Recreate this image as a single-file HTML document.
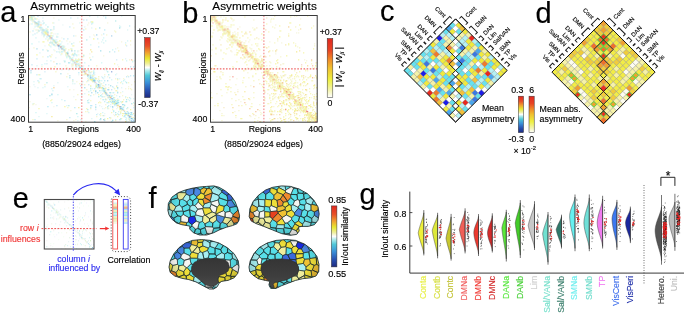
<!DOCTYPE html><html><head><meta charset="utf-8"><style>
html,body{margin:0;padding:0;background:#fff;}body{width:685px;height:315px;overflow:hidden;}
svg{display:block;will-change:transform;filter:blur(0.3px);font-family:"Liberation Sans", sans-serif;}
</style></head><body>
<svg width="685" height="315" viewBox="0 0 685 315">
<defs>
<linearGradient id="gdiv" x1="0" y1="1" x2="0" y2="0"><stop offset="0.000" stop-color="#1e2a80"/><stop offset="0.120" stop-color="#2850b0"/><stop offset="0.250" stop-color="#3a90d8"/><stop offset="0.370" stop-color="#50c8d8"/><stop offset="0.450" stop-color="#b0ecec"/><stop offset="0.500" stop-color="#ffffff"/><stop offset="0.560" stop-color="#f0f0a0"/><stop offset="0.650" stop-color="#e8e830"/><stop offset="0.750" stop-color="#f0a030"/><stop offset="0.860" stop-color="#e85028"/><stop offset="1.000" stop-color="#e02820"/></linearGradient>
<linearGradient id="gseq" x1="0" y1="1" x2="0" y2="0"><stop offset="0.000" stop-color="#ffffff"/><stop offset="0.120" stop-color="#f4f4b0"/><stop offset="0.300" stop-color="#eef040"/><stop offset="0.500" stop-color="#f0c030"/><stop offset="0.650" stop-color="#f08828"/><stop offset="0.800" stop-color="#e84424"/><stop offset="1.000" stop-color="#e02820"/></linearGradient>
<radialGradient id="bshade" cx="0.5" cy="0.45" r="0.6"><stop offset="0.6" stop-color="#000" stop-opacity="0"/><stop offset="1" stop-color="#000" stop-opacity="0.22"/></radialGradient>
<linearGradient id="wshade" x1="0" y1="0" x2="0" y2="1"><stop offset="0" stop-color="#353535"/><stop offset="0.6" stop-color="#3e3e3e"/><stop offset="1" stop-color="#4a4a4a"/></linearGradient>
</defs>
<text x="0.20" y="22.00" font-size="29" fill="#000" text-anchor="start"  stroke="#000" stroke-width="0.15">a</text>
<text x="182.20" y="22.60" font-size="29" fill="#000" text-anchor="start"  stroke="#000" stroke-width="0.15">b</text>
<text x="380.00" y="20.80" font-size="29" fill="#000" text-anchor="start"  stroke="#000" stroke-width="0.15">c</text>
<text x="535.40" y="22.60" font-size="29" fill="#000" text-anchor="start"  stroke="#000" stroke-width="0.15">d</text>
<text x="12.80" y="207.90" font-size="29" fill="#000" text-anchor="start"  stroke="#000" stroke-width="0.15">e</text>
<text x="148.60" y="207.50" font-size="29" fill="#000" text-anchor="start"  stroke="#000" stroke-width="0.15">f</text>
<text x="359.40" y="204.40" font-size="29" fill="#000" text-anchor="start"  stroke="#000" stroke-width="0.15">g</text>
<text x="30.30" y="9.70" font-size="11.75" fill="#000" text-anchor="start"  stroke="#000" stroke-width="0.15">Asymmetric weights</text>
<g transform="translate(28.5,15.5) scale(0.9972)">
<path d="M0 0h1M55 14h1M76 14h1M17 16h1M28 21h1M34 33h1M14 34h1M36 34h1M19 41h1M56 55h1M50 57h1M65 57h1M105 60h1M62 63h1M65 64h1M76 65h1M69 72h1M81 77h1M77 84h1M60 87h1M86 87h1M103 88h1M86 89h1M62 90h1M19 91h1M46 92h1M99 100h1M104 103h1" stroke="#8cdcf0" stroke-width="1" transform="translate(0,0.5)"/>
<path d="M2 0h1M5 1h1M2 2h1M1 4h1M44 8h1M10 10h1M10 11h1M45 12h1M14 13h1M18 13h1M7 14h1M9 14h1M86 15h1M1 16h1M15 16h1M16 18h1M19 18h1M15 19h1M78 19h1M22 24h1M19 25h1M51 26h1M24 27h1M27 30h1M34 30h1M5 32h1M35 33h1M33 34h1M31 36h1M36 36h1M37 38h1M43 39h1M55 39h1M38 40h1M14 41h1M101 44h1M104 45h1M46 46h1M52 47h1M45 48h1M37 50h1M13 51h1M90 51h1M97 52h1M61 57h1M53 58h1M55 59h1M76 59h1M61 61h1M59 63h1M68 63h1M87 63h1M95 63h1M60 64h1M70 64h1M44 65h1M58 66h1M65 66h1M73 68h1M68 69h1M67 72h1M80 72h1M100 73h1M41 74h1M58 74h1M76 74h1M103 74h1M77 75h1M87 75h1M92 77h1M65 79h1M77 79h1M86 79h1M94 80h1M97 82h1M72 83h1M77 83h1M47 84h1M83 85h1M86 85h1M71 86h1M84 87h1M4 89h1M77 89h1M89 89h1M0 92h1M77 92h1M89 92h1M93 94h1M93 95h1M59 96h1M92 96h1M98 96h1M97 99h1M72 100h1M74 100h1M86 100h1M68 101h1M82 102h1M103 102h1M105 102h1M82 103h1M38 104h1M101 105h1" stroke="#f0f0b4" stroke-width="1" transform="translate(0,0.5)"/>
<path d="M4 0h1M0 1h1M1 2h1M4 3h1M4 6h1M24 7h1M9 11h1M11 11h1M57 13h1M13 14h1M19 14h1M17 15h1M87 16h1M15 17h1M23 20h1M19 24h1M102 25h1M29 26h1M97 29h1M45 30h1M34 32h1M0 33h1M42 33h1M52 34h1M90 35h1M23 39h1M39 39h1M40 41h1M42 42h1M61 42h1M50 43h1M49 44h1M44 50h1M68 50h1M38 52h1M77 52h1M27 56h1M54 56h1M61 56h1M63 56h1M53 59h1M58 59h1M38 61h1M63 65h1M106 66h1M10 67h1M71 67h1M92 67h1M100 67h1M51 68h1M16 69h1M56 69h1M71 70h1M74 70h1M67 71h1M70 72h1M72 72h1M76 73h1M86 73h1M102 73h1M65 75h1M78 77h1M49 79h1M82 81h1M86 82h1M99 82h1M23 84h1M95 84h1M62 85h1M85 85h1M72 87h1M93 87h1M5 88h1M39 92h1M62 93h1M84 94h1M91 94h1M57 96h1M88 99h1M93 103h1M4 104h1M76 104h1M87 105h1" stroke="#f0f0a0" stroke-width="1" transform="translate(0,0.5)"/>
<path d="M5 0h1M61 0h1M3 3h1M8 7h1M19 11h1M11 12h1M18 15h1M19 16h1M26 26h1M23 27h1M33 36h1M41 41h1M60 55h1M79 56h1M80 59h1M41 62h1M71 65h1M68 71h1M62 73h1M71 75h1M75 75h1M21 80h1M72 80h1M70 81h1M83 81h1M82 86h1M90 87h1M96 90h1M48 98h1M98 98h1M102 99h1" stroke="#78dcdc" stroke-width="1" transform="translate(0,0.5)"/>
<path d="M9 0h1M10 6h1M7 7h1M9 8h1M68 19h1M23 22h1M54 54h1M70 71h1M89 72h1M67 76h1M84 83h1M87 88h1" stroke="#64b4dc" stroke-width="1" transform="translate(0,0.5)"/>
<path d="M75 0h1M2 1h1M42 2h1M77 2h1M0 3h1M55 4h1M58 4h1M5 5h1M7 8h1M63 8h1M10 9h1M101 10h1M41 11h1M12 12h1M13 12h1M25 13h1M12 14h1M16 14h1M4 15h1M14 18h1M75 18h1M16 19h1M45 20h1M18 21h1M35 23h1M39 23h1M69 23h1M24 24h1M26 25h1M22 26h1M27 26h1M33 31h1M70 31h1M30 33h1M28 36h1M86 36h1M44 39h1M45 39h1M21 40h1M45 40h1M8 43h1M43 43h1M44 45h1M48 45h1M45 46h1M47 48h1M48 48h1M50 48h1M3 49h1M49 49h1M60 50h1M102 51h1M105 51h1M55 54h1M65 58h1M8 59h1M60 60h1M102 60h1M64 61h1M98 61h1M100 61h1M74 62h1M81 62h1M12 63h1M65 63h1M89 63h1M44 64h1M9 65h1M59 65h1M69 65h1M70 66h1M68 68h1M60 69h1M77 69h1M84 71h1M66 73h1M85 77h1M62 80h1M83 80h1M74 81h1M91 81h1M81 82h1M101 82h1M52 84h1M75 84h1M84 84h1M86 84h1M36 85h1M76 86h1M85 86h1M79 87h1M83 87h1M67 89h1M95 89h1M28 90h1M63 90h1M80 90h1M67 91h1M62 92h1M84 92h1M95 92h1M99 92h1M94 93h1M85 96h1M99 96h1M100 97h1M102 97h1M96 98h1M68 99h1M87 99h1M90 99h1M103 99h1M75 100h1M96 100h1M96 101h1M41 102h1M81 102h1M92 103h1M102 103h1M106 103h1M6 104h1M72 104h1M91 104h1M101 104h1M76 105h1M83 106h1M103 106h1M104 106h1M106 106h1" stroke="#a0dcf0" stroke-width="1" transform="translate(0,0.5)"/>
<path d="M93 0h1M77 1h1M7 3h1M3 4h1M9 6h1M62 6h1M14 8h1M17 9h1M8 10h1M91 10h1M6 11h1M12 11h1M53 12h1M15 14h1M18 14h1M18 16h1M8 17h1M15 18h1M29 18h1M4 19h1M19 20h1M7 22h1M75 22h1M17 23h1M20 23h1M21 23h1M27 24h1M74 24h1M77 25h1M99 25h1M24 26h1M28 26h1M75 27h1M97 27h1M32 28h1M28 29h1M62 29h1M21 30h1M33 30h1M22 31h1M34 31h1M35 32h1M43 33h1M35 35h1M30 36h1M39 36h1M37 39h1M47 39h1M48 39h1M39 40h1M48 40h1M41 42h1M44 42h1M41 43h1M42 43h1M51 44h1M22 45h1M36 45h1M42 45h1M46 45h1M49 45h1M50 45h1M98 45h1M106 45h1M44 46h1M104 46h1M41 47h1M56 47h1M73 47h1M16 48h1M31 48h1M13 49h1M51 49h1M8 50h1M54 51h1M77 53h1M40 54h1M65 55h1M65 56h1M56 57h1M60 57h1M11 59h1M60 59h1M62 59h1M64 59h1M87 59h1M61 60h1M59 61h1M76 61h1M61 62h1M63 62h1M66 62h1M67 62h1M11 63h1M61 63h1M83 64h1M67 65h1M73 65h1M10 66h1M44 66h1M54 66h1M93 66h1M97 66h1M66 67h1M75 67h1M89 67h1M94 68h1M72 69h1M80 69h1M16 71h1M62 71h1M23 73h1M74 73h1M24 75h1M52 75h1M62 75h1M74 75h1M60 76h1M29 79h1M73 79h1M79 79h1M84 80h1M73 81h1M76 81h1M97 81h1M102 83h1M33 84h1M74 84h1M82 84h1M85 84h1M84 85h1M101 85h1M92 86h1M23 87h1M59 87h1M80 87h1M88 87h1M85 88h1M87 89h1M82 91h1M91 92h1M94 92h1M105 92h1M79 93h1M98 93h1M90 96h1M7 97h1M60 97h1M74 97h1M89 98h1M92 98h1M101 98h1M103 98h1M71 99h1M104 99h1M97 100h1M106 100h1M49 101h1M52 104h1M71 104h1M87 104h1M92 104h1M97 104h1M104 104h1M102 105h1M98 106h1M105 106h1" stroke="#b4f0f0" stroke-width="1" transform="translate(0,0.5)"/>
<path d="M1 1h1M25 25h1M62 34h1M94 86h1M50 92h1M23 101h1" stroke="#f0dc50" stroke-width="1" transform="translate(0,0.5)"/>
<path d="M3 1h1M71 12h1M91 12h1M14 14h1M22 14h1M10 15h1M32 32h1M19 35h1M72 35h1M38 37h1M40 47h1M28 48h1M59 60h1M56 72h1M74 72h1M69 77h1M89 77h1M23 79h1M89 87h1M94 89h1M101 102h1M84 105h1M66 106h1" stroke="#64c8dc" stroke-width="1" transform="translate(0,0.5)"/>
<path d="M4 1h1M6 8h1M34 9h1M12 13h1M13 13h1M8 14h1M13 15h1M27 18h1M13 19h1M19 22h1M28 24h1M39 28h1M16 30h1M31 34h1M49 36h1M53 43h1M35 45h1M89 49h1M43 50h1M55 50h1M42 53h1M67 53h1M69 53h1M66 57h1M88 58h1M50 59h1M54 69h1M6 71h1M72 77h1M82 79h1M103 79h1M45 81h1M18 83h1M73 91h1M88 93h1M69 98h1M76 98h1M98 102h1M102 102h1M84 104h1M98 104h1M100 106h1" stroke="#dcf0f0" stroke-width="1" transform="translate(0,0.5)"/>
<path d="M69 1h1M14 2h1M49 2h1M10 4h1M30 4h1M3 5h1M12 7h1M25 7h1M51 7h1M0 9h1M7 10h1M56 11h1M92 11h1M63 12h1M17 13h1M52 14h1M99 14h1M16 15h1M13 16h1M14 16h1M22 17h1M29 21h1M61 21h1M24 23h1M10 26h1M33 26h1M73 26h1M45 27h1M28 28h1M26 29h1M26 30h1M31 30h1M35 30h1M31 31h1M87 33h1M25 34h1M34 34h1M49 35h1M34 36h1M11 37h1M31 37h1M46 37h1M32 39h1M64 41h1M27 42h1M38 42h1M47 43h1M97 43h1M52 44h1M18 45h1M47 45h1M47 46h1M43 48h1M44 48h1M49 48h1M48 49h1M50 49h1M47 51h1M53 51h1M4 53h1M7 53h1M62 53h1M33 54h1M53 54h1M76 54h1M78 55h1M53 56h1M58 58h1M56 59h1M66 59h1M73 61h1M60 62h1M63 63h1M75 63h1M91 63h1M96 64h1M5 66h1M29 67h1M70 67h1M44 68h1M46 68h1M53 68h1M72 68h1M5 69h1M67 69h1M25 70h1M67 70h1M69 70h1M72 70h1M39 71h1M72 71h1M9 72h1M14 72h1M77 72h1M85 72h1M93 72h1M64 73h1M74 74h1M75 74h1M73 75h1M89 76h1M94 76h1M84 77h1M56 78h1M67 78h1M88 80h1M82 83h1M89 83h1M105 83h1M60 84h1M100 84h1M89 86h1M93 86h1M78 87h1M4 88h1M82 89h1M90 89h1M96 89h1M38 90h1M71 90h1M86 90h1M93 91h1M93 92h1M74 93h1M99 97h1M18 98h1M99 99h1M100 99h1M10 101h1M95 101h1M100 101h1M97 102h1M100 102h1M63 103h1M76 103h1M98 103h1M101 103h1M105 104h1M49 105h1M98 105h1M106 105h1" stroke="#c8f0f0" stroke-width="1" transform="translate(0,0.5)"/>
<path d="M0 2h1M6 2h1M25 2h1M2 4h1M60 7h1M79 7h1M1 8h1M59 9h1M24 14h1M9 16h1M16 17h1M18 17h1M22 18h1M65 19h1M73 19h1M47 20h1M15 21h1M24 25h1M38 25h1M41 26h1M93 26h1M22 27h1M70 27h1M23 29h1M102 29h1M36 31h1M89 32h1M18 34h1M26 35h1M61 38h1M50 39h1M37 40h1M75 40h1M47 47h1M51 47h1M43 49h1M44 49h1M47 52h1M57 55h1M39 58h1M61 59h1M65 60h1M99 60h1M79 61h1M70 63h1M60 65h1M48 66h1M103 69h1M75 70h1M100 71h1M73 73h1M97 73h1M77 76h1M80 79h1M78 80h1M75 81h1M80 81h1M78 84h1M88 84h1M89 84h1M90 84h1M1 86h1M81 86h1M104 88h1M106 88h1M105 90h1M95 91h1M79 92h1M80 93h1M99 93h1M42 95h1M96 95h1M91 99h1M103 101h1M104 102h1M100 103h1M47 104h1M100 104h1M29 105h1M45 105h1M57 106h1" stroke="#f0f0c8" stroke-width="1" transform="translate(0,0.5)"/>
<path d="M3 2h1M8 3h1M64 6h1M67 13h1M23 17h1M18 18h1M18 19h1M14 26h1M26 27h1M28 27h1M30 28h1M44 30h1M37 33h1M40 34h1M43 34h1M33 38h1M44 38h1M54 41h1M50 44h1M94 44h1M49 46h1M51 50h1M22 52h1M52 55h1M55 55h1M53 57h1M56 58h1M64 60h1M70 61h1M89 64h1M64 66h1M77 73h1M88 75h1M70 79h1M58 93h1M91 93h1M92 94h1M83 97h1M92 97h1M72 98h1M95 98h1M89 101h1" stroke="#f0f08c" stroke-width="1" transform="translate(0,0.5)"/>
<path d="M2 3h1M64 7h1M3 8h1M15 20h1M24 20h1M3 28h1M24 28h1M84 34h1M38 41h1M47 50h1M95 65h1M89 73h1M90 85h1M88 86h1M97 86h1M85 87h1M105 87h1M89 88h1M85 95h1" stroke="#a0f0f0" stroke-width="1" transform="translate(0,0.5)"/>
<path d="M6 3h1M87 5h1M15 7h1M10 8h1M25 11h1M21 20h1M25 24h1M58 24h1M43 28h1M31 29h1M46 35h1M81 36h1M39 37h1M46 38h1M55 40h1M36 46h1M55 53h1M2 57h1M62 60h1M53 62h1M64 63h1M66 64h1M64 65h1M18 67h1M98 67h1M69 69h1M82 77h1M77 78h1M53 79h1M80 82h1M85 82h1M81 84h1M98 84h1M59 85h1M87 85h1M89 85h1M98 86h1M40 90h1M79 91h1M67 92h1M59 94h1M96 96h1M87 97h1" stroke="#8cdcdc" stroke-width="1" transform="translate(0,0.5)"/>
<path d="M4 4h1M6 7h1M63 64h1M90 90h1M105 98h1" stroke="#f0dc8c" stroke-width="1" transform="translate(0,0.5)"/>
<path d="M14 5h1M9 9h1M9 10h1M14 15h1M15 15h1M6 18h1M98 30h1M35 31h1M88 44h1M18 48h1M48 51h1M103 53h1M16 56h1M62 57h1M64 62h1M88 70h1M71 71h1M75 76h1M23 78h1M88 90h1M92 92h1M67 94h1M95 94h1M97 97h1M99 98h1" stroke="#b4dcf0" stroke-width="1" transform="translate(0,0.5)"/>
<path d="M6 6h1M20 20h1M83 20h1M21 21h1M43 35h1M2 55h1M84 91h1M75 104h1" stroke="#78b4dc" stroke-width="1" transform="translate(0,0.5)"/>
<path d="M11 6h1M6 9h1M106 11h1M5 13h1M10 14h1M25 18h1M28 20h1M66 20h1M33 22h1M50 35h1M52 49h1M43 51h1M44 52h1M50 52h1M28 54h1M45 54h1M1 71h1M76 71h1M70 73h1M45 74h1M76 78h1M7 89h1M25 91h1M76 93h1M85 99h1M76 100h1" stroke="#f0f0dc" stroke-width="1" transform="translate(0,0.5)"/>
<path d="M63 6h1M52 21h1M21 22h1M31 25h1M8 39h1M45 45h1M68 70h1M73 72h1M36 91h1M102 94h1M98 99h1M79 103h1" stroke="#f0f064" stroke-width="1" transform="translate(0,0.5)"/>
<path d="M8 8h1M63 36h1M67 63h1" stroke="#f0dc64" stroke-width="1" transform="translate(0,0.5)"/>
<path d="M12 9h1" stroke="#f0a064" stroke-width="1" transform="translate(0,0.5)"/>
<path d="M16 16h1M17 18h1M15 26h1M20 29h1M38 38h1M22 41h1M47 44h1M86 48h1M26 51h1M10 59h1M62 70h1M88 71h1M76 77h1M60 79h1M22 85h1M80 86h1M70 87h1M87 87h1M84 88h1M86 88h1M10 93h1M94 98h1M94 100h1M101 100h1" stroke="#f0f078" stroke-width="1" transform="translate(0,0.5)"/>
<path d="M13 17h1M23 23h1M35 34h1M51 51h1M83 74h1M78 79h1" stroke="#a0c8f0" stroke-width="1" transform="translate(0,0.5)"/>
<path d="M17 17h1M65 23h1M64 64h1" stroke="#f0f050" stroke-width="1" transform="translate(0,0.5)"/>
<path d="M19 17h1M78 78h1" stroke="#a0b4dc" stroke-width="1" transform="translate(0,0.5)"/>
<path d="M19 19h1M53 53h1" stroke="#f08c78" stroke-width="1" transform="translate(0,0.5)"/>
<path d="M22 20h1M81 81h1" stroke="#f0dc78" stroke-width="1" transform="translate(0,0.5)"/>
<path d="M22 22h1" stroke="#f07878" stroke-width="1" transform="translate(0,0.5)"/>
<path d="M21 27h1M52 52h1M55 56h1M62 61h1M52 70h1M70 70h1M79 74h1M76 75h1" stroke="#8cc8f0" stroke-width="1" transform="translate(0,0.5)"/>
<path d="M27 27h1M97 98h1" stroke="#8cb4dc" stroke-width="1" transform="translate(0,0.5)"/>
<path d="M25 29h1M29 30h1M8 33h1M62 44h1M51 52h1M32 58h1M79 65h1M82 70h1M80 74h1M67 75h1M76 76h1M63 77h1M1 79h1M79 80h1M84 86h1M86 86h1M93 93h1M94 94h1M103 97h1M72 103h1" stroke="#78c8dc" stroke-width="1" transform="translate(0,0.5)"/>
<path d="M29 29h1M56 56h1" stroke="#f06464" stroke-width="1" transform="translate(0,0.5)"/>
<path d="M30 30h1" stroke="#3c508c" stroke-width="1" transform="translate(0,0.5)"/>
<path d="M30 31h1M103 105h1M105 105h1" stroke="#8cb4f0" stroke-width="1" transform="translate(0,0.5)"/>
<path d="M32 31h1" stroke="#dc503c" stroke-width="1" transform="translate(0,0.5)"/>
<path d="M33 33h1" stroke="#788cc8" stroke-width="1" transform="translate(0,0.5)"/>
<path d="M36 35h1M44 44h1M50 50h1" stroke="#f0c88c" stroke-width="1" transform="translate(0,0.5)"/>
<path d="M37 37h1M25 46h1" stroke="#f0dca0" stroke-width="1" transform="translate(0,0.5)"/>
<path d="M39 38h1" stroke="#648cc8" stroke-width="1" transform="translate(0,0.5)"/>
<path d="M40 40h1M66 66h1" stroke="#b4b4dc" stroke-width="1" transform="translate(0,0.5)"/>
<path d="M43 44h1" stroke="#f0a08c" stroke-width="1" transform="translate(0,0.5)"/>
<path d="M103 44h1M71 72h1" stroke="#f0a078" stroke-width="1" transform="translate(0,0.5)"/>
<path d="M48 46h1M97 106h1" stroke="#f0c850" stroke-width="1" transform="translate(0,0.5)"/>
<path d="M46 47h1" stroke="#a0a0dc" stroke-width="1" transform="translate(0,0.5)"/>
<path d="M47 49h1" stroke="#f0a050" stroke-width="1" transform="translate(0,0.5)"/>
<path d="M54 53h1M74 78h1M79 82h1" stroke="#f0dcb4" stroke-width="1" transform="translate(0,0.5)"/>
<path d="M58 55h1M57 58h1M25 72h1" stroke="#f0b450" stroke-width="1" transform="translate(0,0.5)"/>
<path d="M83 56h1" stroke="#5078c8" stroke-width="1" transform="translate(0,0.5)"/>
<path d="M57 57h1M95 95h1" stroke="#f0c8a0" stroke-width="1" transform="translate(0,0.5)"/>
<path d="M59 59h1" stroke="#f07850" stroke-width="1" transform="translate(0,0.5)"/>
<path d="M41 60h1M100 98h1M102 101h1" stroke="#8cc8dc" stroke-width="1" transform="translate(0,0.5)"/>
<path d="M62 62h1M83 83h1M92 93h1" stroke="#64a0dc" stroke-width="1" transform="translate(0,0.5)"/>
<path d="M62 64h1" stroke="#f0f03c" stroke-width="1" transform="translate(0,0.5)"/>
<path d="M65 65h1M77 77h1M88 88h1M92 91h1M103 103h1" stroke="#50a0dc" stroke-width="1" transform="translate(0,0.5)"/>
<path d="M66 65h1M75 73h1" stroke="#50b4dc" stroke-width="1" transform="translate(0,0.5)"/>
<path d="M67 67h1" stroke="#f0b4b4" stroke-width="1" transform="translate(0,0.5)"/>
<path d="M70 69h1" stroke="#3c64b4" stroke-width="1" transform="translate(0,0.5)"/>
<path d="M80 80h1" stroke="#b4c8dc" stroke-width="1" transform="translate(0,0.5)"/>
<path d="M81 80h1" stroke="#78a0dc" stroke-width="1" transform="translate(0,0.5)"/>
<path d="M82 82h1" stroke="#f08c64" stroke-width="1" transform="translate(0,0.5)"/>
<path d="M89 90h1" stroke="#f0c864" stroke-width="1" transform="translate(0,0.5)"/>
<path d="M91 91h1" stroke="#f08c50" stroke-width="1" transform="translate(0,0.5)"/>
<path d="M100 100h1" stroke="#a0a0c8" stroke-width="1" transform="translate(0,0.5)"/>
<path d="M101 101h1" stroke="#8c8cc8" stroke-width="1" transform="translate(0,0.5)"/>
</g>
<path d="M81.8 15.5 V122.2" stroke="#f27c7c" stroke-width="1.0" stroke-dasharray="1.6 1.5" fill="none"/>
<path d="M28.5 68.8 H135.2" stroke="#f06a6a" stroke-width="1.2" stroke-dasharray="1.6 1.5" fill="none"/>
<rect x="28.5" y="15.5" width="106.7" height="106.7" fill="none" stroke="#3a3a3a" stroke-width="1"/>
<text x="25.30" y="21.70" font-size="8.8" fill="#000" text-anchor="end"  stroke="#000" stroke-width="0.15">1</text>
<text x="25.30" y="122.20" font-size="8.8" fill="#000" text-anchor="end"  stroke="#000" stroke-width="0.15">400</text>
<text x="30.60" y="132.00" font-size="8.8" fill="#000" text-anchor="middle"  stroke="#000" stroke-width="0.15">1</text>
<text x="82.80" y="132.00" font-size="8.8" fill="#000" text-anchor="middle"  stroke="#000" stroke-width="0.15">Regions</text>
<text x="133.60" y="132.00" font-size="8.8" fill="#000" text-anchor="middle"  stroke="#000" stroke-width="0.15">400</text>
<text x="81.50" y="147.20" font-size="8.8" fill="#000" text-anchor="middle"  stroke="#000" stroke-width="0.15">(8850/29024 edges)</text>
<text transform="translate(23.6,68.5) rotate(-90)" font-size="8.8" text-anchor="middle" stroke="#000" stroke-width="0.15">Regions</text>
<text x="212.30" y="9.70" font-size="11.75" fill="#000" text-anchor="start"  stroke="#000" stroke-width="0.15">Asymmetric weights</text>
<g transform="translate(210.5,15.5) scale(0.9972)">
<path d="M0 0h1M2 2h1M8 7h1M1 10h1M3 14h1M8 14h1M80 14h1M12 18h1M17 20h1M1 21h1M22 23h1M29 25h1M29 26h1M21 27h1M22 27h1M45 28h1M78 28h1M31 29h1M85 30h1M21 31h1M33 33h1M28 35h1M59 35h1M76 40h1M41 41h1M48 44h1M88 44h1M66 45h1M47 46h1M65 48h1M2 53h1M45 54h1M4 56h1M56 58h1M81 59h1M85 59h1M63 60h1M33 62h1M93 66h1M66 67h1M62 68h1M90 69h1M83 70h1M104 70h1M52 71h1M106 72h1M76 73h1M17 74h1M53 74h1M70 74h1M76 74h1M73 77h1M73 81h1M106 81h1M1 82h1M84 82h1M81 83h1M90 83h1M76 84h1M95 85h1M84 87h1M106 88h1M92 89h1M60 92h1M93 92h1M84 95h1M91 95h1M67 96h1M25 100h1M101 102h1M103 102h1M71 105h1M92 105h1M106 105h1M75 106h1M99 106h1" stroke="#f0f064" stroke-width="1" transform="translate(0,0.5)"/>
<path d="M1 0h1M3 0h1M86 0h1M5 1h1M4 2h1M61 3h1M3 4h1M4 4h1M6 4h1M0 5h1M6 6h1M7 6h1M8 6h1M12 6h1M79 7h1M80 7h1M5 8h1M56 8h1M7 9h1M6 10h1M12 10h1M14 10h1M20 11h1M9 12h1M11 13h1M12 13h1M9 14h1M15 14h1M16 14h1M18 14h1M70 15h1M58 16h1M13 17h1M19 17h1M27 17h1M27 19h1M22 20h1M37 22h1M24 24h1M25 24h1M51 24h1M17 26h1M27 26h1M23 27h1M83 27h1M33 29h1M27 30h1M33 30h1M34 31h1M58 31h1M5 32h1M30 32h1M35 32h1M34 33h1M26 34h1M30 34h1M13 37h1M39 37h1M15 38h1M38 38h1M39 38h1M40 38h1M39 39h1M59 40h1M33 41h1M12 43h1M42 43h1M45 43h1M46 43h1M51 44h1M38 45h1M44 45h1M48 45h1M101 45h1M55 46h1M44 47h1M44 49h1M5 50h1M43 50h1M49 50h1M52 50h1M66 51h1M91 51h1M53 54h1M56 54h1M58 54h1M95 54h1M54 55h1M95 55h1M58 57h1M67 57h1M55 58h1M63 59h1M66 59h1M9 61h1M42 61h1M59 61h1M52 62h1M98 62h1M60 63h1M64 63h1M84 63h1M66 64h1M89 64h1M96 64h1M43 65h1M55 65h1M66 65h1M60 66h1M68 66h1M85 67h1M92 67h1M15 68h1M58 68h1M66 68h1M72 68h1M61 69h1M78 69h1M68 70h1M70 70h1M80 70h1M93 70h1M71 71h1M85 71h1M17 72h1M20 72h1M62 72h1M64 72h1M67 72h1M68 72h1M75 72h1M72 73h1M74 73h1M99 73h1M57 74h1M58 74h1M73 74h1M81 74h1M20 76h1M74 76h1M74 77h1M90 77h1M72 78h1M75 78h1M100 78h1M106 78h1M80 79h1M81 79h1M78 80h1M79 80h1M80 80h1M62 81h1M72 81h1M84 81h1M87 82h1M89 82h1M92 82h1M68 83h1M92 83h1M75 84h1M79 84h1M94 84h1M96 84h1M86 85h1M88 85h1M88 86h1M72 87h1M85 87h1M90 87h1M72 88h1M73 88h1M80 88h1M88 88h1M89 88h1M92 88h1M95 88h1M97 88h1M21 89h1M35 89h1M74 89h1M106 89h1M31 90h1M68 90h1M95 91h1M87 92h1M89 92h1M96 92h1M102 92h1M75 93h1M95 93h1M88 94h1M93 94h1M95 94h1M103 94h1M59 95h1M85 95h1M86 95h1M62 96h1M77 96h1M95 96h1M105 97h1M60 98h1M79 98h1M100 98h1M98 99h1M100 99h1M104 99h1M11 100h1M98 100h1M105 100h1M104 102h1M31 103h1M78 103h1M86 103h1M102 103h1M80 104h1M101 104h1M103 104h1M105 104h1M60 105h1M105 105h1M50 106h1M70 106h1M74 106h1M104 106h1" stroke="#f0f08c" stroke-width="1" transform="translate(0,0.5)"/>
<path d="M4 0h1M5 2h1M0 3h1M43 4h1M1 6h1M60 6h1M7 8h1M8 9h1M9 9h1M103 10h1M9 11h1M12 11h1M42 12h1M64 12h1M43 14h1M44 14h1M88 14h1M13 15h1M14 15h1M15 15h1M18 15h1M69 15h1M13 16h1M16 16h1M24 16h1M35 16h1M2 17h1M15 17h1M22 17h1M13 18h1M15 18h1M17 18h1M19 18h1M24 19h1M12 20h1M23 21h1M25 21h1M22 22h1M24 22h1M26 22h1M9 24h1M18 24h1M21 24h1M35 25h1M67 25h1M21 26h1M23 26h1M38 26h1M33 27h1M34 27h1M47 28h1M28 29h1M41 29h1M104 30h1M18 32h1M34 32h1M39 32h1M32 33h1M40 33h1M1 34h1M10 35h1M41 35h1M46 35h1M62 35h1M36 36h1M65 36h1M44 37h1M35 38h1M45 38h1M38 39h1M50 40h1M40 41h1M45 41h1M70 41h1M36 44h1M47 45h1M42 46h1M49 46h1M34 47h1M46 47h1M60 47h1M105 47h1M73 48h1M48 49h1M50 49h1M45 50h1M50 50h1M51 50h1M43 51h1M61 52h1M35 53h1M50 53h1M51 53h1M54 53h1M55 53h1M58 53h1M47 54h1M55 55h1M57 55h1M84 55h1M55 56h1M58 56h1M37 57h1M55 57h1M62 57h1M54 58h1M58 58h1M60 59h1M74 59h1M75 59h1M57 60h1M70 60h1M79 60h1M19 61h1M52 61h1M64 61h1M71 61h1M80 61h1M106 61h1M9 62h1M60 62h1M63 62h1M66 62h1M104 62h1M62 63h1M82 63h1M106 63h1M60 64h1M65 64h1M92 64h1M63 65h1M67 65h1M75 65h1M85 65h1M101 65h1M53 66h1M64 66h1M65 66h1M66 66h1M62 67h1M80 67h1M87 67h1M94 67h1M79 68h1M81 68h1M84 68h1M25 69h1M68 69h1M96 69h1M40 70h1M90 70h1M58 71h1M64 71h1M65 71h1M68 71h1M72 71h1M74 71h1M78 72h1M66 73h1M103 73h1M75 74h1M70 75h1M73 75h1M78 75h1M73 76h1M87 76h1M99 76h1M0 77h1M16 77h1M78 77h1M82 77h1M6 78h1M57 78h1M71 78h1M73 78h1M74 78h1M78 78h1M89 78h1M64 79h1M69 79h1M71 79h1M76 79h1M96 79h1M102 79h1M104 79h1M59 80h1M63 80h1M75 80h1M86 80h1M94 80h1M90 81h1M0 82h1M67 82h1M93 82h1M54 83h1M59 83h1M103 83h1M28 84h1M34 84h1M82 84h1M86 84h1M99 84h1M105 84h1M106 84h1M76 85h1M89 85h1M90 86h1M91 86h1M96 86h1M103 86h1M96 87h1M65 88h1M85 88h1M93 88h1M49 89h1M79 90h1M87 90h1M88 90h1M91 90h1M103 90h1M63 91h1M71 91h1M101 91h1M91 92h1M71 93h1M98 93h1M91 94h1M28 95h1M49 95h1M69 95h1M71 95h1M64 96h1M50 97h1M78 97h1M90 97h1M98 97h1M11 98h1M103 98h1M50 99h1M86 99h1M94 99h1M102 99h1M48 102h1M69 102h1M73 102h1M100 102h1M44 103h1M59 103h1M67 103h1M75 103h1M90 103h1M97 103h1M101 103h1M2 104h1M81 104h1M86 104h1M106 104h1M11 105h1M93 105h1M102 105h1M60 106h1M67 106h1M102 106h1" stroke="#f0f0b4" stroke-width="1" transform="translate(0,0.5)"/>
<path d="M7 0h1M84 0h1M10 1h1M34 1h1M80 1h1M0 2h1M3 3h1M63 3h1M0 4h1M2 4h1M23 4h1M1 5h1M9 6h1M5 7h1M11 7h1M20 9h1M21 9h1M23 9h1M9 10h1M16 11h1M62 11h1M85 11h1M6 12h1M7 12h1M11 12h1M14 12h1M13 13h1M16 13h1M44 13h1M10 14h1M7 15h1M12 15h1M18 16h1M14 17h1M36 18h1M78 18h1M12 19h1M17 19h1M1 20h1M20 20h1M53 20h1M10 21h1M18 21h1M24 21h1M26 21h1M11 22h1M23 23h1M44 23h1M48 23h1M26 24h1M27 24h1M16 25h1M19 25h1M21 25h1M28 25h1M24 26h1M26 26h1M20 27h1M26 27h1M28 27h1M29 27h1M64 27h1M30 28h1M2 29h1M22 29h1M78 29h1M30 30h1M32 30h1M46 30h1M30 31h1M32 31h1M89 32h1M10 34h1M33 34h1M49 34h1M29 35h1M32 35h1M34 35h1M32 36h1M26 37h1M38 37h1M5 38h1M41 38h1M42 38h1M35 39h1M39 40h1M42 40h1M54 40h1M34 41h1M43 41h1M49 41h1M42 42h1M32 43h1M40 43h1M43 43h1M47 43h1M39 44h1M43 44h1M45 44h1M52 44h1M0 45h1M43 45h1M52 45h1M59 46h1M48 47h1M44 48h1M52 48h1M101 48h1M52 49h1M56 50h1M59 50h1M44 51h1M48 51h1M49 51h1M41 52h1M43 52h1M48 52h1M104 52h1M56 53h1M78 53h1M35 54h1M40 54h1M55 54h1M56 55h1M97 55h1M72 56h1M12 57h1M51 57h1M53 57h1M56 57h1M0 58h1M58 59h1M65 59h1M100 59h1M42 60h1M52 60h1M59 60h1M62 60h1M64 60h1M80 60h1M87 60h1M56 61h1M86 61h1M88 61h1M91 61h1M95 61h1M99 61h1M38 62h1M65 62h1M77 62h1M10 63h1M61 63h1M66 63h1M48 64h1M59 64h1M73 64h1M80 64h1M73 65h1M102 65h1M81 66h1M68 67h1M71 67h1M84 67h1M53 68h1M56 68h1M68 68h1M71 68h1M83 68h1M51 69h1M64 69h1M69 69h1M70 69h1M89 69h1M58 70h1M62 70h1M71 70h1M76 70h1M87 70h1M95 70h1M16 71h1M35 71h1M63 71h1M82 71h1M60 72h1M104 72h1M67 73h1M10 74h1M92 74h1M66 75h1M76 75h1M77 75h1M96 75h1M54 76h1M77 76h1M89 76h1M90 76h1M24 77h1M43 77h1M75 77h1M79 77h1M92 77h1M77 78h1M79 78h1M88 78h1M93 78h1M83 79h1M11 80h1M71 80h1M81 80h1M82 80h1M83 80h1M32 81h1M76 81h1M77 81h1M80 81h1M81 81h1M103 81h1M43 82h1M54 82h1M64 82h1M77 82h1M79 82h1M80 82h1M81 82h1M82 82h1M83 82h1M21 83h1M62 83h1M82 83h1M33 84h1M39 84h1M62 84h1M88 84h1M91 84h1M25 85h1M54 85h1M60 85h1M66 86h1M73 86h1M98 86h1M86 87h1M91 87h1M41 88h1M57 88h1M58 88h1M86 88h1M91 89h1M100 89h1M103 89h1M4 90h1M54 90h1M81 90h1M89 90h1M104 90h1M67 91h1M80 92h1M92 92h1M105 92h1M84 93h1M85 93h1M87 93h1M89 93h1M92 93h1M94 93h1M96 93h1M60 94h1M73 94h1M82 94h1M90 94h1M96 94h1M61 95h1M64 95h1M89 95h1M92 95h1M95 95h1M102 95h1M92 96h1M94 96h1M104 96h1M71 97h1M83 97h1M93 97h1M97 97h1M61 98h1M98 98h1M99 98h1M66 99h1M78 99h1M95 99h1M97 99h1M101 99h1M45 100h1M75 100h1M84 100h1M89 100h1M97 100h1M99 100h1M104 100h1M73 101h1M98 101h1M99 101h1M101 101h1M86 102h1M97 102h1M98 102h1M63 103h1M93 103h1M98 103h1M104 103h1M61 104h1M92 104h1M94 104h1M99 104h1M47 105h1M97 105h1M98 105h1M99 105h1M101 105h1M78 106h1M98 106h1" stroke="#f0f0a0" stroke-width="1" transform="translate(0,0.5)"/>
<path d="M64 0h1M23 20h1M32 20h1M78 20h1M29 28h1M31 31h1M89 35h1M27 37h1M39 41h1M34 42h1M46 48h1M33 55h1M54 56h1M73 60h1M93 62h1M67 67h1M18 71h1M34 76h1M75 76h1M25 79h1M69 85h1M73 87h1M88 89h1M71 90h1M61 91h1M100 91h1M80 93h1M70 94h1M85 94h1M59 96h1M22 97h1M100 97h1M106 98h1M100 101h1M106 101h1M87 103h1M106 103h1M104 105h1M97 106h1" stroke="#f0dc64" stroke-width="1" transform="translate(0,0.5)"/>
<path d="M97 0h1M0 1h1M4 1h1M15 2h1M20 2h1M89 9h1M69 10h1M12 12h1M101 12h1M17 15h1M31 16h1M14 18h1M51 18h1M18 19h1M19 19h1M24 20h1M19 22h1M21 22h1M29 22h1M17 23h1M19 24h1M25 27h1M54 31h1M36 32h1M5 33h1M16 33h1M30 33h1M103 33h1M42 37h1M93 37h1M36 39h1M45 39h1M67 44h1M26 46h1M35 46h1M43 46h1M46 46h1M50 46h1M50 47h1M95 47h1M45 48h1M36 49h1M22 51h1M52 51h1M46 52h1M58 55h1M73 56h1M89 56h1M54 57h1M45 58h1M59 58h1M12 59h1M61 59h1M91 60h1M100 60h1M62 61h1M65 61h1M84 61h1M100 61h1M59 62h1M71 62h1M79 62h1M106 62h1M58 63h1M6 64h1M62 65h1M65 65h1M56 66h1M62 66h1M75 66h1M94 66h1M32 67h1M69 67h1M67 70h1M72 70h1M103 70h1M70 71h1M73 71h1M77 71h1M69 72h1M72 72h1M87 72h1M78 73h1M80 73h1M64 74h1M65 75h1M80 76h1M88 76h1M61 78h1M83 78h1M76 80h1M88 80h1M68 81h1M82 81h1M59 82h1M91 83h1M84 85h1M87 85h1M71 86h1M83 86h1M84 86h1M60 87h1M88 87h1M7 88h1M87 88h1M90 88h1M80 89h1M89 89h1M7 90h1M78 90h1M84 90h1M86 90h1M98 90h1M41 91h1M79 91h1M93 91h1M94 91h1M95 92h1M90 93h1M94 94h1M77 95h1M69 96h1M93 96h1M95 97h1M101 97h1M42 98h1M75 98h1M96 99h1M94 100h1M100 100h1M102 101h1M85 102h1M106 102h1M30 103h1M92 103h1M103 103h1M98 104h1M104 104h1" stroke="#f0f078" stroke-width="1" transform="translate(0,0.5)"/>
<path d="M1 1h1M2 7h1M25 25h1M40 39h1M46 45h1M57 56h1M83 72h1M84 84h1M90 90h1M96 91h1M102 102h1M49 106h1" stroke="#f0a08c" stroke-width="1" transform="translate(0,0.5)"/>
<path d="M2 1h1M1 2h1M56 2h1M15 4h1M46 12h1M24 25h1M31 26h1M26 29h1M20 35h1M41 40h1M106 47h1M70 49h1M19 64h1M70 68h1M104 69h1M70 72h1M74 74h1M27 76h1M78 76h1M90 79h1M104 83h1M69 88h1M13 92h1M94 95h1M99 97h1M63 99h1M95 105h1M103 106h1" stroke="#f0dca0" stroke-width="1" transform="translate(0,0.5)"/>
<path d="M3 1h1M80 77h1" stroke="#f06464" stroke-width="1" transform="translate(0,0.5)"/>
<path d="M13 1h1M2 3h1M90 3h1M14 4h1M60 4h1M22 5h1M11 8h1M6 9h1M10 9h1M65 9h1M10 10h1M6 11h1M18 11h1M29 11h1M10 12h1M7 14h1M17 14h1M19 15h1M14 16h1M86 17h1M88 17h1M25 18h1M19 20h1M20 23h1M24 23h1M20 24h1M22 24h1M39 24h1M26 25h1M27 25h1M25 26h1M59 26h1M71 27h1M85 28h1M104 28h1M20 29h1M47 30h1M87 31h1M41 33h1M21 36h1M34 36h1M65 38h1M24 39h1M34 39h1M36 41h1M37 41h1M37 42h1M42 44h1M94 44h1M50 45h1M96 45h1M48 46h1M50 48h1M72 48h1M46 49h1M49 49h1M47 50h1M54 51h1M1 52h1M23 52h1M37 52h1M44 52h1M52 52h1M102 52h1M53 53h1M66 53h1M102 53h1M54 54h1M59 57h1M72 60h1M74 60h1M92 60h1M6 61h1M63 61h1M66 61h1M61 62h1M69 62h1M97 62h1M26 63h1M59 63h1M78 63h1M93 63h1M70 64h1M32 65h1M61 65h1M64 65h1M81 65h1M59 66h1M70 67h1M64 68h1M67 68h1M59 69h1M71 69h1M72 69h1M77 69h1M84 70h1M79 71h1M86 71h1M87 71h1M61 73h1M69 73h1M81 73h1M88 73h1M27 74h1M80 74h1M54 75h1M81 76h1M59 79h1M91 80h1M65 81h1M96 81h1M95 82h1M101 82h1M104 82h1M63 83h1M80 83h1M87 83h1M75 85h1M78 85h1M30 86h1M87 86h1M97 86h1M11 87h1M87 87h1M81 88h1M85 89h1M86 89h1M83 90h1M40 91h1M82 91h1M89 91h1M91 91h1M100 92h1M91 93h1M93 93h1M102 94h1M9 95h1M24 96h1M90 96h1M51 98h1M13 100h1M102 100h1M106 100h1M40 101h1M80 101h1M25 102h1M79 102h1M95 102h1M100 104h1M102 104h1M80 105h1M103 105h1" stroke="#f0f0c8" stroke-width="1" transform="translate(0,0.5)"/>
<path d="M1 3h1M36 30h1M33 32h1M56 32h1M36 34h1M33 35h1M35 35h1M65 35h1M37 39h1M44 44h1M67 62h1M82 79h1M73 85h1M22 92h1M87 95h1M105 98h1M80 99h1" stroke="#f0c864" stroke-width="1" transform="translate(0,0.5)"/>
<path d="M4 3h1M23 24h1M45 45h1M91 49h1M63 74h1M83 81h1M86 86h1" stroke="#f0b4a0" stroke-width="1" transform="translate(0,0.5)"/>
<path d="M21 3h1M1 4h1M8 10h1M53 12h1M16 15h1M19 16h1M16 17h1M18 18h1M46 22h1M67 23h1M28 28h1M10 29h1M35 31h1M31 35h1M34 37h1M45 46h1M52 46h1M4 50h1M10 56h1M60 57h1M86 57h1M62 62h1M63 63h1M60 65h1M49 68h1M67 71h1M71 72h1M96 74h1M76 78h1M68 82h1M94 82h1M85 84h1M91 85h1M103 88h1M28 90h1M70 96h1M99 99h1M39 100h1M94 102h1M99 102h1M105 102h1" stroke="#f0dc8c" stroke-width="1" transform="translate(0,0.5)"/>
<path d="M5 4h1M12 4h1M12 14h1M19 29h1M35 34h1M33 36h1M35 36h1M86 36h1M30 42h1M46 44h1M67 47h1M42 53h1M60 53h1M3 56h1M60 60h1M105 60h1M70 65h1M76 65h1M97 68h1M68 73h1M70 73h1M64 75h1M63 78h1M85 86h1M79 87h1M103 100h1M105 101h1M62 104h1M74 104h1M44 106h1M100 106h1" stroke="#f0dc50" stroke-width="1" transform="translate(0,0.5)"/>
<path d="M4 5h1M4 6h1M35 17h1M34 18h1M75 29h1M35 30h1M66 34h1M51 43h1M45 51h1M81 60h1M67 61h1M69 68h1M75 75h1M77 77h1M65 78h1M87 80h1M70 81h1M104 81h1M79 83h1M103 87h1M61 96h1M84 98h1M86 98h1M105 99h1M96 100h1M70 103h1M99 103h1M73 104h1" stroke="#f0dc78" stroke-width="1" transform="translate(0,0.5)"/>
<path d="M5 5h1M30 29h1M31 30h1M73 73h1M85 85h1" stroke="#f08c8c" stroke-width="1" transform="translate(0,0.5)"/>
<path d="M6 5h1M9 8h1M43 35h1M32 39h1M56 56h1M57 58h1M70 76h1M88 82h1M34 87h1M89 87h1M45 96h1M61 99h1" stroke="#f0a064" stroke-width="1" transform="translate(0,0.5)"/>
<path d="M17 5h1M10 11h1M11 11h1M40 19h1M20 21h1M69 21h1M28 31h1M48 33h1M34 34h1M37 37h1M26 39h1M42 41h1M105 50h1M51 51h1M15 71h1M79 74h1M85 81h1M99 82h1M98 85h1M76 88h1M92 90h1M99 90h1M78 94h1" stroke="#f0f050" stroke-width="1" transform="translate(0,0.5)"/>
<path d="M6 7h1M7 7h1M11 10h1M14 13h1M90 13h1M21 20h1M51 45h1M60 61h1M68 64h1M79 76h1M76 77h1M77 79h1M76 89h1M93 95h1M84 96h1M97 98h1M60 99h1M83 105h1" stroke="#f0c878" stroke-width="1" transform="translate(0,0.5)"/>
<path d="M9 7h1M51 52h1M61 60h1M90 68h1M54 77h1M106 87h1M87 89h1M90 92h1M43 99h1" stroke="#f0c8a0" stroke-width="1" transform="translate(0,0.5)"/>
<path d="M8 8h1M37 36h1M54 59h1M106 106h1" stroke="#f07878" stroke-width="1" transform="translate(0,0.5)"/>
<path d="M78 11h1M17 16h1M0 40h1M53 41h1M44 43h1M45 47h1M77 74h1M39 93h1" stroke="#f0b450" stroke-width="1" transform="translate(0,0.5)"/>
<path d="M15 13h1M92 91h1" stroke="#f0dcb4" stroke-width="1" transform="translate(0,0.5)"/>
<path d="M17 13h1M37 38h1M69 70h1M105 106h1" stroke="#f07864" stroke-width="1" transform="translate(0,0.5)"/>
<path d="M27 13h1M55 14h1M39 16h1M31 36h1M50 51h1M69 52h1M49 53h1M57 57h1M93 60h1M75 73h1M83 83h1" stroke="#f0c88c" stroke-width="1" transform="translate(0,0.5)"/>
<path d="M13 14h1M27 27h1M47 47h1M57 59h1M79 81h1M96 95h1" stroke="#f0a0a0" stroke-width="1" transform="translate(0,0.5)"/>
<path d="M14 14h1M21 21h1M59 59h1M63 64h1" stroke="#f08c78" stroke-width="1" transform="translate(0,0.5)"/>
<path d="M19 14h1M105 48h1" stroke="#f0ffdc" stroke-width="1" transform="translate(0,0.5)"/>
<path d="M17 17h1M88 105h1" stroke="#f0ffc8" stroke-width="1" transform="translate(0,0.5)"/>
<path d="M18 17h1M22 19h1M22 21h1M34 30h1M31 32h1M48 50h1M97 50h1M3 53h1M66 60h1M62 64h1M76 68h1M95 74h1M74 75h1M95 79h1M84 88h1" stroke="#f0c850" stroke-width="1" transform="translate(0,0.5)"/>
<path d="M30 27h1" stroke="#f08c64" stroke-width="1" transform="translate(0,0.5)"/>
<path d="M27 28h1M29 29h1M35 37h1M75 94h1" stroke="#f0503c" stroke-width="1" transform="translate(0,0.5)"/>
<path d="M27 29h1M64 64h1M59 70h1M69 99h1M105 103h1" stroke="#f0b478" stroke-width="1" transform="translate(0,0.5)"/>
<path d="M28 30h1M40 40h1M55 41h1M101 44h1M61 61h1M101 100h1" stroke="#f0b48c" stroke-width="1" transform="translate(0,0.5)"/>
<path d="M29 31h1M32 32h1M36 35h1M22 61h1M79 79h1M90 89h1M96 96h1" stroke="#f06450" stroke-width="1" transform="translate(0,0.5)"/>
<path d="M35 33h1" stroke="#f08c50" stroke-width="1" transform="translate(0,0.5)"/>
<path d="M58 36h1M38 41h1M41 42h1M48 48h1M51 49h1M64 67h1M70 88h1M64 103h1" stroke="#f0b464" stroke-width="1" transform="translate(0,0.5)"/>
<path d="M36 37h1M69 71h1" stroke="#f0783c" stroke-width="1" transform="translate(0,0.5)"/>
<path d="M47 48h1M76 76h1" stroke="#dc3c3c" stroke-width="1" transform="translate(0,0.5)"/>
<path d="M102 50h1M89 84h1" stroke="#f0a078" stroke-width="1" transform="translate(0,0.5)"/>
<path d="M50 52h1M72 67h1M43 71h1M47 94h1" stroke="#f0a050" stroke-width="1" transform="translate(0,0.5)"/>
<path d="M64 59h1M97 96h1" stroke="#dc503c" stroke-width="1" transform="translate(0,0.5)"/>
<path d="M102 62h1" stroke="#f08c3c" stroke-width="1" transform="translate(0,0.5)"/>
<path d="M67 69h1" stroke="#f0f0dc" stroke-width="1" transform="translate(0,0.5)"/>
<path d="M78 74h1" stroke="#f0b43c" stroke-width="1" transform="translate(0,0.5)"/>
<path d="M78 79h1" stroke="#f05050" stroke-width="1" transform="translate(0,0.5)"/>
<path d="M40 82h1" stroke="#ffffdc" stroke-width="1" transform="translate(0,0.5)"/>
<path d="M38 83h1" stroke="#f0c83c" stroke-width="1" transform="translate(0,0.5)"/>
<path d="M78 83h1" stroke="#f0a03c" stroke-width="1" transform="translate(0,0.5)"/>
</g>
<path d="M263.9 15.5 V122.2" stroke="#f27c7c" stroke-width="1.0" stroke-dasharray="1.6 1.5" fill="none"/>
<path d="M210.5 68.8 H317.2" stroke="#f06a6a" stroke-width="1.2" stroke-dasharray="1.6 1.5" fill="none"/>
<rect x="210.5" y="15.5" width="106.7" height="106.7" fill="none" stroke="#3a3a3a" stroke-width="1"/>
<text x="207.30" y="21.70" font-size="8.8" fill="#000" text-anchor="end"  stroke="#000" stroke-width="0.15">1</text>
<text x="207.30" y="122.20" font-size="8.8" fill="#000" text-anchor="end"  stroke="#000" stroke-width="0.15">400</text>
<text x="212.60" y="132.00" font-size="8.8" fill="#000" text-anchor="middle"  stroke="#000" stroke-width="0.15">1</text>
<text x="264.80" y="132.00" font-size="8.8" fill="#000" text-anchor="middle"  stroke="#000" stroke-width="0.15">Regions</text>
<text x="315.60" y="132.00" font-size="8.8" fill="#000" text-anchor="middle"  stroke="#000" stroke-width="0.15">400</text>
<text x="263.50" y="147.20" font-size="8.8" fill="#000" text-anchor="middle"  stroke="#000" stroke-width="0.15">(8850/29024 edges)</text>
<text transform="translate(205.6,68.5) rotate(-90)" font-size="8.8" text-anchor="middle" stroke="#000" stroke-width="0.15">Regions</text>
<rect x="144.6" y="37.6" width="5.6" height="60" fill="url(#gdiv)" stroke="#333" stroke-width="0.5"/>
<text x="148.30" y="34.40" font-size="8.8" fill="#000" text-anchor="middle"  stroke="#000" stroke-width="0.15">+0.37</text>
<text x="148.30" y="106.70" font-size="8.8" fill="#000" text-anchor="middle"  stroke="#000" stroke-width="0.15">-0.37</text>
<text transform="translate(161.2,66.0) rotate(-90)" font-size="9" text-anchor="middle" font-style="italic" stroke="#000" stroke-width="0.15">W<tspan font-size="6.2" dy="2.2">ij</tspan><tspan dy="-2.2"> - W</tspan><tspan font-size="6.2" dy="2.2">ji</tspan></text>
<rect x="327.2" y="38.5" width="5.6" height="59" fill="url(#gseq)" stroke="#333" stroke-width="0.5"/>
<text x="330.80" y="34.60" font-size="8.8" fill="#000" text-anchor="middle"  stroke="#000" stroke-width="0.15">+0.37</text>
<text x="330.00" y="105.80" font-size="8.8" fill="#000" text-anchor="middle"  stroke="#000" stroke-width="0.15">0</text>
<text transform="translate(341.9,67.2) rotate(-90)" font-size="9" text-anchor="middle" font-style="italic" stroke="#000" stroke-width="0.15">| W<tspan font-size="6.2" dy="2.2">ij</tspan><tspan dy="-2.2"> - W</tspan><tspan font-size="6.2" dy="2.2">ji</tspan><tspan dy="-2.2"> |</tspan></text>
<g transform="translate(455.60,18.91) rotate(45)">
<rect x="0.00" y="0.00" width="4.56" height="4.56" fill="#ffffff" stroke="#8a8a8a" stroke-width="0.35"/>
<rect x="4.56" y="0.00" width="4.56" height="4.56" fill="#f0ea3c" stroke="#8a8a8a" stroke-width="0.35"/>
<rect x="9.12" y="0.00" width="4.56" height="4.56" fill="#f2c03a" stroke="#8a8a8a" stroke-width="0.35"/>
<rect x="13.68" y="0.00" width="4.56" height="4.56" fill="#f0ea3c" stroke="#8a8a8a" stroke-width="0.35"/>
<rect x="18.24" y="0.00" width="4.56" height="4.56" fill="#f4f2a8" stroke="#8a8a8a" stroke-width="0.35"/>
<rect x="22.80" y="0.00" width="4.56" height="4.56" fill="#e8281e" stroke="#8a8a8a" stroke-width="0.35"/>
<rect x="27.36" y="0.00" width="4.56" height="4.56" fill="#b4f1f4" stroke="#8a8a8a" stroke-width="0.35"/>
<rect x="31.92" y="0.00" width="4.56" height="4.56" fill="#66e2ef" stroke="#8a8a8a" stroke-width="0.35"/>
<rect x="36.48" y="0.00" width="4.56" height="4.56" fill="#f0ea3c" stroke="#8a8a8a" stroke-width="0.35"/>
<rect x="41.04" y="0.00" width="4.56" height="4.56" fill="#f4f2a8" stroke="#8a8a8a" stroke-width="0.35"/>
<rect x="45.60" y="0.00" width="4.56" height="4.56" fill="#f0ea3c" stroke="#8a8a8a" stroke-width="0.35"/>
<rect x="50.16" y="0.00" width="4.56" height="4.56" fill="#b4f1f4" stroke="#8a8a8a" stroke-width="0.35"/>
<rect x="54.72" y="0.00" width="4.56" height="4.56" fill="#f0ea3c" stroke="#8a8a8a" stroke-width="0.35"/>
<rect x="59.28" y="0.00" width="4.56" height="4.56" fill="#f0ea3c" stroke="#8a8a8a" stroke-width="0.35"/>
<rect x="63.84" y="0.00" width="4.56" height="4.56" fill="#b4f1f4" stroke="#8a8a8a" stroke-width="0.35"/>
<rect x="68.40" y="0.00" width="4.56" height="4.56" fill="#f0ea3c" stroke="#8a8a8a" stroke-width="0.35"/>
<rect x="0.00" y="4.56" width="4.56" height="4.56" fill="#66e2ef" stroke="#8a8a8a" stroke-width="0.35"/>
<rect x="4.56" y="4.56" width="4.56" height="4.56" fill="#ffffff" stroke="#8a8a8a" stroke-width="0.35"/>
<rect x="9.12" y="4.56" width="4.56" height="4.56" fill="#66e2ef" stroke="#8a8a8a" stroke-width="0.35"/>
<rect x="13.68" y="4.56" width="4.56" height="4.56" fill="#f4f2a8" stroke="#8a8a8a" stroke-width="0.35"/>
<rect x="18.24" y="4.56" width="4.56" height="4.56" fill="#b4f1f4" stroke="#8a8a8a" stroke-width="0.35"/>
<rect x="22.80" y="4.56" width="4.56" height="4.56" fill="#f0ea3c" stroke="#8a8a8a" stroke-width="0.35"/>
<rect x="27.36" y="4.56" width="4.56" height="4.56" fill="#f0ea3c" stroke="#8a8a8a" stroke-width="0.35"/>
<rect x="31.92" y="4.56" width="4.56" height="4.56" fill="#f4f2a8" stroke="#8a8a8a" stroke-width="0.35"/>
<rect x="36.48" y="4.56" width="4.56" height="4.56" fill="#4aa6ec" stroke="#8a8a8a" stroke-width="0.35"/>
<rect x="41.04" y="4.56" width="4.56" height="4.56" fill="#f0ea3c" stroke="#8a8a8a" stroke-width="0.35"/>
<rect x="45.60" y="4.56" width="4.56" height="4.56" fill="#f4f2a8" stroke="#8a8a8a" stroke-width="0.35"/>
<rect x="50.16" y="4.56" width="4.56" height="4.56" fill="#f0ea3c" stroke="#8a8a8a" stroke-width="0.35"/>
<rect x="54.72" y="4.56" width="4.56" height="4.56" fill="#66e2ef" stroke="#8a8a8a" stroke-width="0.35"/>
<rect x="59.28" y="4.56" width="4.56" height="4.56" fill="#f0ea3c" stroke="#8a8a8a" stroke-width="0.35"/>
<rect x="63.84" y="4.56" width="4.56" height="4.56" fill="#ffffff" stroke="#8a8a8a" stroke-width="0.35"/>
<rect x="68.40" y="4.56" width="4.56" height="4.56" fill="#f0ea3c" stroke="#8a8a8a" stroke-width="0.35"/>
<rect x="0.00" y="9.12" width="4.56" height="4.56" fill="#4aa6ec" stroke="#8a8a8a" stroke-width="0.35"/>
<rect x="4.56" y="9.12" width="4.56" height="4.56" fill="#f0ea3c" stroke="#8a8a8a" stroke-width="0.35"/>
<rect x="9.12" y="9.12" width="4.56" height="4.56" fill="#ffffff" stroke="#8a8a8a" stroke-width="0.35"/>
<rect x="13.68" y="9.12" width="4.56" height="4.56" fill="#f4f2a8" stroke="#8a8a8a" stroke-width="0.35"/>
<rect x="18.24" y="9.12" width="4.56" height="4.56" fill="#b4f1f4" stroke="#8a8a8a" stroke-width="0.35"/>
<rect x="22.80" y="9.12" width="4.56" height="4.56" fill="#b4f1f4" stroke="#8a8a8a" stroke-width="0.35"/>
<rect x="27.36" y="9.12" width="4.56" height="4.56" fill="#f0ea3c" stroke="#8a8a8a" stroke-width="0.35"/>
<rect x="31.92" y="9.12" width="4.56" height="4.56" fill="#f4f2a8" stroke="#8a8a8a" stroke-width="0.35"/>
<rect x="36.48" y="9.12" width="4.56" height="4.56" fill="#3a78e2" stroke="#8a8a8a" stroke-width="0.35"/>
<rect x="41.04" y="9.12" width="4.56" height="4.56" fill="#66e2ef" stroke="#8a8a8a" stroke-width="0.35"/>
<rect x="45.60" y="9.12" width="4.56" height="4.56" fill="#f0ea3c" stroke="#8a8a8a" stroke-width="0.35"/>
<rect x="50.16" y="9.12" width="4.56" height="4.56" fill="#f07a2a" stroke="#8a8a8a" stroke-width="0.35"/>
<rect x="54.72" y="9.12" width="4.56" height="4.56" fill="#66e2ef" stroke="#8a8a8a" stroke-width="0.35"/>
<rect x="59.28" y="9.12" width="4.56" height="4.56" fill="#b4f1f4" stroke="#8a8a8a" stroke-width="0.35"/>
<rect x="63.84" y="9.12" width="4.56" height="4.56" fill="#b4f1f4" stroke="#8a8a8a" stroke-width="0.35"/>
<rect x="68.40" y="9.12" width="4.56" height="4.56" fill="#b4f1f4" stroke="#8a8a8a" stroke-width="0.35"/>
<rect x="0.00" y="13.68" width="4.56" height="4.56" fill="#66e2ef" stroke="#8a8a8a" stroke-width="0.35"/>
<rect x="4.56" y="13.68" width="4.56" height="4.56" fill="#b4f1f4" stroke="#8a8a8a" stroke-width="0.35"/>
<rect x="9.12" y="13.68" width="4.56" height="4.56" fill="#b4f1f4" stroke="#8a8a8a" stroke-width="0.35"/>
<rect x="13.68" y="13.68" width="4.56" height="4.56" fill="#ffffff" stroke="#8a8a8a" stroke-width="0.35"/>
<rect x="18.24" y="13.68" width="4.56" height="4.56" fill="#b4f1f4" stroke="#8a8a8a" stroke-width="0.35"/>
<rect x="22.80" y="13.68" width="4.56" height="4.56" fill="#3a78e2" stroke="#8a8a8a" stroke-width="0.35"/>
<rect x="27.36" y="13.68" width="4.56" height="4.56" fill="#f4f2a8" stroke="#8a8a8a" stroke-width="0.35"/>
<rect x="31.92" y="13.68" width="4.56" height="4.56" fill="#b4f1f4" stroke="#8a8a8a" stroke-width="0.35"/>
<rect x="36.48" y="13.68" width="4.56" height="4.56" fill="#b4f1f4" stroke="#8a8a8a" stroke-width="0.35"/>
<rect x="41.04" y="13.68" width="4.56" height="4.56" fill="#f0ea3c" stroke="#8a8a8a" stroke-width="0.35"/>
<rect x="45.60" y="13.68" width="4.56" height="4.56" fill="#ffffff" stroke="#8a8a8a" stroke-width="0.35"/>
<rect x="50.16" y="13.68" width="4.56" height="4.56" fill="#b4f1f4" stroke="#8a8a8a" stroke-width="0.35"/>
<rect x="54.72" y="13.68" width="4.56" height="4.56" fill="#f0ea3c" stroke="#8a8a8a" stroke-width="0.35"/>
<rect x="59.28" y="13.68" width="4.56" height="4.56" fill="#e8281e" stroke="#8a8a8a" stroke-width="0.35"/>
<rect x="63.84" y="13.68" width="4.56" height="4.56" fill="#4aa6ec" stroke="#8a8a8a" stroke-width="0.35"/>
<rect x="68.40" y="13.68" width="4.56" height="4.56" fill="#b4f1f4" stroke="#8a8a8a" stroke-width="0.35"/>
<rect x="0.00" y="18.24" width="4.56" height="4.56" fill="#b4f1f4" stroke="#8a8a8a" stroke-width="0.35"/>
<rect x="4.56" y="18.24" width="4.56" height="4.56" fill="#f4f2a8" stroke="#8a8a8a" stroke-width="0.35"/>
<rect x="9.12" y="18.24" width="4.56" height="4.56" fill="#f4f2a8" stroke="#8a8a8a" stroke-width="0.35"/>
<rect x="13.68" y="18.24" width="4.56" height="4.56" fill="#f4f2a8" stroke="#8a8a8a" stroke-width="0.35"/>
<rect x="18.24" y="18.24" width="4.56" height="4.56" fill="#ffffff" stroke="#8a8a8a" stroke-width="0.35"/>
<rect x="22.80" y="18.24" width="4.56" height="4.56" fill="#66e2ef" stroke="#8a8a8a" stroke-width="0.35"/>
<rect x="27.36" y="18.24" width="4.56" height="4.56" fill="#f4f2a8" stroke="#8a8a8a" stroke-width="0.35"/>
<rect x="31.92" y="18.24" width="4.56" height="4.56" fill="#66e2ef" stroke="#8a8a8a" stroke-width="0.35"/>
<rect x="36.48" y="18.24" width="4.56" height="4.56" fill="#66e2ef" stroke="#8a8a8a" stroke-width="0.35"/>
<rect x="41.04" y="18.24" width="4.56" height="4.56" fill="#f4f2a8" stroke="#8a8a8a" stroke-width="0.35"/>
<rect x="45.60" y="18.24" width="4.56" height="4.56" fill="#66e2ef" stroke="#8a8a8a" stroke-width="0.35"/>
<rect x="50.16" y="18.24" width="4.56" height="4.56" fill="#f07a2a" stroke="#8a8a8a" stroke-width="0.35"/>
<rect x="54.72" y="18.24" width="4.56" height="4.56" fill="#f4f2a8" stroke="#8a8a8a" stroke-width="0.35"/>
<rect x="59.28" y="18.24" width="4.56" height="4.56" fill="#66e2ef" stroke="#8a8a8a" stroke-width="0.35"/>
<rect x="63.84" y="18.24" width="4.56" height="4.56" fill="#f0ea3c" stroke="#8a8a8a" stroke-width="0.35"/>
<rect x="68.40" y="18.24" width="4.56" height="4.56" fill="#f4f2a8" stroke="#8a8a8a" stroke-width="0.35"/>
<rect x="0.00" y="22.80" width="4.56" height="4.56" fill="#1c1ce8" stroke="#8a8a8a" stroke-width="0.35"/>
<rect x="4.56" y="22.80" width="4.56" height="4.56" fill="#66e2ef" stroke="#8a8a8a" stroke-width="0.35"/>
<rect x="9.12" y="22.80" width="4.56" height="4.56" fill="#f4f2a8" stroke="#8a8a8a" stroke-width="0.35"/>
<rect x="13.68" y="22.80" width="4.56" height="4.56" fill="#f07a2a" stroke="#8a8a8a" stroke-width="0.35"/>
<rect x="18.24" y="22.80" width="4.56" height="4.56" fill="#f0ea3c" stroke="#8a8a8a" stroke-width="0.35"/>
<rect x="22.80" y="22.80" width="4.56" height="4.56" fill="#ffffff" stroke="#8a8a8a" stroke-width="0.35"/>
<rect x="27.36" y="22.80" width="4.56" height="4.56" fill="#66e2ef" stroke="#8a8a8a" stroke-width="0.35"/>
<rect x="31.92" y="22.80" width="4.56" height="4.56" fill="#3a78e2" stroke="#8a8a8a" stroke-width="0.35"/>
<rect x="36.48" y="22.80" width="4.56" height="4.56" fill="#66e2ef" stroke="#8a8a8a" stroke-width="0.35"/>
<rect x="41.04" y="22.80" width="4.56" height="4.56" fill="#b4f1f4" stroke="#8a8a8a" stroke-width="0.35"/>
<rect x="45.60" y="22.80" width="4.56" height="4.56" fill="#f0ea3c" stroke="#8a8a8a" stroke-width="0.35"/>
<rect x="50.16" y="22.80" width="4.56" height="4.56" fill="#f0ea3c" stroke="#8a8a8a" stroke-width="0.35"/>
<rect x="54.72" y="22.80" width="4.56" height="4.56" fill="#66e2ef" stroke="#8a8a8a" stroke-width="0.35"/>
<rect x="59.28" y="22.80" width="4.56" height="4.56" fill="#b4f1f4" stroke="#8a8a8a" stroke-width="0.35"/>
<rect x="63.84" y="22.80" width="4.56" height="4.56" fill="#66e2ef" stroke="#8a8a8a" stroke-width="0.35"/>
<rect x="68.40" y="22.80" width="4.56" height="4.56" fill="#b4f1f4" stroke="#8a8a8a" stroke-width="0.35"/>
<rect x="0.00" y="27.36" width="4.56" height="4.56" fill="#f4f2a8" stroke="#8a8a8a" stroke-width="0.35"/>
<rect x="4.56" y="27.36" width="4.56" height="4.56" fill="#66e2ef" stroke="#8a8a8a" stroke-width="0.35"/>
<rect x="9.12" y="27.36" width="4.56" height="4.56" fill="#66e2ef" stroke="#8a8a8a" stroke-width="0.35"/>
<rect x="13.68" y="27.36" width="4.56" height="4.56" fill="#b4f1f4" stroke="#8a8a8a" stroke-width="0.35"/>
<rect x="18.24" y="27.36" width="4.56" height="4.56" fill="#b4f1f4" stroke="#8a8a8a" stroke-width="0.35"/>
<rect x="22.80" y="27.36" width="4.56" height="4.56" fill="#f0ea3c" stroke="#8a8a8a" stroke-width="0.35"/>
<rect x="27.36" y="27.36" width="4.56" height="4.56" fill="#ffffff" stroke="#8a8a8a" stroke-width="0.35"/>
<rect x="31.92" y="27.36" width="4.56" height="4.56" fill="#4aa6ec" stroke="#8a8a8a" stroke-width="0.35"/>
<rect x="36.48" y="27.36" width="4.56" height="4.56" fill="#66e2ef" stroke="#8a8a8a" stroke-width="0.35"/>
<rect x="41.04" y="27.36" width="4.56" height="4.56" fill="#ffffff" stroke="#8a8a8a" stroke-width="0.35"/>
<rect x="45.60" y="27.36" width="4.56" height="4.56" fill="#66e2ef" stroke="#8a8a8a" stroke-width="0.35"/>
<rect x="50.16" y="27.36" width="4.56" height="4.56" fill="#f4f2a8" stroke="#8a8a8a" stroke-width="0.35"/>
<rect x="54.72" y="27.36" width="4.56" height="4.56" fill="#f2c03a" stroke="#8a8a8a" stroke-width="0.35"/>
<rect x="59.28" y="27.36" width="4.56" height="4.56" fill="#b4f1f4" stroke="#8a8a8a" stroke-width="0.35"/>
<rect x="63.84" y="27.36" width="4.56" height="4.56" fill="#f0ea3c" stroke="#8a8a8a" stroke-width="0.35"/>
<rect x="68.40" y="27.36" width="4.56" height="4.56" fill="#ffffff" stroke="#8a8a8a" stroke-width="0.35"/>
<rect x="0.00" y="31.92" width="4.56" height="4.56" fill="#f0ea3c" stroke="#8a8a8a" stroke-width="0.35"/>
<rect x="4.56" y="31.92" width="4.56" height="4.56" fill="#b4f1f4" stroke="#8a8a8a" stroke-width="0.35"/>
<rect x="9.12" y="31.92" width="4.56" height="4.56" fill="#b4f1f4" stroke="#8a8a8a" stroke-width="0.35"/>
<rect x="13.68" y="31.92" width="4.56" height="4.56" fill="#f4f2a8" stroke="#8a8a8a" stroke-width="0.35"/>
<rect x="18.24" y="31.92" width="4.56" height="4.56" fill="#f0ea3c" stroke="#8a8a8a" stroke-width="0.35"/>
<rect x="22.80" y="31.92" width="4.56" height="4.56" fill="#f07a2a" stroke="#8a8a8a" stroke-width="0.35"/>
<rect x="27.36" y="31.92" width="4.56" height="4.56" fill="#f2c03a" stroke="#8a8a8a" stroke-width="0.35"/>
<rect x="31.92" y="31.92" width="4.56" height="4.56" fill="#ffffff" stroke="#8a8a8a" stroke-width="0.35"/>
<rect x="36.48" y="31.92" width="4.56" height="4.56" fill="#66e2ef" stroke="#8a8a8a" stroke-width="0.35"/>
<rect x="41.04" y="31.92" width="4.56" height="4.56" fill="#66e2ef" stroke="#8a8a8a" stroke-width="0.35"/>
<rect x="45.60" y="31.92" width="4.56" height="4.56" fill="#f0ea3c" stroke="#8a8a8a" stroke-width="0.35"/>
<rect x="50.16" y="31.92" width="4.56" height="4.56" fill="#66e2ef" stroke="#8a8a8a" stroke-width="0.35"/>
<rect x="54.72" y="31.92" width="4.56" height="4.56" fill="#66e2ef" stroke="#8a8a8a" stroke-width="0.35"/>
<rect x="59.28" y="31.92" width="4.56" height="4.56" fill="#66e2ef" stroke="#8a8a8a" stroke-width="0.35"/>
<rect x="63.84" y="31.92" width="4.56" height="4.56" fill="#ffffff" stroke="#8a8a8a" stroke-width="0.35"/>
<rect x="68.40" y="31.92" width="4.56" height="4.56" fill="#1c1ce8" stroke="#8a8a8a" stroke-width="0.35"/>
<rect x="0.00" y="36.48" width="4.56" height="4.56" fill="#66e2ef" stroke="#8a8a8a" stroke-width="0.35"/>
<rect x="4.56" y="36.48" width="4.56" height="4.56" fill="#f2c03a" stroke="#8a8a8a" stroke-width="0.35"/>
<rect x="9.12" y="36.48" width="4.56" height="4.56" fill="#f07a2a" stroke="#8a8a8a" stroke-width="0.35"/>
<rect x="13.68" y="36.48" width="4.56" height="4.56" fill="#f4f2a8" stroke="#8a8a8a" stroke-width="0.35"/>
<rect x="18.24" y="36.48" width="4.56" height="4.56" fill="#f0ea3c" stroke="#8a8a8a" stroke-width="0.35"/>
<rect x="22.80" y="36.48" width="4.56" height="4.56" fill="#f0ea3c" stroke="#8a8a8a" stroke-width="0.35"/>
<rect x="27.36" y="36.48" width="4.56" height="4.56" fill="#f0ea3c" stroke="#8a8a8a" stroke-width="0.35"/>
<rect x="31.92" y="36.48" width="4.56" height="4.56" fill="#f0ea3c" stroke="#8a8a8a" stroke-width="0.35"/>
<rect x="36.48" y="36.48" width="4.56" height="4.56" fill="#ffffff" stroke="#8a8a8a" stroke-width="0.35"/>
<rect x="41.04" y="36.48" width="4.56" height="4.56" fill="#f0ea3c" stroke="#8a8a8a" stroke-width="0.35"/>
<rect x="45.60" y="36.48" width="4.56" height="4.56" fill="#f0ea3c" stroke="#8a8a8a" stroke-width="0.35"/>
<rect x="50.16" y="36.48" width="4.56" height="4.56" fill="#f0ea3c" stroke="#8a8a8a" stroke-width="0.35"/>
<rect x="54.72" y="36.48" width="4.56" height="4.56" fill="#b4f1f4" stroke="#8a8a8a" stroke-width="0.35"/>
<rect x="59.28" y="36.48" width="4.56" height="4.56" fill="#f2c03a" stroke="#8a8a8a" stroke-width="0.35"/>
<rect x="63.84" y="36.48" width="4.56" height="4.56" fill="#3a78e2" stroke="#8a8a8a" stroke-width="0.35"/>
<rect x="68.40" y="36.48" width="4.56" height="4.56" fill="#66e2ef" stroke="#8a8a8a" stroke-width="0.35"/>
<rect x="0.00" y="41.04" width="4.56" height="4.56" fill="#b4f1f4" stroke="#8a8a8a" stroke-width="0.35"/>
<rect x="4.56" y="41.04" width="4.56" height="4.56" fill="#66e2ef" stroke="#8a8a8a" stroke-width="0.35"/>
<rect x="9.12" y="41.04" width="4.56" height="4.56" fill="#f0ea3c" stroke="#8a8a8a" stroke-width="0.35"/>
<rect x="13.68" y="41.04" width="4.56" height="4.56" fill="#66e2ef" stroke="#8a8a8a" stroke-width="0.35"/>
<rect x="18.24" y="41.04" width="4.56" height="4.56" fill="#b4f1f4" stroke="#8a8a8a" stroke-width="0.35"/>
<rect x="22.80" y="41.04" width="4.56" height="4.56" fill="#f4f2a8" stroke="#8a8a8a" stroke-width="0.35"/>
<rect x="27.36" y="41.04" width="4.56" height="4.56" fill="#ffffff" stroke="#8a8a8a" stroke-width="0.35"/>
<rect x="31.92" y="41.04" width="4.56" height="4.56" fill="#f0ea3c" stroke="#8a8a8a" stroke-width="0.35"/>
<rect x="36.48" y="41.04" width="4.56" height="4.56" fill="#66e2ef" stroke="#8a8a8a" stroke-width="0.35"/>
<rect x="41.04" y="41.04" width="4.56" height="4.56" fill="#ffffff" stroke="#8a8a8a" stroke-width="0.35"/>
<rect x="45.60" y="41.04" width="4.56" height="4.56" fill="#f2c03a" stroke="#8a8a8a" stroke-width="0.35"/>
<rect x="50.16" y="41.04" width="4.56" height="4.56" fill="#66e2ef" stroke="#8a8a8a" stroke-width="0.35"/>
<rect x="54.72" y="41.04" width="4.56" height="4.56" fill="#b4f1f4" stroke="#8a8a8a" stroke-width="0.35"/>
<rect x="59.28" y="41.04" width="4.56" height="4.56" fill="#f0ea3c" stroke="#8a8a8a" stroke-width="0.35"/>
<rect x="63.84" y="41.04" width="4.56" height="4.56" fill="#f4f2a8" stroke="#8a8a8a" stroke-width="0.35"/>
<rect x="68.40" y="41.04" width="4.56" height="4.56" fill="#3a78e2" stroke="#8a8a8a" stroke-width="0.35"/>
<rect x="0.00" y="45.60" width="4.56" height="4.56" fill="#66e2ef" stroke="#8a8a8a" stroke-width="0.35"/>
<rect x="4.56" y="45.60" width="4.56" height="4.56" fill="#b4f1f4" stroke="#8a8a8a" stroke-width="0.35"/>
<rect x="9.12" y="45.60" width="4.56" height="4.56" fill="#66e2ef" stroke="#8a8a8a" stroke-width="0.35"/>
<rect x="13.68" y="45.60" width="4.56" height="4.56" fill="#ffffff" stroke="#8a8a8a" stroke-width="0.35"/>
<rect x="18.24" y="45.60" width="4.56" height="4.56" fill="#f0ea3c" stroke="#8a8a8a" stroke-width="0.35"/>
<rect x="22.80" y="45.60" width="4.56" height="4.56" fill="#66e2ef" stroke="#8a8a8a" stroke-width="0.35"/>
<rect x="27.36" y="45.60" width="4.56" height="4.56" fill="#f0ea3c" stroke="#8a8a8a" stroke-width="0.35"/>
<rect x="31.92" y="45.60" width="4.56" height="4.56" fill="#66e2ef" stroke="#8a8a8a" stroke-width="0.35"/>
<rect x="36.48" y="45.60" width="4.56" height="4.56" fill="#66e2ef" stroke="#8a8a8a" stroke-width="0.35"/>
<rect x="41.04" y="45.60" width="4.56" height="4.56" fill="#4aa6ec" stroke="#8a8a8a" stroke-width="0.35"/>
<rect x="45.60" y="45.60" width="4.56" height="4.56" fill="#ffffff" stroke="#8a8a8a" stroke-width="0.35"/>
<rect x="50.16" y="45.60" width="4.56" height="4.56" fill="#f0ea3c" stroke="#8a8a8a" stroke-width="0.35"/>
<rect x="54.72" y="45.60" width="4.56" height="4.56" fill="#f2c03a" stroke="#8a8a8a" stroke-width="0.35"/>
<rect x="59.28" y="45.60" width="4.56" height="4.56" fill="#66e2ef" stroke="#8a8a8a" stroke-width="0.35"/>
<rect x="63.84" y="45.60" width="4.56" height="4.56" fill="#b4f1f4" stroke="#8a8a8a" stroke-width="0.35"/>
<rect x="68.40" y="45.60" width="4.56" height="4.56" fill="#4aa6ec" stroke="#8a8a8a" stroke-width="0.35"/>
<rect x="0.00" y="50.16" width="4.56" height="4.56" fill="#f4f2a8" stroke="#8a8a8a" stroke-width="0.35"/>
<rect x="4.56" y="50.16" width="4.56" height="4.56" fill="#66e2ef" stroke="#8a8a8a" stroke-width="0.35"/>
<rect x="9.12" y="50.16" width="4.56" height="4.56" fill="#3a78e2" stroke="#8a8a8a" stroke-width="0.35"/>
<rect x="13.68" y="50.16" width="4.56" height="4.56" fill="#f4f2a8" stroke="#8a8a8a" stroke-width="0.35"/>
<rect x="18.24" y="50.16" width="4.56" height="4.56" fill="#3a78e2" stroke="#8a8a8a" stroke-width="0.35"/>
<rect x="22.80" y="50.16" width="4.56" height="4.56" fill="#66e2ef" stroke="#8a8a8a" stroke-width="0.35"/>
<rect x="27.36" y="50.16" width="4.56" height="4.56" fill="#b4f1f4" stroke="#8a8a8a" stroke-width="0.35"/>
<rect x="31.92" y="50.16" width="4.56" height="4.56" fill="#f0ea3c" stroke="#8a8a8a" stroke-width="0.35"/>
<rect x="36.48" y="50.16" width="4.56" height="4.56" fill="#66e2ef" stroke="#8a8a8a" stroke-width="0.35"/>
<rect x="41.04" y="50.16" width="4.56" height="4.56" fill="#f0ea3c" stroke="#8a8a8a" stroke-width="0.35"/>
<rect x="45.60" y="50.16" width="4.56" height="4.56" fill="#66e2ef" stroke="#8a8a8a" stroke-width="0.35"/>
<rect x="50.16" y="50.16" width="4.56" height="4.56" fill="#ffffff" stroke="#8a8a8a" stroke-width="0.35"/>
<rect x="54.72" y="50.16" width="4.56" height="4.56" fill="#b4f1f4" stroke="#8a8a8a" stroke-width="0.35"/>
<rect x="59.28" y="50.16" width="4.56" height="4.56" fill="#ffffff" stroke="#8a8a8a" stroke-width="0.35"/>
<rect x="63.84" y="50.16" width="4.56" height="4.56" fill="#e8281e" stroke="#8a8a8a" stroke-width="0.35"/>
<rect x="68.40" y="50.16" width="4.56" height="4.56" fill="#ffffff" stroke="#8a8a8a" stroke-width="0.35"/>
<rect x="0.00" y="54.72" width="4.56" height="4.56" fill="#66e2ef" stroke="#8a8a8a" stroke-width="0.35"/>
<rect x="4.56" y="54.72" width="4.56" height="4.56" fill="#f0ea3c" stroke="#8a8a8a" stroke-width="0.35"/>
<rect x="9.12" y="54.72" width="4.56" height="4.56" fill="#f0ea3c" stroke="#8a8a8a" stroke-width="0.35"/>
<rect x="13.68" y="54.72" width="4.56" height="4.56" fill="#66e2ef" stroke="#8a8a8a" stroke-width="0.35"/>
<rect x="18.24" y="54.72" width="4.56" height="4.56" fill="#b4f1f4" stroke="#8a8a8a" stroke-width="0.35"/>
<rect x="22.80" y="54.72" width="4.56" height="4.56" fill="#f0ea3c" stroke="#8a8a8a" stroke-width="0.35"/>
<rect x="27.36" y="54.72" width="4.56" height="4.56" fill="#4aa6ec" stroke="#8a8a8a" stroke-width="0.35"/>
<rect x="31.92" y="54.72" width="4.56" height="4.56" fill="#f0ea3c" stroke="#8a8a8a" stroke-width="0.35"/>
<rect x="36.48" y="54.72" width="4.56" height="4.56" fill="#f4f2a8" stroke="#8a8a8a" stroke-width="0.35"/>
<rect x="41.04" y="54.72" width="4.56" height="4.56" fill="#f4f2a8" stroke="#8a8a8a" stroke-width="0.35"/>
<rect x="45.60" y="54.72" width="4.56" height="4.56" fill="#4aa6ec" stroke="#8a8a8a" stroke-width="0.35"/>
<rect x="50.16" y="54.72" width="4.56" height="4.56" fill="#f4f2a8" stroke="#8a8a8a" stroke-width="0.35"/>
<rect x="54.72" y="54.72" width="4.56" height="4.56" fill="#ffffff" stroke="#8a8a8a" stroke-width="0.35"/>
<rect x="59.28" y="54.72" width="4.56" height="4.56" fill="#f0ea3c" stroke="#8a8a8a" stroke-width="0.35"/>
<rect x="63.84" y="54.72" width="4.56" height="4.56" fill="#b4f1f4" stroke="#8a8a8a" stroke-width="0.35"/>
<rect x="68.40" y="54.72" width="4.56" height="4.56" fill="#66e2ef" stroke="#8a8a8a" stroke-width="0.35"/>
<rect x="0.00" y="59.28" width="4.56" height="4.56" fill="#66e2ef" stroke="#8a8a8a" stroke-width="0.35"/>
<rect x="4.56" y="59.28" width="4.56" height="4.56" fill="#66e2ef" stroke="#8a8a8a" stroke-width="0.35"/>
<rect x="9.12" y="59.28" width="4.56" height="4.56" fill="#f4f2a8" stroke="#8a8a8a" stroke-width="0.35"/>
<rect x="13.68" y="59.28" width="4.56" height="4.56" fill="#1c1ce8" stroke="#8a8a8a" stroke-width="0.35"/>
<rect x="18.24" y="59.28" width="4.56" height="4.56" fill="#f0ea3c" stroke="#8a8a8a" stroke-width="0.35"/>
<rect x="22.80" y="59.28" width="4.56" height="4.56" fill="#f4f2a8" stroke="#8a8a8a" stroke-width="0.35"/>
<rect x="27.36" y="59.28" width="4.56" height="4.56" fill="#f4f2a8" stroke="#8a8a8a" stroke-width="0.35"/>
<rect x="31.92" y="59.28" width="4.56" height="4.56" fill="#f0ea3c" stroke="#8a8a8a" stroke-width="0.35"/>
<rect x="36.48" y="59.28" width="4.56" height="4.56" fill="#4aa6ec" stroke="#8a8a8a" stroke-width="0.35"/>
<rect x="41.04" y="59.28" width="4.56" height="4.56" fill="#66e2ef" stroke="#8a8a8a" stroke-width="0.35"/>
<rect x="45.60" y="59.28" width="4.56" height="4.56" fill="#f0ea3c" stroke="#8a8a8a" stroke-width="0.35"/>
<rect x="50.16" y="59.28" width="4.56" height="4.56" fill="#ffffff" stroke="#8a8a8a" stroke-width="0.35"/>
<rect x="54.72" y="59.28" width="4.56" height="4.56" fill="#66e2ef" stroke="#8a8a8a" stroke-width="0.35"/>
<rect x="59.28" y="59.28" width="4.56" height="4.56" fill="#ffffff" stroke="#8a8a8a" stroke-width="0.35"/>
<rect x="63.84" y="59.28" width="4.56" height="4.56" fill="#f0ea3c" stroke="#8a8a8a" stroke-width="0.35"/>
<rect x="68.40" y="59.28" width="4.56" height="4.56" fill="#f2c03a" stroke="#8a8a8a" stroke-width="0.35"/>
<rect x="0.00" y="63.84" width="4.56" height="4.56" fill="#f4f2a8" stroke="#8a8a8a" stroke-width="0.35"/>
<rect x="4.56" y="63.84" width="4.56" height="4.56" fill="#ffffff" stroke="#8a8a8a" stroke-width="0.35"/>
<rect x="9.12" y="63.84" width="4.56" height="4.56" fill="#f4f2a8" stroke="#8a8a8a" stroke-width="0.35"/>
<rect x="13.68" y="63.84" width="4.56" height="4.56" fill="#f2c03a" stroke="#8a8a8a" stroke-width="0.35"/>
<rect x="18.24" y="63.84" width="4.56" height="4.56" fill="#66e2ef" stroke="#8a8a8a" stroke-width="0.35"/>
<rect x="22.80" y="63.84" width="4.56" height="4.56" fill="#f0ea3c" stroke="#8a8a8a" stroke-width="0.35"/>
<rect x="27.36" y="63.84" width="4.56" height="4.56" fill="#66e2ef" stroke="#8a8a8a" stroke-width="0.35"/>
<rect x="31.92" y="63.84" width="4.56" height="4.56" fill="#ffffff" stroke="#8a8a8a" stroke-width="0.35"/>
<rect x="36.48" y="63.84" width="4.56" height="4.56" fill="#f07a2a" stroke="#8a8a8a" stroke-width="0.35"/>
<rect x="41.04" y="63.84" width="4.56" height="4.56" fill="#b4f1f4" stroke="#8a8a8a" stroke-width="0.35"/>
<rect x="45.60" y="63.84" width="4.56" height="4.56" fill="#f4f2a8" stroke="#8a8a8a" stroke-width="0.35"/>
<rect x="50.16" y="63.84" width="4.56" height="4.56" fill="#1c1ce8" stroke="#8a8a8a" stroke-width="0.35"/>
<rect x="54.72" y="63.84" width="4.56" height="4.56" fill="#f4f2a8" stroke="#8a8a8a" stroke-width="0.35"/>
<rect x="59.28" y="63.84" width="4.56" height="4.56" fill="#66e2ef" stroke="#8a8a8a" stroke-width="0.35"/>
<rect x="63.84" y="63.84" width="4.56" height="4.56" fill="#ffffff" stroke="#8a8a8a" stroke-width="0.35"/>
<rect x="68.40" y="63.84" width="4.56" height="4.56" fill="#b4f1f4" stroke="#8a8a8a" stroke-width="0.35"/>
<rect x="0.00" y="68.40" width="4.56" height="4.56" fill="#66e2ef" stroke="#8a8a8a" stroke-width="0.35"/>
<rect x="4.56" y="68.40" width="4.56" height="4.56" fill="#66e2ef" stroke="#8a8a8a" stroke-width="0.35"/>
<rect x="9.12" y="68.40" width="4.56" height="4.56" fill="#f4f2a8" stroke="#8a8a8a" stroke-width="0.35"/>
<rect x="13.68" y="68.40" width="4.56" height="4.56" fill="#f4f2a8" stroke="#8a8a8a" stroke-width="0.35"/>
<rect x="18.24" y="68.40" width="4.56" height="4.56" fill="#b4f1f4" stroke="#8a8a8a" stroke-width="0.35"/>
<rect x="22.80" y="68.40" width="4.56" height="4.56" fill="#f4f2a8" stroke="#8a8a8a" stroke-width="0.35"/>
<rect x="27.36" y="68.40" width="4.56" height="4.56" fill="#ffffff" stroke="#8a8a8a" stroke-width="0.35"/>
<rect x="31.92" y="68.40" width="4.56" height="4.56" fill="#e8281e" stroke="#8a8a8a" stroke-width="0.35"/>
<rect x="36.48" y="68.40" width="4.56" height="4.56" fill="#f0ea3c" stroke="#8a8a8a" stroke-width="0.35"/>
<rect x="41.04" y="68.40" width="4.56" height="4.56" fill="#f07a2a" stroke="#8a8a8a" stroke-width="0.35"/>
<rect x="45.60" y="68.40" width="4.56" height="4.56" fill="#f2c03a" stroke="#8a8a8a" stroke-width="0.35"/>
<rect x="50.16" y="68.40" width="4.56" height="4.56" fill="#ffffff" stroke="#8a8a8a" stroke-width="0.35"/>
<rect x="54.72" y="68.40" width="4.56" height="4.56" fill="#f0ea3c" stroke="#8a8a8a" stroke-width="0.35"/>
<rect x="59.28" y="68.40" width="4.56" height="4.56" fill="#4aa6ec" stroke="#8a8a8a" stroke-width="0.35"/>
<rect x="63.84" y="68.40" width="4.56" height="4.56" fill="#f4f2a8" stroke="#8a8a8a" stroke-width="0.35"/>
<rect x="68.40" y="68.40" width="4.56" height="4.56" fill="#ffffff" stroke="#8a8a8a" stroke-width="0.35"/>
<rect x="0.00" y="0.00" width="13.68" height="13.68" fill="none" stroke="#111" stroke-width="0.8"/>
<rect x="13.68" y="13.68" width="13.68" height="13.68" fill="none" stroke="#111" stroke-width="0.8"/>
<rect x="27.36" y="27.36" width="9.12" height="9.12" fill="none" stroke="#111" stroke-width="0.8"/>
<rect x="36.48" y="36.48" width="4.56" height="4.56" fill="none" stroke="#111" stroke-width="0.8"/>
<rect x="41.04" y="41.04" width="9.12" height="9.12" fill="none" stroke="#111" stroke-width="0.8"/>
<rect x="50.16" y="50.16" width="9.12" height="9.12" fill="none" stroke="#111" stroke-width="0.8"/>
<rect x="59.28" y="59.28" width="4.56" height="4.56" fill="none" stroke="#111" stroke-width="0.8"/>
<rect x="63.84" y="63.84" width="9.12" height="9.12" fill="none" stroke="#111" stroke-width="0.8"/>
<rect x="0" y="0" width="72.96" height="72.96" fill="none" stroke="#111" stroke-width="0.9"/>
<path d="M-3.00 2.40H-5.80V11.28H-3.00" fill="none" stroke="#1a1a1a" stroke-width="1.0"/>
<path d="M2.40 -3.00V-5.80H11.28V-3.00" fill="none" stroke="#1a1a1a" stroke-width="1.0"/>
<text x="-9.40" y="7.84" font-size="5.9" text-anchor="end" fill="#111" stroke="#111" stroke-width="0.15">Cont</text>
<text transform="translate(7.84,-9.40) rotate(-90)" font-size="5.9" fill="#111" stroke="#111" stroke-width="0.15">Cont</text>
<path d="M-3.00 16.08H-5.80V24.96H-3.00" fill="none" stroke="#1a1a1a" stroke-width="1.0"/>
<path d="M16.08 -3.00V-5.80H24.96V-3.00" fill="none" stroke="#1a1a1a" stroke-width="1.0"/>
<text x="-9.40" y="21.52" font-size="5.9" text-anchor="end" fill="#111" stroke="#111" stroke-width="0.15">DMN</text>
<text transform="translate(21.52,-9.40) rotate(-90)" font-size="5.9" fill="#111" stroke="#111" stroke-width="0.15">DMN</text>
<path d="M-3.00 29.76H-5.80V34.08H-3.00" fill="none" stroke="#1a1a1a" stroke-width="1.0"/>
<path d="M29.76 -3.00V-5.80H34.08V-3.00" fill="none" stroke="#1a1a1a" stroke-width="1.0"/>
<text x="-9.40" y="32.92" font-size="5.9" text-anchor="end" fill="#111" stroke="#111" stroke-width="0.15">DAN</text>
<text transform="translate(32.92,-9.40) rotate(-90)" font-size="5.9" fill="#111" stroke="#111" stroke-width="0.15">DAN</text>
<path d="M-3.00 38.46H-5.80V39.06H-3.00" fill="none" stroke="#1a1a1a" stroke-width="1.0"/>
<path d="M38.46 -3.00V-5.80H39.06V-3.00" fill="none" stroke="#1a1a1a" stroke-width="1.0"/>
<text x="-9.40" y="39.76" font-size="5.9" text-anchor="end" fill="#111" stroke="#111" stroke-width="0.15">Lim</text>
<text transform="translate(39.76,-9.40) rotate(-90)" font-size="5.9" fill="#111" stroke="#111" stroke-width="0.15">Lim</text>
<path d="M-3.00 43.44H-5.80V47.76H-3.00" fill="none" stroke="#1a1a1a" stroke-width="1.0"/>
<path d="M43.44 -3.00V-5.80H47.76V-3.00" fill="none" stroke="#1a1a1a" stroke-width="1.0"/>
<text x="-9.40" y="46.60" font-size="5.9" text-anchor="end" fill="#111" stroke="#111" stroke-width="0.15">Sal/VAN</text>
<text transform="translate(46.60,-9.40) rotate(-90)" font-size="5.9" fill="#111" stroke="#111" stroke-width="0.15">Sal/VAN</text>
<path d="M-3.00 52.56H-5.80V56.88H-3.00" fill="none" stroke="#1a1a1a" stroke-width="1.0"/>
<path d="M52.56 -3.00V-5.80H56.88V-3.00" fill="none" stroke="#1a1a1a" stroke-width="1.0"/>
<text x="-9.40" y="55.72" font-size="5.9" text-anchor="end" fill="#111" stroke="#111" stroke-width="0.15">SMN</text>
<text transform="translate(55.72,-9.40) rotate(-90)" font-size="5.9" fill="#111" stroke="#111" stroke-width="0.15">SMN</text>
<path d="M-3.00 61.26H-5.80V61.86H-3.00" fill="none" stroke="#1a1a1a" stroke-width="1.0"/>
<path d="M61.26 -3.00V-5.80H61.86V-3.00" fill="none" stroke="#1a1a1a" stroke-width="1.0"/>
<text x="-9.40" y="62.56" font-size="5.9" text-anchor="end" fill="#111" stroke="#111" stroke-width="0.15">TP</text>
<text transform="translate(62.56,-9.40) rotate(-90)" font-size="5.9" fill="#111" stroke="#111" stroke-width="0.15">TP</text>
<path d="M-3.00 66.24H-5.80V70.56H-3.00" fill="none" stroke="#1a1a1a" stroke-width="1.0"/>
<path d="M66.24 -3.00V-5.80H70.56V-3.00" fill="none" stroke="#1a1a1a" stroke-width="1.0"/>
<text x="-9.40" y="69.40" font-size="5.9" text-anchor="end" fill="#111" stroke="#111" stroke-width="0.15">Vis</text>
<text transform="translate(69.40,-9.40) rotate(-90)" font-size="5.9" fill="#111" stroke="#111" stroke-width="0.15">Vis</text>
</g>
<g transform="translate(603.50,20.51) rotate(45)">
<rect x="0.00" y="0.00" width="4.56" height="4.56" fill="#f0a030" stroke="#8a8a8a" stroke-width="0.35"/>
<rect x="4.56" y="0.00" width="4.56" height="4.56" fill="#f0cc3c" stroke="#8a8a8a" stroke-width="0.35"/>
<rect x="9.12" y="0.00" width="4.56" height="4.56" fill="#f0cc3c" stroke="#8a8a8a" stroke-width="0.35"/>
<rect x="13.68" y="0.00" width="4.56" height="4.56" fill="#f2ec46" stroke="#8a8a8a" stroke-width="0.35"/>
<rect x="18.24" y="0.00" width="4.56" height="4.56" fill="#f2ec46" stroke="#8a8a8a" stroke-width="0.35"/>
<rect x="22.80" y="0.00" width="4.56" height="4.56" fill="#f0cc3c" stroke="#8a8a8a" stroke-width="0.35"/>
<rect x="27.36" y="0.00" width="4.56" height="4.56" fill="#f0a030" stroke="#8a8a8a" stroke-width="0.35"/>
<rect x="31.92" y="0.00" width="4.56" height="4.56" fill="#f2ec46" stroke="#8a8a8a" stroke-width="0.35"/>
<rect x="36.48" y="0.00" width="4.56" height="4.56" fill="#f2ec46" stroke="#8a8a8a" stroke-width="0.35"/>
<rect x="41.04" y="0.00" width="4.56" height="4.56" fill="#f0cc3c" stroke="#8a8a8a" stroke-width="0.35"/>
<rect x="45.60" y="0.00" width="4.56" height="4.56" fill="#f0cc3c" stroke="#8a8a8a" stroke-width="0.35"/>
<rect x="50.16" y="0.00" width="4.56" height="4.56" fill="#f6f2a8" stroke="#8a8a8a" stroke-width="0.35"/>
<rect x="54.72" y="0.00" width="4.56" height="4.56" fill="#f6f2a8" stroke="#8a8a8a" stroke-width="0.35"/>
<rect x="59.28" y="0.00" width="4.56" height="4.56" fill="#f2ec46" stroke="#8a8a8a" stroke-width="0.35"/>
<rect x="63.84" y="0.00" width="4.56" height="4.56" fill="#f2ec46" stroke="#8a8a8a" stroke-width="0.35"/>
<rect x="68.40" y="0.00" width="4.56" height="4.56" fill="#f2ec46" stroke="#8a8a8a" stroke-width="0.35"/>
<rect x="0.00" y="4.56" width="4.56" height="4.56" fill="#f0cc3c" stroke="#8a8a8a" stroke-width="0.35"/>
<rect x="4.56" y="4.56" width="4.56" height="4.56" fill="#f0a030" stroke="#8a8a8a" stroke-width="0.35"/>
<rect x="9.12" y="4.56" width="4.56" height="4.56" fill="#f0cc3c" stroke="#8a8a8a" stroke-width="0.35"/>
<rect x="13.68" y="4.56" width="4.56" height="4.56" fill="#f2ec46" stroke="#8a8a8a" stroke-width="0.35"/>
<rect x="18.24" y="4.56" width="4.56" height="4.56" fill="#f2ec46" stroke="#8a8a8a" stroke-width="0.35"/>
<rect x="22.80" y="4.56" width="4.56" height="4.56" fill="#f2ec46" stroke="#8a8a8a" stroke-width="0.35"/>
<rect x="27.36" y="4.56" width="4.56" height="4.56" fill="#f2ec46" stroke="#8a8a8a" stroke-width="0.35"/>
<rect x="31.92" y="4.56" width="4.56" height="4.56" fill="#f6f2a8" stroke="#8a8a8a" stroke-width="0.35"/>
<rect x="36.48" y="4.56" width="4.56" height="4.56" fill="#f0cc3c" stroke="#8a8a8a" stroke-width="0.35"/>
<rect x="41.04" y="4.56" width="4.56" height="4.56" fill="#f2ec46" stroke="#8a8a8a" stroke-width="0.35"/>
<rect x="45.60" y="4.56" width="4.56" height="4.56" fill="#f2ec46" stroke="#8a8a8a" stroke-width="0.35"/>
<rect x="50.16" y="4.56" width="4.56" height="4.56" fill="#fdfcf0" stroke="#8a8a8a" stroke-width="0.35"/>
<rect x="54.72" y="4.56" width="4.56" height="4.56" fill="#f6f2a8" stroke="#8a8a8a" stroke-width="0.35"/>
<rect x="59.28" y="4.56" width="4.56" height="4.56" fill="#f0cc3c" stroke="#8a8a8a" stroke-width="0.35"/>
<rect x="63.84" y="4.56" width="4.56" height="4.56" fill="#f6f2a8" stroke="#8a8a8a" stroke-width="0.35"/>
<rect x="68.40" y="4.56" width="4.56" height="4.56" fill="#f2ec46" stroke="#8a8a8a" stroke-width="0.35"/>
<rect x="0.00" y="9.12" width="4.56" height="4.56" fill="#f0cc3c" stroke="#8a8a8a" stroke-width="0.35"/>
<rect x="4.56" y="9.12" width="4.56" height="4.56" fill="#f0cc3c" stroke="#8a8a8a" stroke-width="0.35"/>
<rect x="9.12" y="9.12" width="4.56" height="4.56" fill="#ec3020" stroke="#8a8a8a" stroke-width="0.35"/>
<rect x="13.68" y="9.12" width="4.56" height="4.56" fill="#f0702a" stroke="#8a8a8a" stroke-width="0.35"/>
<rect x="18.24" y="9.12" width="4.56" height="4.56" fill="#f2ec46" stroke="#8a8a8a" stroke-width="0.35"/>
<rect x="22.80" y="9.12" width="4.56" height="4.56" fill="#f0702a" stroke="#8a8a8a" stroke-width="0.35"/>
<rect x="27.36" y="9.12" width="4.56" height="4.56" fill="#f2ec46" stroke="#8a8a8a" stroke-width="0.35"/>
<rect x="31.92" y="9.12" width="4.56" height="4.56" fill="#f6f2a8" stroke="#8a8a8a" stroke-width="0.35"/>
<rect x="36.48" y="9.12" width="4.56" height="4.56" fill="#fdfcf0" stroke="#8a8a8a" stroke-width="0.35"/>
<rect x="41.04" y="9.12" width="4.56" height="4.56" fill="#f2ec46" stroke="#8a8a8a" stroke-width="0.35"/>
<rect x="45.60" y="9.12" width="4.56" height="4.56" fill="#f2ec46" stroke="#8a8a8a" stroke-width="0.35"/>
<rect x="50.16" y="9.12" width="4.56" height="4.56" fill="#fdfcf0" stroke="#8a8a8a" stroke-width="0.35"/>
<rect x="54.72" y="9.12" width="4.56" height="4.56" fill="#f6f2a8" stroke="#8a8a8a" stroke-width="0.35"/>
<rect x="59.28" y="9.12" width="4.56" height="4.56" fill="#f2ec46" stroke="#8a8a8a" stroke-width="0.35"/>
<rect x="63.84" y="9.12" width="4.56" height="4.56" fill="#f2ec46" stroke="#8a8a8a" stroke-width="0.35"/>
<rect x="68.40" y="9.12" width="4.56" height="4.56" fill="#f2ec46" stroke="#8a8a8a" stroke-width="0.35"/>
<rect x="0.00" y="13.68" width="4.56" height="4.56" fill="#f2ec46" stroke="#8a8a8a" stroke-width="0.35"/>
<rect x="4.56" y="13.68" width="4.56" height="4.56" fill="#f2ec46" stroke="#8a8a8a" stroke-width="0.35"/>
<rect x="9.12" y="13.68" width="4.56" height="4.56" fill="#f0702a" stroke="#8a8a8a" stroke-width="0.35"/>
<rect x="13.68" y="13.68" width="4.56" height="4.56" fill="#ec3020" stroke="#8a8a8a" stroke-width="0.35"/>
<rect x="18.24" y="13.68" width="4.56" height="4.56" fill="#f0a030" stroke="#8a8a8a" stroke-width="0.35"/>
<rect x="22.80" y="13.68" width="4.56" height="4.56" fill="#f0a030" stroke="#8a8a8a" stroke-width="0.35"/>
<rect x="27.36" y="13.68" width="4.56" height="4.56" fill="#f2ec46" stroke="#8a8a8a" stroke-width="0.35"/>
<rect x="31.92" y="13.68" width="4.56" height="4.56" fill="#f2ec46" stroke="#8a8a8a" stroke-width="0.35"/>
<rect x="36.48" y="13.68" width="4.56" height="4.56" fill="#f0cc3c" stroke="#8a8a8a" stroke-width="0.35"/>
<rect x="41.04" y="13.68" width="4.56" height="4.56" fill="#f2ec46" stroke="#8a8a8a" stroke-width="0.35"/>
<rect x="45.60" y="13.68" width="4.56" height="4.56" fill="#f2ec46" stroke="#8a8a8a" stroke-width="0.35"/>
<rect x="50.16" y="13.68" width="4.56" height="4.56" fill="#f6f2a8" stroke="#8a8a8a" stroke-width="0.35"/>
<rect x="54.72" y="13.68" width="4.56" height="4.56" fill="#f6f2a8" stroke="#8a8a8a" stroke-width="0.35"/>
<rect x="59.28" y="13.68" width="4.56" height="4.56" fill="#f0a030" stroke="#8a8a8a" stroke-width="0.35"/>
<rect x="63.84" y="13.68" width="4.56" height="4.56" fill="#f6f2a8" stroke="#8a8a8a" stroke-width="0.35"/>
<rect x="68.40" y="13.68" width="4.56" height="4.56" fill="#f6f2a8" stroke="#8a8a8a" stroke-width="0.35"/>
<rect x="0.00" y="18.24" width="4.56" height="4.56" fill="#f2ec46" stroke="#8a8a8a" stroke-width="0.35"/>
<rect x="4.56" y="18.24" width="4.56" height="4.56" fill="#f2ec46" stroke="#8a8a8a" stroke-width="0.35"/>
<rect x="9.12" y="18.24" width="4.56" height="4.56" fill="#f2ec46" stroke="#8a8a8a" stroke-width="0.35"/>
<rect x="13.68" y="18.24" width="4.56" height="4.56" fill="#f0a030" stroke="#8a8a8a" stroke-width="0.35"/>
<rect x="18.24" y="18.24" width="4.56" height="4.56" fill="#f0702a" stroke="#8a8a8a" stroke-width="0.35"/>
<rect x="22.80" y="18.24" width="4.56" height="4.56" fill="#f2ec46" stroke="#8a8a8a" stroke-width="0.35"/>
<rect x="27.36" y="18.24" width="4.56" height="4.56" fill="#f6f2a8" stroke="#8a8a8a" stroke-width="0.35"/>
<rect x="31.92" y="18.24" width="4.56" height="4.56" fill="#f2ec46" stroke="#8a8a8a" stroke-width="0.35"/>
<rect x="36.48" y="18.24" width="4.56" height="4.56" fill="#f0cc3c" stroke="#8a8a8a" stroke-width="0.35"/>
<rect x="41.04" y="18.24" width="4.56" height="4.56" fill="#f2ec46" stroke="#8a8a8a" stroke-width="0.35"/>
<rect x="45.60" y="18.24" width="4.56" height="4.56" fill="#f2ec46" stroke="#8a8a8a" stroke-width="0.35"/>
<rect x="50.16" y="18.24" width="4.56" height="4.56" fill="#fdfcf0" stroke="#8a8a8a" stroke-width="0.35"/>
<rect x="54.72" y="18.24" width="4.56" height="4.56" fill="#f6f2a8" stroke="#8a8a8a" stroke-width="0.35"/>
<rect x="59.28" y="18.24" width="4.56" height="4.56" fill="#f0a030" stroke="#8a8a8a" stroke-width="0.35"/>
<rect x="63.84" y="18.24" width="4.56" height="4.56" fill="#fdfcf0" stroke="#8a8a8a" stroke-width="0.35"/>
<rect x="68.40" y="18.24" width="4.56" height="4.56" fill="#f6f2a8" stroke="#8a8a8a" stroke-width="0.35"/>
<rect x="0.00" y="22.80" width="4.56" height="4.56" fill="#f0cc3c" stroke="#8a8a8a" stroke-width="0.35"/>
<rect x="4.56" y="22.80" width="4.56" height="4.56" fill="#f2ec46" stroke="#8a8a8a" stroke-width="0.35"/>
<rect x="9.12" y="22.80" width="4.56" height="4.56" fill="#f0702a" stroke="#8a8a8a" stroke-width="0.35"/>
<rect x="13.68" y="22.80" width="4.56" height="4.56" fill="#f0a030" stroke="#8a8a8a" stroke-width="0.35"/>
<rect x="18.24" y="22.80" width="4.56" height="4.56" fill="#f2ec46" stroke="#8a8a8a" stroke-width="0.35"/>
<rect x="22.80" y="22.80" width="4.56" height="4.56" fill="#ec3020" stroke="#8a8a8a" stroke-width="0.35"/>
<rect x="27.36" y="22.80" width="4.56" height="4.56" fill="#f0cc3c" stroke="#8a8a8a" stroke-width="0.35"/>
<rect x="31.92" y="22.80" width="4.56" height="4.56" fill="#f0cc3c" stroke="#8a8a8a" stroke-width="0.35"/>
<rect x="36.48" y="22.80" width="4.56" height="4.56" fill="#f2ec46" stroke="#8a8a8a" stroke-width="0.35"/>
<rect x="41.04" y="22.80" width="4.56" height="4.56" fill="#f6f2a8" stroke="#8a8a8a" stroke-width="0.35"/>
<rect x="45.60" y="22.80" width="4.56" height="4.56" fill="#f2ec46" stroke="#8a8a8a" stroke-width="0.35"/>
<rect x="50.16" y="22.80" width="4.56" height="4.56" fill="#f2ec46" stroke="#8a8a8a" stroke-width="0.35"/>
<rect x="54.72" y="22.80" width="4.56" height="4.56" fill="#f6f2a8" stroke="#8a8a8a" stroke-width="0.35"/>
<rect x="59.28" y="22.80" width="4.56" height="4.56" fill="#f2ec46" stroke="#8a8a8a" stroke-width="0.35"/>
<rect x="63.84" y="22.80" width="4.56" height="4.56" fill="#f2ec46" stroke="#8a8a8a" stroke-width="0.35"/>
<rect x="68.40" y="22.80" width="4.56" height="4.56" fill="#f2ec46" stroke="#8a8a8a" stroke-width="0.35"/>
<rect x="0.00" y="27.36" width="4.56" height="4.56" fill="#f0a030" stroke="#8a8a8a" stroke-width="0.35"/>
<rect x="4.56" y="27.36" width="4.56" height="4.56" fill="#f2ec46" stroke="#8a8a8a" stroke-width="0.35"/>
<rect x="9.12" y="27.36" width="4.56" height="4.56" fill="#f2ec46" stroke="#8a8a8a" stroke-width="0.35"/>
<rect x="13.68" y="27.36" width="4.56" height="4.56" fill="#f2ec46" stroke="#8a8a8a" stroke-width="0.35"/>
<rect x="18.24" y="27.36" width="4.56" height="4.56" fill="#f6f2a8" stroke="#8a8a8a" stroke-width="0.35"/>
<rect x="22.80" y="27.36" width="4.56" height="4.56" fill="#f0cc3c" stroke="#8a8a8a" stroke-width="0.35"/>
<rect x="27.36" y="27.36" width="4.56" height="4.56" fill="#f0702a" stroke="#8a8a8a" stroke-width="0.35"/>
<rect x="31.92" y="27.36" width="4.56" height="4.56" fill="#f0a030" stroke="#8a8a8a" stroke-width="0.35"/>
<rect x="36.48" y="27.36" width="4.56" height="4.56" fill="#f2ec46" stroke="#8a8a8a" stroke-width="0.35"/>
<rect x="41.04" y="27.36" width="4.56" height="4.56" fill="#f2ec46" stroke="#8a8a8a" stroke-width="0.35"/>
<rect x="45.60" y="27.36" width="4.56" height="4.56" fill="#f6f2a8" stroke="#8a8a8a" stroke-width="0.35"/>
<rect x="50.16" y="27.36" width="4.56" height="4.56" fill="#f2ec46" stroke="#8a8a8a" stroke-width="0.35"/>
<rect x="54.72" y="27.36" width="4.56" height="4.56" fill="#f6f2a8" stroke="#8a8a8a" stroke-width="0.35"/>
<rect x="59.28" y="27.36" width="4.56" height="4.56" fill="#f2ec46" stroke="#8a8a8a" stroke-width="0.35"/>
<rect x="63.84" y="27.36" width="4.56" height="4.56" fill="#f0a030" stroke="#8a8a8a" stroke-width="0.35"/>
<rect x="68.40" y="27.36" width="4.56" height="4.56" fill="#f0cc3c" stroke="#8a8a8a" stroke-width="0.35"/>
<rect x="0.00" y="31.92" width="4.56" height="4.56" fill="#f2ec46" stroke="#8a8a8a" stroke-width="0.35"/>
<rect x="4.56" y="31.92" width="4.56" height="4.56" fill="#f6f2a8" stroke="#8a8a8a" stroke-width="0.35"/>
<rect x="9.12" y="31.92" width="4.56" height="4.56" fill="#f6f2a8" stroke="#8a8a8a" stroke-width="0.35"/>
<rect x="13.68" y="31.92" width="4.56" height="4.56" fill="#f2ec46" stroke="#8a8a8a" stroke-width="0.35"/>
<rect x="18.24" y="31.92" width="4.56" height="4.56" fill="#f2ec46" stroke="#8a8a8a" stroke-width="0.35"/>
<rect x="22.80" y="31.92" width="4.56" height="4.56" fill="#f0cc3c" stroke="#8a8a8a" stroke-width="0.35"/>
<rect x="27.36" y="31.92" width="4.56" height="4.56" fill="#f0a030" stroke="#8a8a8a" stroke-width="0.35"/>
<rect x="31.92" y="31.92" width="4.56" height="4.56" fill="#f0cc3c" stroke="#8a8a8a" stroke-width="0.35"/>
<rect x="36.48" y="31.92" width="4.56" height="4.56" fill="#f0cc3c" stroke="#8a8a8a" stroke-width="0.35"/>
<rect x="41.04" y="31.92" width="4.56" height="4.56" fill="#f2ec46" stroke="#8a8a8a" stroke-width="0.35"/>
<rect x="45.60" y="31.92" width="4.56" height="4.56" fill="#f2ec46" stroke="#8a8a8a" stroke-width="0.35"/>
<rect x="50.16" y="31.92" width="4.56" height="4.56" fill="#f2ec46" stroke="#8a8a8a" stroke-width="0.35"/>
<rect x="54.72" y="31.92" width="4.56" height="4.56" fill="#f2ec46" stroke="#8a8a8a" stroke-width="0.35"/>
<rect x="59.28" y="31.92" width="4.56" height="4.56" fill="#f2ec46" stroke="#8a8a8a" stroke-width="0.35"/>
<rect x="63.84" y="31.92" width="4.56" height="4.56" fill="#fdfcf0" stroke="#8a8a8a" stroke-width="0.35"/>
<rect x="68.40" y="31.92" width="4.56" height="4.56" fill="#ec3020" stroke="#8a8a8a" stroke-width="0.35"/>
<rect x="0.00" y="36.48" width="4.56" height="4.56" fill="#f2ec46" stroke="#8a8a8a" stroke-width="0.35"/>
<rect x="4.56" y="36.48" width="4.56" height="4.56" fill="#f0cc3c" stroke="#8a8a8a" stroke-width="0.35"/>
<rect x="9.12" y="36.48" width="4.56" height="4.56" fill="#fdfcf0" stroke="#8a8a8a" stroke-width="0.35"/>
<rect x="13.68" y="36.48" width="4.56" height="4.56" fill="#f0cc3c" stroke="#8a8a8a" stroke-width="0.35"/>
<rect x="18.24" y="36.48" width="4.56" height="4.56" fill="#f0cc3c" stroke="#8a8a8a" stroke-width="0.35"/>
<rect x="22.80" y="36.48" width="4.56" height="4.56" fill="#f2ec46" stroke="#8a8a8a" stroke-width="0.35"/>
<rect x="27.36" y="36.48" width="4.56" height="4.56" fill="#f2ec46" stroke="#8a8a8a" stroke-width="0.35"/>
<rect x="31.92" y="36.48" width="4.56" height="4.56" fill="#f0cc3c" stroke="#8a8a8a" stroke-width="0.35"/>
<rect x="36.48" y="36.48" width="4.56" height="4.56" fill="#f2ec46" stroke="#8a8a8a" stroke-width="0.35"/>
<rect x="41.04" y="36.48" width="4.56" height="4.56" fill="#f6f2a8" stroke="#8a8a8a" stroke-width="0.35"/>
<rect x="45.60" y="36.48" width="4.56" height="4.56" fill="#f2ec46" stroke="#8a8a8a" stroke-width="0.35"/>
<rect x="50.16" y="36.48" width="4.56" height="4.56" fill="#f6f2a8" stroke="#8a8a8a" stroke-width="0.35"/>
<rect x="54.72" y="36.48" width="4.56" height="4.56" fill="#f2ec46" stroke="#8a8a8a" stroke-width="0.35"/>
<rect x="59.28" y="36.48" width="4.56" height="4.56" fill="#f2ec46" stroke="#8a8a8a" stroke-width="0.35"/>
<rect x="63.84" y="36.48" width="4.56" height="4.56" fill="#fdfcf0" stroke="#8a8a8a" stroke-width="0.35"/>
<rect x="68.40" y="36.48" width="4.56" height="4.56" fill="#f6f2a8" stroke="#8a8a8a" stroke-width="0.35"/>
<rect x="0.00" y="41.04" width="4.56" height="4.56" fill="#f0cc3c" stroke="#8a8a8a" stroke-width="0.35"/>
<rect x="4.56" y="41.04" width="4.56" height="4.56" fill="#f2ec46" stroke="#8a8a8a" stroke-width="0.35"/>
<rect x="9.12" y="41.04" width="4.56" height="4.56" fill="#f2ec46" stroke="#8a8a8a" stroke-width="0.35"/>
<rect x="13.68" y="41.04" width="4.56" height="4.56" fill="#f2ec46" stroke="#8a8a8a" stroke-width="0.35"/>
<rect x="18.24" y="41.04" width="4.56" height="4.56" fill="#f2ec46" stroke="#8a8a8a" stroke-width="0.35"/>
<rect x="22.80" y="41.04" width="4.56" height="4.56" fill="#f6f2a8" stroke="#8a8a8a" stroke-width="0.35"/>
<rect x="27.36" y="41.04" width="4.56" height="4.56" fill="#f2ec46" stroke="#8a8a8a" stroke-width="0.35"/>
<rect x="31.92" y="41.04" width="4.56" height="4.56" fill="#f2ec46" stroke="#8a8a8a" stroke-width="0.35"/>
<rect x="36.48" y="41.04" width="4.56" height="4.56" fill="#f6f2a8" stroke="#8a8a8a" stroke-width="0.35"/>
<rect x="41.04" y="41.04" width="4.56" height="4.56" fill="#f0a030" stroke="#8a8a8a" stroke-width="0.35"/>
<rect x="45.60" y="41.04" width="4.56" height="4.56" fill="#f0cc3c" stroke="#8a8a8a" stroke-width="0.35"/>
<rect x="50.16" y="41.04" width="4.56" height="4.56" fill="#f2ec46" stroke="#8a8a8a" stroke-width="0.35"/>
<rect x="54.72" y="41.04" width="4.56" height="4.56" fill="#f0cc3c" stroke="#8a8a8a" stroke-width="0.35"/>
<rect x="59.28" y="41.04" width="4.56" height="4.56" fill="#f2ec46" stroke="#8a8a8a" stroke-width="0.35"/>
<rect x="63.84" y="41.04" width="4.56" height="4.56" fill="#f6f2a8" stroke="#8a8a8a" stroke-width="0.35"/>
<rect x="68.40" y="41.04" width="4.56" height="4.56" fill="#fdfcf0" stroke="#8a8a8a" stroke-width="0.35"/>
<rect x="0.00" y="45.60" width="4.56" height="4.56" fill="#f0cc3c" stroke="#8a8a8a" stroke-width="0.35"/>
<rect x="4.56" y="45.60" width="4.56" height="4.56" fill="#f2ec46" stroke="#8a8a8a" stroke-width="0.35"/>
<rect x="9.12" y="45.60" width="4.56" height="4.56" fill="#f2ec46" stroke="#8a8a8a" stroke-width="0.35"/>
<rect x="13.68" y="45.60" width="4.56" height="4.56" fill="#f2ec46" stroke="#8a8a8a" stroke-width="0.35"/>
<rect x="18.24" y="45.60" width="4.56" height="4.56" fill="#f2ec46" stroke="#8a8a8a" stroke-width="0.35"/>
<rect x="22.80" y="45.60" width="4.56" height="4.56" fill="#f2ec46" stroke="#8a8a8a" stroke-width="0.35"/>
<rect x="27.36" y="45.60" width="4.56" height="4.56" fill="#f6f2a8" stroke="#8a8a8a" stroke-width="0.35"/>
<rect x="31.92" y="45.60" width="4.56" height="4.56" fill="#f2ec46" stroke="#8a8a8a" stroke-width="0.35"/>
<rect x="36.48" y="45.60" width="4.56" height="4.56" fill="#f2ec46" stroke="#8a8a8a" stroke-width="0.35"/>
<rect x="41.04" y="45.60" width="4.56" height="4.56" fill="#f0cc3c" stroke="#8a8a8a" stroke-width="0.35"/>
<rect x="45.60" y="45.60" width="4.56" height="4.56" fill="#ec3020" stroke="#8a8a8a" stroke-width="0.35"/>
<rect x="50.16" y="45.60" width="4.56" height="4.56" fill="#f2ec46" stroke="#8a8a8a" stroke-width="0.35"/>
<rect x="54.72" y="45.60" width="4.56" height="4.56" fill="#f2ec46" stroke="#8a8a8a" stroke-width="0.35"/>
<rect x="59.28" y="45.60" width="4.56" height="4.56" fill="#f0cc3c" stroke="#8a8a8a" stroke-width="0.35"/>
<rect x="63.84" y="45.60" width="4.56" height="4.56" fill="#f6f2a8" stroke="#8a8a8a" stroke-width="0.35"/>
<rect x="68.40" y="45.60" width="4.56" height="4.56" fill="#f6f2a8" stroke="#8a8a8a" stroke-width="0.35"/>
<rect x="0.00" y="50.16" width="4.56" height="4.56" fill="#f6f2a8" stroke="#8a8a8a" stroke-width="0.35"/>
<rect x="4.56" y="50.16" width="4.56" height="4.56" fill="#fdfcf0" stroke="#8a8a8a" stroke-width="0.35"/>
<rect x="9.12" y="50.16" width="4.56" height="4.56" fill="#fdfcf0" stroke="#8a8a8a" stroke-width="0.35"/>
<rect x="13.68" y="50.16" width="4.56" height="4.56" fill="#f6f2a8" stroke="#8a8a8a" stroke-width="0.35"/>
<rect x="18.24" y="50.16" width="4.56" height="4.56" fill="#fdfcf0" stroke="#8a8a8a" stroke-width="0.35"/>
<rect x="22.80" y="50.16" width="4.56" height="4.56" fill="#f2ec46" stroke="#8a8a8a" stroke-width="0.35"/>
<rect x="27.36" y="50.16" width="4.56" height="4.56" fill="#f2ec46" stroke="#8a8a8a" stroke-width="0.35"/>
<rect x="31.92" y="50.16" width="4.56" height="4.56" fill="#f2ec46" stroke="#8a8a8a" stroke-width="0.35"/>
<rect x="36.48" y="50.16" width="4.56" height="4.56" fill="#f6f2a8" stroke="#8a8a8a" stroke-width="0.35"/>
<rect x="41.04" y="50.16" width="4.56" height="4.56" fill="#f2ec46" stroke="#8a8a8a" stroke-width="0.35"/>
<rect x="45.60" y="50.16" width="4.56" height="4.56" fill="#f2ec46" stroke="#8a8a8a" stroke-width="0.35"/>
<rect x="50.16" y="50.16" width="4.56" height="4.56" fill="#f0cc3c" stroke="#8a8a8a" stroke-width="0.35"/>
<rect x="54.72" y="50.16" width="4.56" height="4.56" fill="#f2ec46" stroke="#8a8a8a" stroke-width="0.35"/>
<rect x="59.28" y="50.16" width="4.56" height="4.56" fill="#f2ec46" stroke="#8a8a8a" stroke-width="0.35"/>
<rect x="63.84" y="50.16" width="4.56" height="4.56" fill="#f0a030" stroke="#8a8a8a" stroke-width="0.35"/>
<rect x="68.40" y="50.16" width="4.56" height="4.56" fill="#fdfcf0" stroke="#8a8a8a" stroke-width="0.35"/>
<rect x="0.00" y="54.72" width="4.56" height="4.56" fill="#f6f2a8" stroke="#8a8a8a" stroke-width="0.35"/>
<rect x="4.56" y="54.72" width="4.56" height="4.56" fill="#f6f2a8" stroke="#8a8a8a" stroke-width="0.35"/>
<rect x="9.12" y="54.72" width="4.56" height="4.56" fill="#f6f2a8" stroke="#8a8a8a" stroke-width="0.35"/>
<rect x="13.68" y="54.72" width="4.56" height="4.56" fill="#f6f2a8" stroke="#8a8a8a" stroke-width="0.35"/>
<rect x="18.24" y="54.72" width="4.56" height="4.56" fill="#f6f2a8" stroke="#8a8a8a" stroke-width="0.35"/>
<rect x="22.80" y="54.72" width="4.56" height="4.56" fill="#f6f2a8" stroke="#8a8a8a" stroke-width="0.35"/>
<rect x="27.36" y="54.72" width="4.56" height="4.56" fill="#f6f2a8" stroke="#8a8a8a" stroke-width="0.35"/>
<rect x="31.92" y="54.72" width="4.56" height="4.56" fill="#f2ec46" stroke="#8a8a8a" stroke-width="0.35"/>
<rect x="36.48" y="54.72" width="4.56" height="4.56" fill="#f2ec46" stroke="#8a8a8a" stroke-width="0.35"/>
<rect x="41.04" y="54.72" width="4.56" height="4.56" fill="#f0cc3c" stroke="#8a8a8a" stroke-width="0.35"/>
<rect x="45.60" y="54.72" width="4.56" height="4.56" fill="#f2ec46" stroke="#8a8a8a" stroke-width="0.35"/>
<rect x="50.16" y="54.72" width="4.56" height="4.56" fill="#f2ec46" stroke="#8a8a8a" stroke-width="0.35"/>
<rect x="54.72" y="54.72" width="4.56" height="4.56" fill="#f0702a" stroke="#8a8a8a" stroke-width="0.35"/>
<rect x="59.28" y="54.72" width="4.56" height="4.56" fill="#f2ec46" stroke="#8a8a8a" stroke-width="0.35"/>
<rect x="63.84" y="54.72" width="4.56" height="4.56" fill="#f6f2a8" stroke="#8a8a8a" stroke-width="0.35"/>
<rect x="68.40" y="54.72" width="4.56" height="4.56" fill="#f6f2a8" stroke="#8a8a8a" stroke-width="0.35"/>
<rect x="0.00" y="59.28" width="4.56" height="4.56" fill="#f2ec46" stroke="#8a8a8a" stroke-width="0.35"/>
<rect x="4.56" y="59.28" width="4.56" height="4.56" fill="#f0cc3c" stroke="#8a8a8a" stroke-width="0.35"/>
<rect x="9.12" y="59.28" width="4.56" height="4.56" fill="#f2ec46" stroke="#8a8a8a" stroke-width="0.35"/>
<rect x="13.68" y="59.28" width="4.56" height="4.56" fill="#f0a030" stroke="#8a8a8a" stroke-width="0.35"/>
<rect x="18.24" y="59.28" width="4.56" height="4.56" fill="#f0a030" stroke="#8a8a8a" stroke-width="0.35"/>
<rect x="22.80" y="59.28" width="4.56" height="4.56" fill="#f2ec46" stroke="#8a8a8a" stroke-width="0.35"/>
<rect x="27.36" y="59.28" width="4.56" height="4.56" fill="#f2ec46" stroke="#8a8a8a" stroke-width="0.35"/>
<rect x="31.92" y="59.28" width="4.56" height="4.56" fill="#f2ec46" stroke="#8a8a8a" stroke-width="0.35"/>
<rect x="36.48" y="59.28" width="4.56" height="4.56" fill="#f2ec46" stroke="#8a8a8a" stroke-width="0.35"/>
<rect x="41.04" y="59.28" width="4.56" height="4.56" fill="#f2ec46" stroke="#8a8a8a" stroke-width="0.35"/>
<rect x="45.60" y="59.28" width="4.56" height="4.56" fill="#f0cc3c" stroke="#8a8a8a" stroke-width="0.35"/>
<rect x="50.16" y="59.28" width="4.56" height="4.56" fill="#f2ec46" stroke="#8a8a8a" stroke-width="0.35"/>
<rect x="54.72" y="59.28" width="4.56" height="4.56" fill="#f2ec46" stroke="#8a8a8a" stroke-width="0.35"/>
<rect x="59.28" y="59.28" width="4.56" height="4.56" fill="#f0a030" stroke="#8a8a8a" stroke-width="0.35"/>
<rect x="63.84" y="59.28" width="4.56" height="4.56" fill="#f6f2a8" stroke="#8a8a8a" stroke-width="0.35"/>
<rect x="68.40" y="59.28" width="4.56" height="4.56" fill="#f6f2a8" stroke="#8a8a8a" stroke-width="0.35"/>
<rect x="0.00" y="63.84" width="4.56" height="4.56" fill="#f2ec46" stroke="#8a8a8a" stroke-width="0.35"/>
<rect x="4.56" y="63.84" width="4.56" height="4.56" fill="#f6f2a8" stroke="#8a8a8a" stroke-width="0.35"/>
<rect x="9.12" y="63.84" width="4.56" height="4.56" fill="#f2ec46" stroke="#8a8a8a" stroke-width="0.35"/>
<rect x="13.68" y="63.84" width="4.56" height="4.56" fill="#f6f2a8" stroke="#8a8a8a" stroke-width="0.35"/>
<rect x="18.24" y="63.84" width="4.56" height="4.56" fill="#fdfcf0" stroke="#8a8a8a" stroke-width="0.35"/>
<rect x="22.80" y="63.84" width="4.56" height="4.56" fill="#f2ec46" stroke="#8a8a8a" stroke-width="0.35"/>
<rect x="27.36" y="63.84" width="4.56" height="4.56" fill="#f0a030" stroke="#8a8a8a" stroke-width="0.35"/>
<rect x="31.92" y="63.84" width="4.56" height="4.56" fill="#fdfcf0" stroke="#8a8a8a" stroke-width="0.35"/>
<rect x="36.48" y="63.84" width="4.56" height="4.56" fill="#fdfcf0" stroke="#8a8a8a" stroke-width="0.35"/>
<rect x="41.04" y="63.84" width="4.56" height="4.56" fill="#f6f2a8" stroke="#8a8a8a" stroke-width="0.35"/>
<rect x="45.60" y="63.84" width="4.56" height="4.56" fill="#f6f2a8" stroke="#8a8a8a" stroke-width="0.35"/>
<rect x="50.16" y="63.84" width="4.56" height="4.56" fill="#f0a030" stroke="#8a8a8a" stroke-width="0.35"/>
<rect x="54.72" y="63.84" width="4.56" height="4.56" fill="#f6f2a8" stroke="#8a8a8a" stroke-width="0.35"/>
<rect x="59.28" y="63.84" width="4.56" height="4.56" fill="#f6f2a8" stroke="#8a8a8a" stroke-width="0.35"/>
<rect x="63.84" y="63.84" width="4.56" height="4.56" fill="#ec3020" stroke="#8a8a8a" stroke-width="0.35"/>
<rect x="68.40" y="63.84" width="4.56" height="4.56" fill="#f0cc3c" stroke="#8a8a8a" stroke-width="0.35"/>
<rect x="0.00" y="68.40" width="4.56" height="4.56" fill="#f2ec46" stroke="#8a8a8a" stroke-width="0.35"/>
<rect x="4.56" y="68.40" width="4.56" height="4.56" fill="#f2ec46" stroke="#8a8a8a" stroke-width="0.35"/>
<rect x="9.12" y="68.40" width="4.56" height="4.56" fill="#f2ec46" stroke="#8a8a8a" stroke-width="0.35"/>
<rect x="13.68" y="68.40" width="4.56" height="4.56" fill="#f6f2a8" stroke="#8a8a8a" stroke-width="0.35"/>
<rect x="18.24" y="68.40" width="4.56" height="4.56" fill="#f6f2a8" stroke="#8a8a8a" stroke-width="0.35"/>
<rect x="22.80" y="68.40" width="4.56" height="4.56" fill="#f2ec46" stroke="#8a8a8a" stroke-width="0.35"/>
<rect x="27.36" y="68.40" width="4.56" height="4.56" fill="#f0cc3c" stroke="#8a8a8a" stroke-width="0.35"/>
<rect x="31.92" y="68.40" width="4.56" height="4.56" fill="#ec3020" stroke="#8a8a8a" stroke-width="0.35"/>
<rect x="36.48" y="68.40" width="4.56" height="4.56" fill="#f6f2a8" stroke="#8a8a8a" stroke-width="0.35"/>
<rect x="41.04" y="68.40" width="4.56" height="4.56" fill="#fdfcf0" stroke="#8a8a8a" stroke-width="0.35"/>
<rect x="45.60" y="68.40" width="4.56" height="4.56" fill="#f6f2a8" stroke="#8a8a8a" stroke-width="0.35"/>
<rect x="50.16" y="68.40" width="4.56" height="4.56" fill="#fdfcf0" stroke="#8a8a8a" stroke-width="0.35"/>
<rect x="54.72" y="68.40" width="4.56" height="4.56" fill="#f6f2a8" stroke="#8a8a8a" stroke-width="0.35"/>
<rect x="59.28" y="68.40" width="4.56" height="4.56" fill="#f6f2a8" stroke="#8a8a8a" stroke-width="0.35"/>
<rect x="63.84" y="68.40" width="4.56" height="4.56" fill="#f0cc3c" stroke="#8a8a8a" stroke-width="0.35"/>
<rect x="68.40" y="68.40" width="4.56" height="4.56" fill="#f0702a" stroke="#8a8a8a" stroke-width="0.35"/>
<rect x="9.42" y="9.42" width="3.96" height="3.96" fill="none" stroke="#3cf03c" stroke-width="0.75"/>
<rect x="13.98" y="9.42" width="3.96" height="3.96" fill="none" stroke="#3cf03c" stroke-width="0.75"/>
<rect x="9.42" y="13.98" width="3.96" height="3.96" fill="none" stroke="#3cf03c" stroke-width="0.75"/>
<rect x="13.98" y="13.98" width="3.96" height="3.96" fill="none" stroke="#3cf03c" stroke-width="0.75"/>
<rect x="18.54" y="13.98" width="3.96" height="3.96" fill="none" stroke="#3cf03c" stroke-width="0.75"/>
<rect x="59.58" y="13.98" width="3.96" height="3.96" fill="none" stroke="#3cf03c" stroke-width="0.75"/>
<rect x="13.98" y="18.54" width="3.96" height="3.96" fill="none" stroke="#3cf03c" stroke-width="0.75"/>
<rect x="18.54" y="18.54" width="3.96" height="3.96" fill="none" stroke="#3cf03c" stroke-width="0.75"/>
<rect x="59.58" y="18.54" width="3.96" height="3.96" fill="none" stroke="#3cf03c" stroke-width="0.75"/>
<rect x="23.10" y="23.10" width="3.96" height="3.96" fill="none" stroke="#3cf03c" stroke-width="0.75"/>
<rect x="68.70" y="32.22" width="3.96" height="3.96" fill="none" stroke="#3cf03c" stroke-width="0.75"/>
<rect x="64.14" y="50.46" width="3.96" height="3.96" fill="none" stroke="#3cf03c" stroke-width="0.75"/>
<rect x="13.98" y="59.58" width="3.96" height="3.96" fill="none" stroke="#3cf03c" stroke-width="0.75"/>
<rect x="18.54" y="59.58" width="3.96" height="3.96" fill="none" stroke="#3cf03c" stroke-width="0.75"/>
<rect x="50.46" y="64.14" width="3.96" height="3.96" fill="none" stroke="#3cf03c" stroke-width="0.75"/>
<rect x="64.14" y="64.14" width="3.96" height="3.96" fill="none" stroke="#3cf03c" stroke-width="0.75"/>
<rect x="32.22" y="68.70" width="3.96" height="3.96" fill="none" stroke="#3cf03c" stroke-width="0.75"/>
<rect x="0.00" y="0.00" width="13.68" height="13.68" fill="none" stroke="#111" stroke-width="0.8"/>
<rect x="13.68" y="13.68" width="13.68" height="13.68" fill="none" stroke="#111" stroke-width="0.8"/>
<rect x="27.36" y="27.36" width="9.12" height="9.12" fill="none" stroke="#111" stroke-width="0.8"/>
<rect x="36.48" y="36.48" width="4.56" height="4.56" fill="none" stroke="#111" stroke-width="0.8"/>
<rect x="41.04" y="41.04" width="9.12" height="9.12" fill="none" stroke="#111" stroke-width="0.8"/>
<rect x="50.16" y="50.16" width="9.12" height="9.12" fill="none" stroke="#111" stroke-width="0.8"/>
<rect x="59.28" y="59.28" width="4.56" height="4.56" fill="none" stroke="#111" stroke-width="0.8"/>
<rect x="63.84" y="63.84" width="9.12" height="9.12" fill="none" stroke="#111" stroke-width="0.8"/>
<rect x="0" y="0" width="72.96" height="72.96" fill="none" stroke="#111" stroke-width="0.9"/>
<path d="M-3.00 2.40H-5.80V11.28H-3.00" fill="none" stroke="#1a1a1a" stroke-width="1.0"/>
<path d="M2.40 -3.00V-5.80H11.28V-3.00" fill="none" stroke="#1a1a1a" stroke-width="1.0"/>
<text x="-9.40" y="7.84" font-size="5.9" text-anchor="end" fill="#111" stroke="#111" stroke-width="0.15">Cont</text>
<text transform="translate(7.84,-9.40) rotate(-90)" font-size="5.9" fill="#111" stroke="#111" stroke-width="0.15">Cont</text>
<path d="M-3.00 16.08H-5.80V24.96H-3.00" fill="none" stroke="#1a1a1a" stroke-width="1.0"/>
<path d="M16.08 -3.00V-5.80H24.96V-3.00" fill="none" stroke="#1a1a1a" stroke-width="1.0"/>
<text x="-9.40" y="21.52" font-size="5.9" text-anchor="end" fill="#111" stroke="#111" stroke-width="0.15">DMN</text>
<text transform="translate(21.52,-9.40) rotate(-90)" font-size="5.9" fill="#111" stroke="#111" stroke-width="0.15">DMN</text>
<path d="M-3.00 29.76H-5.80V34.08H-3.00" fill="none" stroke="#1a1a1a" stroke-width="1.0"/>
<path d="M29.76 -3.00V-5.80H34.08V-3.00" fill="none" stroke="#1a1a1a" stroke-width="1.0"/>
<text x="-9.40" y="32.92" font-size="5.9" text-anchor="end" fill="#111" stroke="#111" stroke-width="0.15">DAN</text>
<text transform="translate(32.92,-9.40) rotate(-90)" font-size="5.9" fill="#111" stroke="#111" stroke-width="0.15">DAN</text>
<path d="M-3.00 38.46H-5.80V39.06H-3.00" fill="none" stroke="#1a1a1a" stroke-width="1.0"/>
<path d="M38.46 -3.00V-5.80H39.06V-3.00" fill="none" stroke="#1a1a1a" stroke-width="1.0"/>
<text x="-9.40" y="39.76" font-size="5.9" text-anchor="end" fill="#111" stroke="#111" stroke-width="0.15">Lim</text>
<text transform="translate(39.76,-9.40) rotate(-90)" font-size="5.9" fill="#111" stroke="#111" stroke-width="0.15">Lim</text>
<path d="M-3.00 43.44H-5.80V47.76H-3.00" fill="none" stroke="#1a1a1a" stroke-width="1.0"/>
<path d="M43.44 -3.00V-5.80H47.76V-3.00" fill="none" stroke="#1a1a1a" stroke-width="1.0"/>
<text x="-9.40" y="46.60" font-size="5.9" text-anchor="end" fill="#111" stroke="#111" stroke-width="0.15">Sal/VAN</text>
<text transform="translate(46.60,-9.40) rotate(-90)" font-size="5.9" fill="#111" stroke="#111" stroke-width="0.15">Sal/VAN</text>
<path d="M-3.00 52.56H-5.80V56.88H-3.00" fill="none" stroke="#1a1a1a" stroke-width="1.0"/>
<path d="M52.56 -3.00V-5.80H56.88V-3.00" fill="none" stroke="#1a1a1a" stroke-width="1.0"/>
<text x="-9.40" y="55.72" font-size="5.9" text-anchor="end" fill="#111" stroke="#111" stroke-width="0.15">SMN</text>
<text transform="translate(55.72,-9.40) rotate(-90)" font-size="5.9" fill="#111" stroke="#111" stroke-width="0.15">SMN</text>
<path d="M-3.00 61.26H-5.80V61.86H-3.00" fill="none" stroke="#1a1a1a" stroke-width="1.0"/>
<path d="M61.26 -3.00V-5.80H61.86V-3.00" fill="none" stroke="#1a1a1a" stroke-width="1.0"/>
<text x="-9.40" y="62.56" font-size="5.9" text-anchor="end" fill="#111" stroke="#111" stroke-width="0.15">TP</text>
<text transform="translate(62.56,-9.40) rotate(-90)" font-size="5.9" fill="#111" stroke="#111" stroke-width="0.15">TP</text>
<path d="M-3.00 66.24H-5.80V70.56H-3.00" fill="none" stroke="#1a1a1a" stroke-width="1.0"/>
<path d="M66.24 -3.00V-5.80H70.56V-3.00" fill="none" stroke="#1a1a1a" stroke-width="1.0"/>
<text x="-9.40" y="69.40" font-size="5.9" text-anchor="end" fill="#111" stroke="#111" stroke-width="0.15">Vis</text>
<text transform="translate(69.40,-9.40) rotate(-90)" font-size="5.9" fill="#111" stroke="#111" stroke-width="0.15">Vis</text>
</g>
<rect x="518.3" y="96.2" width="5.2" height="36.4" fill="url(#gdiv)" stroke="#333" stroke-width="0.5"/>
<rect x="529" y="96.2" width="5.2" height="36.4" fill="url(#gseq)" stroke="#333" stroke-width="0.5"/>
<text x="517.30" y="93.30" font-size="8.8" fill="#000" text-anchor="middle"  stroke="#000" stroke-width="0.15">0.3</text>
<text x="531.60" y="93.30" font-size="8.8" fill="#000" text-anchor="middle"  stroke="#000" stroke-width="0.15">6</text>
<text x="516.20" y="141.90" font-size="8.8" fill="#000" text-anchor="middle"  stroke="#000" stroke-width="0.15">-0.3</text>
<text x="531.60" y="141.90" font-size="8.8" fill="#000" text-anchor="middle"  stroke="#000" stroke-width="0.15">0</text>
<text x="513.40" y="153.80" font-size="8.8" fill="#000" text-anchor="start"  stroke="#000" stroke-width="0.15">× 10<tspan font-size="5.8" dy="-4">-2</tspan></text>
<text x="492.90" y="111.40" font-size="8.8" fill="#000" text-anchor="middle"  stroke="#000" stroke-width="0.15">Mean</text>
<text x="492.90" y="121.90" font-size="8.8" fill="#000" text-anchor="middle"  stroke="#000" stroke-width="0.15">asymmetry</text>
<text x="539.60" y="112.30" font-size="8.8" fill="#000" text-anchor="start"  stroke="#000" stroke-width="0.15">Mean abs.</text>
<text x="539.60" y="121.60" font-size="8.8" fill="#000" text-anchor="start"  stroke="#000" stroke-width="0.15">asymmetry</text>
<g transform="translate(44.3,199.5) scale(0.9940)">
<path d="M0 0h1M1 1h1M3 3h1M37 3h1M3 5h1M7 7h1M10 10h1M46 11h1M16 15h1M19 17h1M6 18h1M23 18h1M21 21h1M27 26h1M41 30h1M46 34h1M35 35h1M35 36h1M45 38h1M36 44h1M37 45h1M45 45h1M23 46h1M2 47h1M45 47h1M32 49h1M47 49h1" stroke="#c8f0f0" stroke-width="1" transform="translate(0,0.5)"/>
<path d="M6 0h1M24 0h1M20 2h1M36 3h1M9 4h1M9 17h1M18 17h1M22 17h1M48 23h1M40 24h1M15 25h1M46 29h1M9 31h1M31 31h1M32 32h1M28 35h1M47 37h1M32 40h1M40 40h1M2 41h1M6 46h1" stroke="#f0f0f0" stroke-width="1" transform="translate(0,0.5)"/>
<path d="M23 0h1M37 0h1M40 1h1M46 1h1M9 3h1M35 3h1M46 3h1M3 4h1M5 4h1M2 5h1M6 5h1M8 6h1M39 6h1M44 6h1M31 8h1M10 9h1M13 11h1M13 12h1M29 12h1M48 12h1M9 13h1M47 14h1M15 15h1M16 16h1M21 16h1M15 17h1M17 17h1M27 17h1M34 17h1M36 17h1M35 18h1M3 19h1M14 19h1M18 19h1M12 20h1M24 21h1M27 22h1M35 22h1M48 22h1M22 23h1M35 24h1M43 24h1M3 25h1M26 26h1M37 27h1M31 28h1M2 29h1M20 29h1M30 29h1M20 30h1M49 30h1M38 31h1M31 32h1M17 33h1M34 34h1M9 35h1M46 35h1M38 36h1M19 37h1M32 37h1M37 39h1M49 39h1M14 40h1M31 42h1M41 42h1M45 43h1M6 44h1M9 44h1M33 44h1M39 45h1M40 46h1M8 47h1M46 47h1M47 47h1M45 49h1" stroke="#f0fff0" stroke-width="1" transform="translate(0,0.5)"/>
<path d="M32 0h1M0 1h1M48 1h1M14 2h1M35 4h1M4 5h1M5 5h1M7 6h1M8 7h1M20 9h1M12 10h1M16 10h1M11 11h1M25 11h1M34 11h1M14 12h1M11 13h1M12 13h1M30 13h1M41 13h1M15 14h1M6 15h1M8 18h1M18 18h1M12 19h1M19 20h1M36 20h1M31 21h1M36 21h1M46 21h1M16 22h1M21 22h1M20 23h1M11 24h1M22 26h1M44 26h1M2 27h1M27 27h1M29 28h1M3 29h1M13 29h1M29 29h1M2 30h1M29 30h1M48 30h1M38 32h1M14 33h1M33 33h1M34 33h1M38 34h1M5 35h1M36 35h1M37 36h1M38 38h1M40 39h1M41 39h1M49 40h1M34 41h1M44 41h1M24 42h1M43 42h1M43 43h1M31 45h1M49 45h1M20 46h1M46 46h1M26 47h1M45 48h1" stroke="#dcf0f0" stroke-width="1" transform="translate(0,0.5)"/>
<path d="M2 1h1M2 7h1M30 7h1M33 7h1M24 8h1M12 11h1M14 15h1M40 16h1M16 17h1M15 18h1M9 19h1M33 19h1M21 20h1M46 20h1M22 22h1M7 24h1M48 24h1M33 29h1M9 30h1M42 31h1M35 32h1M22 33h1M45 33h1M48 34h1M29 37h1M36 37h1M37 37h1M39 39h1M31 40h1M42 42h1M42 43h1M33 45h1M41 46h1M20 47h1M21 49h1" stroke="#f0f0dc" stroke-width="1" transform="translate(0,0.5)"/>
<path d="M2 2h1" stroke="#8cdcdc" stroke-width="1" transform="translate(0,0.5)"/>
<path d="M42 3h1M14 14h1M41 15h1M44 17h1M22 21h1M12 35h1M36 36h1M10 37h1M35 39h1M49 41h1M47 45h1M30 48h1M17 49h1" stroke="#f0f0ff" stroke-width="1" transform="translate(0,0.5)"/>
<path d="M4 4h1M35 8h1M24 24h1M26 25h1M33 31h1M29 32h1M31 36h1M25 38h1M38 39h1M48 39h1M21 45h1" stroke="#dcf0dc" stroke-width="1" transform="translate(0,0.5)"/>
<path d="M10 5h1M21 17h1M37 38h1" stroke="#a0dcf0" stroke-width="1" transform="translate(0,0.5)"/>
<path d="M6 6h1" stroke="#c8dcf0" stroke-width="1" transform="translate(0,0.5)"/>
<path d="M4 8h1M13 13h1M28 14h1M19 19h1M25 30h1M39 30h1M35 34h1M41 41h1" stroke="#dcf0c8" stroke-width="1" transform="translate(0,0.5)"/>
<path d="M8 8h1" stroke="#a0c8dc" stroke-width="1" transform="translate(0,0.5)"/>
<path d="M9 9h1" stroke="#b4dca0" stroke-width="1" transform="translate(0,0.5)"/>
<path d="M9 10h1M21 24h1M40 33h1M37 35h1M43 35h1M41 48h1" stroke="#f0ffff" stroke-width="1" transform="translate(0,0.5)"/>
<path d="M7 11h1M13 15h1M38 18h1M20 20h1M23 23h1M35 31h1M6 32h1M49 49h1" stroke="#b4f0f0" stroke-width="1" transform="translate(0,0.5)"/>
<path d="M12 12h1M20 19h1M46 41h1" stroke="#c8f0b4" stroke-width="1" transform="translate(0,0.5)"/>
<path d="M39 20h1" stroke="#dcf0b4" stroke-width="1" transform="translate(0,0.5)"/>
<path d="M25 25h1" stroke="#a0dcdc" stroke-width="1" transform="translate(0,0.5)"/>
<path d="M28 28h1M48 48h1" stroke="#78b4dc" stroke-width="1" transform="translate(0,0.5)"/>
<path d="M30 30h1M44 44h1" stroke="#b4dcf0" stroke-width="1" transform="translate(0,0.5)"/>
</g>
<rect x="44.3" y="199.5" width="49.7" height="49.5" fill="none" stroke="#4a4a4a" stroke-width="1.1"/>
<path d="M41.5 228.6H96.5" stroke="#f04848" stroke-width="1.0" stroke-dasharray="1.8 1.4" fill="none"/>
<path d="M99.8 228.6H106" stroke="#f03030" stroke-width="1.2" fill="none"/>
<path d="M109.3 228.6L105 226.6L105.6 228.6L105 230.6Z" fill="#f03030"/>
<path d="M73.3 196V251.4" stroke="#3a3af0" stroke-width="0.9" stroke-dasharray="1.5 1.3" fill="none"/>
<path d="M73.3 195.2C82 184 104 178 116.5 191.2" stroke="#2a2af0" stroke-width="1.1" fill="none"/>
<path d="M120.2 195.6L114.2 192.6L118.6 188.8Z" fill="#2a2af0"/>
<rect x="111.2" y="196.6" width="19.4" height="55" rx="4" ry="4" fill="none" stroke="#333" stroke-width="0.9" stroke-dasharray="1 1.9"/>
<rect x="113.2" y="202.5" width="4.0" height="1.5" fill="#d8f0f0"/>
<rect x="113.2" y="204.2" width="4.0" height="1.5" fill="#f0f0b8"/>
<rect x="113.2" y="205.8" width="4.0" height="1.5" fill="#f4d8a0"/>
<rect x="113.2" y="207.3" width="4.0" height="1.5" fill="#e0a070"/>
<rect x="113.2" y="208.8" width="4.0" height="1.5" fill="#9ee0e8"/>
<rect x="113.2" y="210.3" width="4.0" height="1.5" fill="#f2f0b0"/>
<rect x="113.2" y="211.8" width="4.0" height="1.5" fill="#a8ecd8"/>
<rect x="113.2" y="213.3" width="4.0" height="1.5" fill="#c8f0f8"/>
<rect x="113.2" y="214.8" width="4.0" height="1.5" fill="#a0e8f0"/>
<rect x="113.2" y="216.3" width="4.0" height="1.5" fill="#f0f0c0"/>
<rect x="113.2" y="217.8" width="4.0" height="1.5" fill="#d8f0b0"/>
<rect x="113.2" y="219.3" width="4.0" height="1.5" fill="#f0e8b0"/>
<rect x="113.2" y="220.8" width="4.0" height="1.5" fill="#e8f4d0"/>
<rect x="113.2" y="222.3" width="4.0" height="1.5" fill="#f4f4e0"/>
<rect x="112.8" y="199.4" width="4.8" height="49.6" fill="none" stroke="#f04848" stroke-width="0.9"/>
<rect x="123.7" y="202.5" width="4.0" height="1.5" fill="#d8f0f0"/>
<rect x="123.7" y="204.2" width="4.0" height="1.5" fill="#b0e0f8"/>
<rect x="123.7" y="205.8" width="4.0" height="1.5" fill="#f4d8a0"/>
<rect x="123.7" y="207.3" width="4.0" height="1.5" fill="#e0a070"/>
<rect x="123.7" y="208.8" width="4.0" height="1.5" fill="#b0e0f8"/>
<rect x="123.7" y="210.3" width="4.0" height="1.5" fill="#f2f0b0"/>
<rect x="123.7" y="211.8" width="4.0" height="1.5" fill="#a8ecd8"/>
<rect x="123.7" y="213.3" width="4.0" height="1.5" fill="#b0e0f8"/>
<rect x="123.7" y="214.8" width="4.0" height="1.5" fill="#a0e8f0"/>
<rect x="123.7" y="216.3" width="4.0" height="1.5" fill="#f0f0c0"/>
<rect x="123.7" y="217.8" width="4.0" height="1.5" fill="#b0e0f8"/>
<rect x="123.7" y="219.3" width="4.0" height="1.5" fill="#f0e8b0"/>
<rect x="123.7" y="220.8" width="4.0" height="1.5" fill="#e8f4d0"/>
<rect x="123.7" y="222.3" width="4.0" height="1.5" fill="#b0e0f8"/>
<rect x="123.3" y="199.4" width="4.8" height="49.6" fill="none" stroke="#3a3af0" stroke-width="0.9"/>
<text x="38.60" y="230.80" font-size="8.8" fill="#f03a3a" text-anchor="end"  stroke="#f03a3a" stroke-width="0.15">row <tspan font-style="italic">i</tspan></text>
<text x="40.30" y="242.00" font-size="8.8" fill="#f03a3a" text-anchor="end"  stroke="#f03a3a" stroke-width="0.15">influences</text>
<text x="73.60" y="261.70" font-size="8.8" fill="#3030f0" text-anchor="middle"  stroke="#3030f0" stroke-width="0.15">column <tspan font-style="italic">i</tspan></text>
<text x="74.30" y="270.80" font-size="8.8" fill="#3030f0" text-anchor="middle"  stroke="#3030f0" stroke-width="0.15">influenced by</text>
<text x="128.90" y="263.00" font-size="8.8" fill="#000" text-anchor="middle"  stroke="#000" stroke-width="0.15">Correlation</text>
<rect x="331.4" y="205.9" width="5.5" height="61" fill="url(#gdiv)" stroke="#333" stroke-width="0.5"/>
<text x="337.20" y="203.00" font-size="9.3" fill="#000" text-anchor="middle"  stroke="#000" stroke-width="0.15">0.85</text>
<text x="337.20" y="276.50" font-size="9.3" fill="#000" text-anchor="middle"  stroke="#000" stroke-width="0.15">0.55</text>
<text transform="translate(347.9,236.5) rotate(-90)" font-size="8.8" text-anchor="middle" stroke="#000" stroke-width="0.15">In/out similarity</text>
<path d="M409.8 191.6V273.1H684" stroke="#222" stroke-width="0.9" fill="none"/>
<path d="M409.8 212.6h2.6M409.8 246h2.6" stroke="#222" stroke-width="0.8"/>
<text x="406.30" y="216.90" font-size="8.8" fill="#000" text-anchor="end"  stroke="#000" stroke-width="0.15">0.8</text>
<text x="406.30" y="249.90" font-size="8.8" fill="#000" text-anchor="end"  stroke="#000" stroke-width="0.15">0.6</text>
<text transform="translate(388.2,228.9) rotate(-90)" font-size="8.7" text-anchor="middle" stroke="#000" stroke-width="0.15">In/out similarity</text>
<path d="M644 185V284" stroke="#333" stroke-width="0.8" stroke-dasharray="0.9 1.6" fill="none"/>
<path d="M660.9 185.9V177.3H674.9V185.9" stroke="#111" stroke-width="0.9" fill="none"/>
<text x="668.00" y="179.60" font-size="12" fill="#000" text-anchor="middle"  stroke="#000" stroke-width="0.15">*</text>
<path d="M423.80 212.85L423.80 212.85L423.65 213.89L423.43 214.94L423.17 215.98L422.89 217.03L422.58 218.07L422.25 219.12L421.92 220.16L421.57 221.21L421.22 222.25L420.87 223.30L420.53 224.34L420.19 225.39L419.87 226.43L419.55 227.48L419.25 228.52L418.97 229.57L418.71 230.62L418.48 231.66L418.26 232.71L418.35 233.75L418.57 234.80L418.81 235.84L419.07 236.89L419.35 237.93L419.65 238.98L419.96 240.02L420.28 241.07L420.61 242.11L420.95 243.16L421.29 244.20L421.63 245.25L421.97 246.29L422.30 247.34L422.61 248.38L422.91 249.43L423.19 250.47L423.44 251.52L423.65 252.56L423.80 253.61L423.80 253.61Z" fill="#eef03a" stroke="#333" stroke-width="0.45"/>
<path d="M423.80 210.10V255.40" stroke="#2a2a2a" stroke-width="0.65"/>
<path d="M426.15 233.25h0.7M425.34 229.30h0.7M425.30 237.13h0.7M425.85 219.61h0.7M426.54 236.36h0.7M426.26 231.89h0.7M426.27 222.02h0.7M426.36 219.08h0.7M426.99 224.35h0.7M425.64 239.50h0.7M425.47 236.95h0.7M425.08 227.10h0.7M426.08 240.96h0.7M425.78 226.92h0.7M427.29 236.83h0.7M425.13 238.96h0.7M426.35 239.93h0.7M426.93 231.18h0.7M426.38 226.65h0.7M425.04 237.39h0.7M426.13 242.13h0.7M425.72 239.40h0.7M427.16 225.70h0.7M425.72 237.11h0.7M425.16 230.81h0.7M426.94 243.98h0.7M426.52 228.83h0.7M425.33 232.88h0.7M427.06 235.81h0.7M425.33 241.74h0.7M425.14 242.67h0.7M425.37 233.45h0.7M426.41 242.60h0.7M425.27 228.31h0.7M425.75 231.04h0.7M425.30 240.94h0.7M426.29 222.49h0.7" stroke="#1a1a1a" stroke-width="0.75"/>
<path d="M425.63 237.93h1.1M425.99 235.79h1.1M425.21 237.37h1.1M426.70 232.87h1.1M426.85 236.57h1.1M427.13 236.05h1.1M425.83 231.39h1.1M427.10 229.96h1.1" stroke="#e82020" stroke-width="1.1"/>
<text transform="translate(426.10,275.8) rotate(-90)" font-size="8.7" text-anchor="end" fill="#e8f04a" stroke="#e8f04a" stroke-width="0.15">Conta</text>
<path d="M437.60 214.92L437.60 214.92L437.39 215.98L437.10 217.03L436.74 218.09L436.35 219.14L435.94 220.20L435.51 221.26L435.07 222.31L434.63 223.37L434.20 224.42L433.79 225.48L433.40 226.53L433.03 227.59L432.70 228.64L432.40 229.70L432.24 230.75L432.40 231.81L432.58 232.86L432.77 233.92L432.97 234.97L433.19 236.03L433.41 237.08L433.65 238.14L433.89 239.19L434.14 240.25L434.40 241.30L434.66 242.36L434.93 243.41L435.20 244.47L435.47 245.52L435.73 246.58L435.99 247.63L436.25 248.69L436.49 249.74L436.73 250.80L436.95 251.86L437.15 252.91L437.33 253.97L437.49 255.02L437.60 256.08L437.60 256.08Z" fill="#dce83a" stroke="#333" stroke-width="0.45"/>
<path d="M437.60 212.80V258.30" stroke="#2a2a2a" stroke-width="0.65"/>
<path d="M440.37 236.41h0.7M438.91 225.42h0.7M440.65 222.27h0.7M439.70 229.97h0.7M440.19 234.71h0.7M440.23 245.14h0.7M439.47 246.00h0.7M440.07 233.84h0.7M439.39 231.97h0.7M440.64 227.10h0.7M440.87 232.75h0.7M440.28 227.24h0.7M440.82 233.32h0.7M440.09 220.83h0.7M440.67 232.62h0.7M439.94 224.34h0.7M440.81 222.00h0.7M440.22 243.53h0.7M439.75 237.76h0.7M439.98 237.41h0.7M441.04 223.65h0.7M440.03 222.56h0.7M439.28 237.50h0.7M439.80 231.89h0.7M441.03 219.77h0.7M439.63 236.51h0.7M438.92 238.45h0.7M440.50 231.59h0.7M438.90 232.70h0.7M440.84 219.75h0.7M440.52 227.93h0.7M440.66 235.69h0.7M439.07 235.89h0.7M440.35 225.99h0.7M439.47 233.19h0.7M440.39 221.40h0.7" stroke="#1a1a1a" stroke-width="0.75"/>
<path d="M440.41 234.72h1.1M440.62 232.33h1.1M440.06 229.30h1.1M440.10 225.15h1.1M440.76 234.46h1.1M438.83 227.59h1.1M439.46 227.19h1.1M440.12 227.47h1.1" stroke="#e82020" stroke-width="1.1"/>
<text transform="translate(439.90,275.8) rotate(-90)" font-size="8.7" text-anchor="end" fill="#d8e048" stroke="#d8e048" stroke-width="0.15">Contb</text>
<path d="M451.10 216.83L451.10 216.83L450.97 217.90L450.78 218.98L450.55 220.06L450.30 221.13L450.04 222.21L449.75 223.29L449.46 224.36L449.15 225.44L448.85 226.52L448.54 227.59L448.24 228.67L447.94 229.75L447.64 230.82L447.36 231.90L447.09 232.98L446.84 234.05L446.60 235.13L446.38 236.21L446.17 237.28L446.01 238.36L446.21 239.44L446.42 240.51L446.66 241.59L446.91 242.67L447.19 243.74L447.47 244.82L447.77 245.90L448.08 246.97L448.40 248.05L448.72 249.13L449.04 250.20L449.36 251.28L449.67 252.36L449.97 253.43L450.26 254.51L450.52 255.59L450.76 256.66L450.96 257.74L451.10 258.82L451.10 258.82Z" fill="#c8c830" stroke="#333" stroke-width="0.45"/>
<path d="M451.10 213.90V260.60" stroke="#2a2a2a" stroke-width="0.65"/>
<path d="M454.53 229.38h0.7M452.67 229.58h0.7M453.06 224.08h0.7M453.20 241.81h0.7M454.37 239.41h0.7M454.14 230.40h0.7M453.21 240.81h0.7M453.37 240.36h0.7M453.14 234.47h0.7M452.33 235.53h0.7M454.29 241.27h0.7M452.82 224.76h0.7M453.16 238.01h0.7M454.34 233.03h0.7M453.63 232.58h0.7M453.03 237.97h0.7M453.57 232.65h0.7M453.81 217.51h0.7M454.35 242.95h0.7M454.19 245.26h0.7M453.88 242.29h0.7M453.87 253.61h0.7M452.58 242.28h0.7M453.00 248.95h0.7M454.33 241.73h0.7" stroke="#1a1a1a" stroke-width="0.75"/>
<path d="M453.22 243.05h1.1M454.14 234.70h1.1M452.34 240.82h1.1M452.34 238.00h1.1M454.05 239.74h1.1M452.41 234.07h1.1M454.20 236.70h1.1M452.87 241.08h1.1M453.17 242.56h1.1M452.36 237.36h1.1M452.95 241.65h1.1" stroke="#e82020" stroke-width="1.1"/>
<text transform="translate(453.40,275.8) rotate(-90)" font-size="8.7" text-anchor="end" fill="#c4c43c" stroke="#c4c43c" stroke-width="0.15">Contc</text>
<path d="M465.10 210.84L465.10 210.84L464.93 211.89L464.68 212.93L464.38 213.97L464.06 215.01L463.71 216.05L463.34 217.10L462.96 218.14L462.57 219.18L462.18 220.22L461.79 221.27L461.42 222.31L461.05 223.35L460.70 224.39L460.37 225.43L460.06 226.48L459.77 227.52L459.51 228.56L459.32 229.60L459.52 230.64L459.74 231.69L459.98 232.73L460.23 233.77L460.51 234.81L460.79 235.86L461.09 236.90L461.41 237.94L461.72 238.98L462.05 240.02L462.38 241.07L462.71 242.11L463.04 243.15L463.36 244.19L463.67 245.24L463.98 246.28L464.26 247.32L464.52 248.36L464.76 249.40L464.96 250.45L465.10 251.49L465.10 251.49Z" fill="#f06058" stroke="#333" stroke-width="0.45"/>
<path d="M465.10 208.30V253.40" stroke="#2a2a2a" stroke-width="0.65"/>
<path d="M467.94 229.40h0.7M467.93 228.77h0.7M467.90 231.35h0.7M467.19 225.21h0.7M467.41 212.47h0.7M468.25 232.61h0.7M468.43 240.79h0.7M466.51 232.19h0.7M468.16 228.00h0.7M467.72 227.86h0.7M468.22 225.68h0.7M466.73 238.66h0.7M467.78 226.48h0.7M467.05 230.31h0.7M468.35 219.28h0.7M466.89 220.38h0.7M467.02 217.51h0.7M468.56 218.81h0.7M468.08 225.93h0.7M467.96 238.87h0.7M467.39 236.26h0.7M468.18 230.56h0.7M466.83 226.88h0.7M466.65 241.69h0.7M467.13 233.62h0.7M468.01 221.85h0.7M466.81 234.64h0.7M467.62 234.43h0.7M468.21 236.25h0.7M466.43 229.04h0.7M467.97 230.17h0.7M468.42 236.66h0.7M467.87 228.74h0.7M467.40 221.04h0.7M468.56 232.07h0.7M468.11 238.10h0.7M468.56 220.47h0.7M467.52 227.14h0.7M467.84 222.18h0.7M468.42 231.63h0.7M467.48 235.16h0.7M468.36 227.43h0.7M467.04 229.25h0.7M467.94 217.83h0.7M466.53 228.31h0.7M467.88 238.69h0.7M467.33 218.26h0.7M467.72 222.75h0.7M468.45 222.95h0.7M468.43 231.96h0.7M466.40 219.71h0.7M466.72 219.77h0.7M468.51 237.46h0.7M468.57 227.97h0.7M468.25 231.94h0.7M466.91 232.98h0.7M468.46 217.96h0.7M467.65 222.80h0.7M468.05 222.87h0.7M467.32 238.70h0.7M467.01 227.65h0.7M466.68 221.18h0.7M468.48 214.91h0.7M466.74 223.80h0.7M467.40 216.60h0.7M466.69 246.01h0.7" stroke="#1a1a1a" stroke-width="0.75"/>
<path d="M466.71 225.55h1.1M467.27 225.43h1.1M466.83 227.50h1.1M468.52 226.20h1.1M467.53 230.52h1.1M466.96 229.32h1.1M467.45 225.09h1.1M467.37 231.20h1.1M466.47 231.32h1.1" stroke="#e82020" stroke-width="1.1"/>
<text transform="translate(467.40,275.8) rotate(-90)" font-size="8.7" text-anchor="end" fill="#f06060" stroke="#f06060" stroke-width="0.15">DMNa</text>
<path d="M478.50 216.32L478.50 216.32L478.38 217.29L478.17 218.26L477.89 219.23L477.57 220.20L477.21 221.17L476.83 222.14L476.44 223.11L476.04 224.08L475.66 225.04L475.29 226.01L474.95 226.98L474.64 227.95L474.37 228.92L474.15 229.89L473.98 230.86L473.86 231.83L473.81 232.80L473.87 233.77L473.96 234.74L474.08 235.71L474.23 236.68L474.41 237.65L474.61 238.62L474.84 239.59L475.08 240.56L475.35 241.53L475.63 242.49L475.92 243.46L476.21 244.43L476.51 245.40L476.81 246.37L477.10 247.34L477.38 248.31L477.64 249.28L477.88 250.25L478.10 251.22L478.28 252.19L478.42 253.16L478.50 254.13L478.50 254.13Z" fill="#ec3a30" stroke="#333" stroke-width="0.45"/>
<path d="M478.50 214.10V256.00" stroke="#2a2a2a" stroke-width="0.65"/>
<path d="M480.09 233.34h0.7M481.35 243.61h0.7M479.86 234.91h0.7M481.27 245.67h0.7M481.28 232.98h0.7M481.00 241.24h0.7M481.95 222.06h0.7M480.40 224.03h0.7M479.72 231.78h0.7M481.43 223.08h0.7M480.11 236.15h0.7M481.49 234.21h0.7M479.95 235.04h0.7M480.50 234.66h0.7M480.81 220.91h0.7M480.35 248.96h0.7M481.70 231.11h0.7M480.33 239.43h0.7M481.90 240.09h0.7M481.33 242.33h0.7M480.46 238.26h0.7M480.74 224.59h0.7M479.78 219.91h0.7M480.73 237.15h0.7M481.66 230.51h0.7M480.60 243.75h0.7M481.42 232.71h0.7M480.70 243.05h0.7M481.46 234.92h0.7M480.70 238.49h0.7M481.57 248.78h0.7M480.56 246.34h0.7M481.55 228.91h0.7M481.79 227.77h0.7M480.47 228.89h0.7M481.03 233.08h0.7M479.92 225.53h0.7M479.94 239.20h0.7M480.35 231.66h0.7M480.36 222.84h0.7M480.73 230.12h0.7M479.83 237.58h0.7" stroke="#1a1a1a" stroke-width="0.75"/>
<path d="M481.77 234.12h1.1M481.30 233.60h1.1M481.31 231.91h1.1M481.64 229.70h1.1M481.37 237.12h1.1M481.47 234.79h1.1M479.97 231.58h1.1M480.09 235.84h1.1M480.66 228.81h1.1" stroke="#e82020" stroke-width="1.1"/>
<text transform="translate(480.80,275.8) rotate(-90)" font-size="8.7" text-anchor="end" fill="#f03a34" stroke="#f03a34" stroke-width="0.15">DMNb</text>
<path d="M492.30 215.66L492.30 215.66L492.20 216.57L492.02 217.47L491.79 218.38L491.52 219.28L491.21 220.19L490.88 221.09L490.54 222.00L490.19 222.90L489.84 223.80L489.49 224.71L489.15 225.61L488.84 226.52L488.54 227.42L488.28 228.33L488.05 229.23L487.85 230.14L487.69 231.04L487.58 231.95L487.51 232.85L487.55 233.75L487.64 234.66L487.78 235.56L487.95 236.47L488.16 237.37L488.40 238.28L488.67 239.18L488.96 240.09L489.28 240.99L489.60 241.89L489.94 242.80L490.28 243.70L490.62 244.61L490.95 245.51L491.26 246.42L491.55 247.32L491.81 248.23L492.04 249.13L492.21 250.04L492.30 250.94L492.30 250.94Z" fill="#d42c2c" stroke="#333" stroke-width="0.45"/>
<path d="M492.30 213.30V252.50" stroke="#2a2a2a" stroke-width="0.65"/>
<path d="M494.83 227.07h0.7M494.14 233.79h0.7M495.59 231.38h0.7M494.03 243.11h0.7M494.68 241.40h0.7M494.27 229.34h0.7M494.60 240.50h0.7M494.81 225.93h0.7M493.69 226.53h0.7M494.54 226.25h0.7M494.03 228.84h0.7M494.87 227.76h0.7M494.59 240.31h0.7M495.08 226.73h0.7M494.08 227.93h0.7M494.45 224.28h0.7M494.87 246.62h0.7M495.08 232.16h0.7M494.32 234.73h0.7M495.06 228.58h0.7M493.51 237.24h0.7M494.36 227.25h0.7M494.44 231.78h0.7" stroke="#1a1a1a" stroke-width="0.75"/>
<path d="M494.18 233.00h1.1M494.41 237.39h1.1M495.75 230.01h1.1M494.47 235.89h1.1" stroke="#e82020" stroke-width="1.1"/>
<text transform="translate(494.60,275.8) rotate(-90)" font-size="8.7" text-anchor="end" fill="#d43030" stroke="#d43030" stroke-width="0.15">DMNc</text>
<path d="M506.30 211.98L506.30 211.98L506.10 213.18L505.82 214.39L505.48 215.59L505.12 216.79L504.72 217.99L504.32 219.19L503.92 220.39L503.52 221.59L503.14 222.79L502.78 223.99L502.44 225.19L502.14 226.40L501.88 227.60L501.88 228.80L502.02 230.00L502.16 231.20L502.31 232.40L502.47 233.60L502.64 234.80L502.82 236.00L503.01 237.20L503.20 238.40L503.40 239.61L503.60 240.81L503.80 242.01L504.01 243.21L504.22 244.41L504.44 245.61L504.64 246.81L504.85 248.01L505.05 249.21L505.25 250.41L505.44 251.61L505.62 252.82L505.80 254.02L505.95 255.22L506.09 256.42L506.21 257.62L506.30 258.82L506.30 258.82Z" fill="#5ae83a" stroke="#333" stroke-width="0.45"/>
<path d="M506.30 209.80V261.50" stroke="#2a2a2a" stroke-width="0.65"/>
<path d="M508.52 229.15h0.7M509.67 230.15h0.7M508.70 228.44h0.7M509.06 241.96h0.7M509.06 228.75h0.7M509.18 225.91h0.7M508.24 213.71h0.7M509.68 220.42h0.7M508.25 230.23h0.7M509.04 235.69h0.7M508.07 227.59h0.7M508.49 222.64h0.7M508.19 230.07h0.7M507.89 231.61h0.7M509.36 218.32h0.7M509.07 239.65h0.7M507.91 239.71h0.7M507.73 245.81h0.7M508.28 241.05h0.7M508.39 248.18h0.7M508.03 229.27h0.7M508.29 219.36h0.7M509.18 235.46h0.7M507.54 221.34h0.7M509.24 218.90h0.7M509.19 215.97h0.7M509.64 226.38h0.7M508.76 235.16h0.7M509.59 220.37h0.7M509.08 216.32h0.7M509.05 234.45h0.7M508.55 234.06h0.7M507.70 236.42h0.7M508.71 235.55h0.7M509.27 232.48h0.7" stroke="#1a1a1a" stroke-width="0.75"/>
<path d="M508.44 229.66h1.1M508.70 232.09h1.1M508.26 228.73h1.1M508.77 230.37h1.1M507.98 228.18h1.1M509.00 224.60h1.1M509.37 227.21h1.1M508.84 233.69h1.1M507.69 231.41h1.1" stroke="#e82020" stroke-width="1.1"/>
<text transform="translate(508.60,275.8) rotate(-90)" font-size="8.7" text-anchor="end" fill="#5ae840" stroke="#5ae840" stroke-width="0.15">DANa</text>
<path d="M520.30 202.85L520.30 202.85L520.11 204.19L519.83 205.53L519.51 206.88L519.15 208.22L518.76 209.56L518.36 210.90L517.96 212.24L517.55 213.59L517.15 214.93L516.76 216.27L516.40 217.61L516.05 218.96L515.74 220.30L515.45 221.64L515.20 222.98L515.35 224.33L515.52 225.67L515.70 227.01L515.89 228.35L516.09 229.70L516.30 231.04L516.53 232.38L516.76 233.72L517.00 235.06L517.24 236.41L517.49 237.75L517.75 239.09L518.00 240.43L518.26 241.78L518.51 243.12L518.76 244.46L519.00 245.80L519.24 247.15L519.46 248.49L519.68 249.83L519.87 251.17L520.05 252.52L520.19 253.86L520.30 255.20L520.30 255.20Z" fill="#44cc2a" stroke="#333" stroke-width="0.45"/>
<path d="M520.30 200.10V258.00" stroke="#2a2a2a" stroke-width="0.65"/>
<path d="M522.06 243.75h0.7M523.45 216.12h0.7M521.71 228.62h0.7M523.20 214.35h0.7M521.54 242.96h0.7M523.57 233.36h0.7M521.55 210.50h0.7M522.71 227.73h0.7M522.56 205.93h0.7M522.43 227.02h0.7M523.09 217.29h0.7M522.09 226.34h0.7M522.40 214.90h0.7M523.46 222.35h0.7M522.39 226.68h0.7M522.17 244.41h0.7M523.68 206.90h0.7M523.65 220.00h0.7M522.11 229.99h0.7M522.04 213.48h0.7M522.10 236.24h0.7M521.76 218.08h0.7M523.48 237.53h0.7M522.05 212.30h0.7M522.95 224.81h0.7M522.70 222.78h0.7M522.38 226.67h0.7M521.96 227.48h0.7M522.10 221.50h0.7M522.16 222.89h0.7M522.90 240.07h0.7M521.58 229.05h0.7M522.00 230.13h0.7M523.50 249.93h0.7M523.33 219.66h0.7M523.06 236.51h0.7M522.78 229.71h0.7M522.11 232.52h0.7M521.94 224.99h0.7M522.68 223.08h0.7M522.62 219.02h0.7M523.66 231.68h0.7M522.24 213.88h0.7M522.56 224.68h0.7" stroke="#1a1a1a" stroke-width="0.75"/>
<path d="M523.71 224.15h1.1M523.59 227.88h1.1M522.44 228.40h1.1M521.82 224.18h1.1M522.16 220.38h1.1M523.42 221.26h1.1M523.52 229.42h1.1" stroke="#e82020" stroke-width="1.1"/>
<text transform="translate(522.60,275.8) rotate(-90)" font-size="8.7" text-anchor="end" fill="#48d038" stroke="#48d038" stroke-width="0.15">DANb</text>
<path d="M534.50 204.12L534.50 204.12L534.33 205.24L534.08 206.36L533.78 207.49L533.46 208.61L533.10 209.74L532.73 210.86L532.35 211.98L531.95 213.11L531.55 214.23L531.16 215.35L530.76 216.48L530.38 217.60L530.01 218.73L529.66 219.85L529.32 220.97L529.01 222.10L528.72 223.22L528.45 224.35L528.21 225.47L528.42 226.59L528.67 227.72L528.95 228.84L529.24 229.97L529.56 231.09L529.89 232.21L530.24 233.34L530.60 234.46L530.97 235.59L531.34 236.71L531.72 237.83L532.10 238.96L532.47 240.08L532.84 241.20L533.19 242.33L533.52 243.45L533.83 244.58L534.10 245.70L534.34 246.82L534.50 247.95L534.50 247.95Z" fill="#c8c8c8" stroke="#333" stroke-width="0.45"/>
<path d="M534.50 201.20V249.90" stroke="#2a2a2a" stroke-width="0.65"/>
<path d="M537.49 220.70h0.7M536.06 232.02h0.7M536.61 236.60h0.7M537.26 227.88h0.7M535.83 227.50h0.7M537.52 223.62h0.7M537.99 231.04h0.7M537.94 236.00h0.7M535.88 232.10h0.7M536.25 230.07h0.7M536.39 222.19h0.7M537.29 223.30h0.7M537.05 232.42h0.7M536.48 231.18h0.7M535.98 222.57h0.7M537.32 219.28h0.7M536.85 238.74h0.7M537.42 221.34h0.7M536.95 229.04h0.7M537.09 236.43h0.7M537.42 215.76h0.7M536.18 231.42h0.7M537.29 222.77h0.7M536.20 228.53h0.7M537.47 214.14h0.7M537.34 222.62h0.7M536.72 223.68h0.7M537.87 222.22h0.7M537.99 217.10h0.7M537.43 216.02h0.7M537.56 229.22h0.7M537.80 232.30h0.7M537.69 230.93h0.7" stroke="#1a1a1a" stroke-width="0.75"/>
<path d="M537.16 224.54h1.1M536.28 229.53h1.1M537.13 226.04h1.1M536.25 226.77h1.1M537.31 227.87h1.1" stroke="#e82020" stroke-width="1.1"/>
<text transform="translate(536.80,275.8) rotate(-90)" font-size="8.7" text-anchor="end" fill="#d0d0d0" stroke="#d0d0d0" stroke-width="0.15">Lim</text>
<path d="M548.00 214.59L548.00 214.59L547.81 215.81L547.53 217.03L547.20 218.26L546.84 219.48L546.45 220.70L546.04 221.92L545.63 223.14L545.21 224.36L544.80 225.58L544.40 226.80L544.02 228.02L543.66 229.24L543.32 230.47L543.02 231.69L542.74 232.91L542.67 234.13L542.84 235.35L543.03 236.57L543.23 237.79L543.44 239.01L543.67 240.23L543.91 241.45L544.16 242.68L544.41 243.90L544.68 245.12L544.95 246.34L545.22 247.56L545.50 248.78L545.77 250.00L546.05 251.22L546.32 252.44L546.59 253.66L546.84 254.89L547.09 256.11L547.32 257.33L547.53 258.55L547.72 259.77L547.89 260.99L548.00 262.21L548.00 262.21Z" fill="#70e0d0" stroke="#333" stroke-width="0.45"/>
<path d="M548.00 212.00V264.70" stroke="#2a2a2a" stroke-width="0.65"/>
<path d="M550.45 222.70h0.7M551.35 226.01h0.7M550.92 232.15h0.7M549.48 250.99h0.7M550.54 234.17h0.7M549.71 238.70h0.7M549.78 235.78h0.7M549.31 226.30h0.7M549.54 238.07h0.7M550.87 238.69h0.7M550.07 233.22h0.7M549.77 245.63h0.7M550.46 232.45h0.7M551.24 226.52h0.7M550.75 240.63h0.7M550.17 230.65h0.7M549.38 232.63h0.7M550.13 232.63h0.7M549.32 249.27h0.7M550.98 226.97h0.7M549.75 242.73h0.7M549.66 247.09h0.7M549.47 225.98h0.7M549.27 243.37h0.7M549.80 235.70h0.7M550.75 241.13h0.7M550.21 218.28h0.7M550.21 242.61h0.7M550.78 232.20h0.7M549.73 226.97h0.7M550.08 238.61h0.7M550.97 231.12h0.7M549.90 216.50h0.7M551.26 230.65h0.7M550.29 219.86h0.7M551.05 239.96h0.7M549.37 236.30h0.7M551.31 218.29h0.7M549.61 246.90h0.7M550.22 233.68h0.7M549.66 225.38h0.7M551.49 229.09h0.7" stroke="#1a1a1a" stroke-width="0.75"/>
<path d="M549.99 233.81h1.1M550.78 236.37h1.1M551.12 238.41h1.1M550.70 230.16h1.1M550.66 232.34h1.1M549.79 239.46h1.1M550.11 229.00h1.1M549.38 234.15h1.1" stroke="#e82020" stroke-width="1.1"/>
<text transform="translate(550.30,275.8) rotate(-90)" font-size="8.7" text-anchor="end" fill="#78e0cc" stroke="#78e0cc" stroke-width="0.15">Sal/VANa</text>
<path d="M561.50 216.49L561.50 216.49L561.32 217.27L561.07 218.05L560.77 218.83L560.44 219.62L560.09 220.40L559.72 221.18L559.33 221.96L558.95 222.74L558.56 223.53L558.18 224.31L557.82 225.09L557.46 225.87L557.13 226.65L556.82 227.44L556.54 228.22L556.28 229.00L556.14 229.78L556.32 230.56L556.51 231.35L556.72 232.13L556.95 232.91L557.19 233.69L557.44 234.48L557.70 235.26L557.98 236.04L558.26 236.82L558.54 237.60L558.83 238.39L559.13 239.17L559.42 239.95L559.70 240.73L559.99 241.51L560.26 242.30L560.52 243.08L560.77 243.86L561.00 244.64L561.20 245.42L561.38 246.21L561.50 246.99L561.50 246.99Z" fill="#30786a" stroke="#333" stroke-width="0.45"/>
<path d="M561.50 214.70V248.50" stroke="#2a2a2a" stroke-width="0.65"/>
<path d="M563.27 227.49h0.7M564.19 234.81h0.7M563.81 238.54h0.7M562.97 236.26h0.7M563.43 221.01h0.7M563.41 223.25h0.7M563.94 236.77h0.7M562.76 223.88h0.7M563.08 230.55h0.7M564.86 227.98h0.7M564.33 234.51h0.7M563.37 227.01h0.7M563.21 221.64h0.7M563.77 222.97h0.7M563.35 223.21h0.7M564.82 237.54h0.7M564.81 235.90h0.7M563.36 234.22h0.7M562.83 237.34h0.7" stroke="#1a1a1a" stroke-width="0.75"/>
<path d="M562.72 231.38h1.1M562.77 233.20h1.1" stroke="#e82020" stroke-width="1.1"/>
<text transform="translate(563.80,275.8) rotate(-90)" font-size="8.7" text-anchor="end" fill="#3a7e6c" stroke="#3a7e6c" stroke-width="0.15">Sal/VANb</text>
<path d="M575.00 197.08L575.00 197.08L574.83 198.40L574.52 199.71L574.12 201.03L573.65 202.34L573.15 203.66L572.63 204.97L572.10 206.29L571.59 207.60L571.11 208.92L570.67 210.23L570.30 211.55L570.00 212.87L569.77 214.18L569.63 215.50L569.63 216.81L569.70 218.13L569.80 219.44L569.93 220.76L570.08 222.07L570.27 223.39L570.47 224.71L570.70 226.02L570.95 227.34L571.22 228.65L571.50 229.97L571.79 231.28L572.09 232.60L572.40 233.91L572.71 235.23L573.02 236.54L573.32 237.86L573.61 239.18L573.89 240.49L574.15 241.81L574.39 243.12L574.61 244.44L574.79 245.75L574.92 247.07L575.00 248.38L575.00 248.38Z" fill="#66f0f0" stroke="#333" stroke-width="0.45"/>
<path d="M575.00 194.50V251.20" stroke="#2a2a2a" stroke-width="0.65"/>
<path d="M577.97 206.52h0.7M578.19 231.85h0.7M577.26 228.49h0.7M576.22 211.73h0.7M577.64 219.72h0.7M577.57 211.28h0.7M577.24 219.47h0.7M577.39 205.51h0.7M578.28 228.38h0.7M577.74 220.95h0.7M577.30 219.20h0.7M578.43 223.11h0.7M577.80 232.18h0.7M576.66 207.60h0.7M577.08 219.30h0.7M578.03 221.41h0.7M577.71 215.64h0.7M576.99 204.12h0.7M578.13 218.12h0.7M578.09 211.69h0.7M576.57 211.13h0.7M577.62 217.34h0.7M576.78 223.26h0.7M577.56 211.86h0.7M577.01 214.78h0.7M576.44 223.81h0.7M578.09 239.89h0.7M576.96 218.09h0.7M577.18 208.24h0.7M577.46 212.23h0.7M577.60 214.23h0.7M576.43 215.17h0.7M576.48 209.10h0.7M577.15 219.11h0.7M576.94 212.13h0.7M576.45 213.62h0.7M578.09 215.88h0.7M576.50 199.30h0.7M577.12 211.24h0.7M577.39 221.56h0.7M577.53 205.37h0.7M576.36 226.56h0.7M576.99 213.28h0.7M576.64 200.41h0.7M576.39 206.15h0.7M578.29 216.64h0.7M577.23 228.73h0.7M577.72 225.64h0.7M577.83 221.13h0.7M577.90 229.91h0.7M578.31 228.51h0.7M578.48 218.84h0.7M577.49 222.38h0.7" stroke="#1a1a1a" stroke-width="0.75"/>
<path d="M577.85 217.86h1.1M576.44 209.53h1.1M577.49 219.18h1.1M577.48 210.51h1.1M576.71 209.90h1.1M576.51 211.82h1.1M576.25 217.49h1.1M577.65 218.09h1.1M578.08 212.43h1.1M577.43 211.86h1.1M577.82 221.13h1.1M577.76 221.47h1.1M578.49 219.50h1.1M577.04 218.01h1.1M576.36 214.79h1.1M578.08 212.09h1.1" stroke="#e82020" stroke-width="1.1"/>
<text transform="translate(577.30,275.8) rotate(-90)" font-size="8.7" text-anchor="end" fill="#70eeee" stroke="#70eeee" stroke-width="0.15">SMNa</text>
<path d="M589.30 197.90L589.30 197.90L589.19 199.20L588.98 200.51L588.72 201.82L588.41 203.13L588.06 204.44L587.69 205.75L587.30 207.06L586.90 208.36L586.50 209.67L586.11 210.98L585.73 212.29L585.38 213.60L585.05 214.91L584.75 216.22L584.49 217.52L584.27 218.83L584.10 220.14L583.98 221.45L583.90 222.76L583.97 224.07L584.08 225.37L584.23 226.68L584.43 227.99L584.67 229.30L584.94 230.61L585.24 231.92L585.57 233.23L585.92 234.53L586.29 235.84L586.67 237.15L587.05 238.46L587.43 239.77L587.80 241.08L588.15 242.39L588.47 243.69L588.76 245.00L589.01 246.31L589.20 247.62L589.30 248.93L589.30 248.93Z" fill="#70e0d8" stroke="#333" stroke-width="0.45"/>
<path d="M589.30 194.50V251.20" stroke="#2a2a2a" stroke-width="0.65"/>
<path d="M592.39 207.88h0.7M591.24 248.65h0.7M590.65 209.33h0.7M591.16 222.40h0.7M591.67 238.67h0.7M591.23 229.21h0.7M590.53 223.49h0.7M592.80 214.01h0.7M591.98 220.99h0.7M592.78 203.87h0.7M592.29 215.09h0.7M592.54 238.00h0.7M592.77 216.23h0.7M592.16 207.50h0.7M592.43 211.79h0.7M590.59 208.41h0.7M590.95 214.36h0.7M592.38 234.00h0.7M590.54 223.85h0.7M591.68 241.64h0.7M590.86 219.03h0.7M591.54 215.22h0.7M592.65 230.20h0.7M592.59 221.39h0.7M591.59 231.94h0.7M590.53 224.87h0.7M591.76 224.75h0.7M592.46 233.40h0.7M591.45 226.20h0.7M591.13 225.34h0.7M592.41 210.29h0.7M591.72 212.57h0.7M591.93 229.58h0.7M592.35 218.02h0.7M590.77 231.75h0.7M590.94 220.90h0.7M591.30 204.41h0.7M590.92 224.02h0.7M592.65 215.30h0.7M592.48 232.72h0.7M590.82 200.24h0.7M591.61 208.55h0.7M590.89 228.52h0.7M591.77 216.46h0.7M590.66 218.97h0.7M591.55 236.89h0.7M591.81 215.91h0.7M590.70 228.69h0.7M592.35 233.34h0.7M590.88 207.70h0.7M592.31 229.87h0.7M591.58 211.39h0.7M591.79 225.08h0.7" stroke="#1a1a1a" stroke-width="0.75"/>
<path d="M591.09 220.89h1.1M592.57 217.43h1.1M592.60 221.54h1.1M591.16 222.07h1.1M590.99 224.64h1.1M592.28 223.23h1.1M592.14 223.29h1.1" stroke="#e82020" stroke-width="1.1"/>
<text transform="translate(591.60,275.8) rotate(-90)" font-size="8.7" text-anchor="end" fill="#70dccc" stroke="#70dccc" stroke-width="0.15">SMNb</text>
<path d="M602.60 199.04L602.60 199.04L602.49 200.26L602.30 201.47L602.04 202.69L601.74 203.90L601.41 205.12L601.05 206.33L600.67 207.55L600.29 208.76L599.90 209.98L599.51 211.19L599.14 212.41L598.79 213.63L598.46 214.84L598.15 216.06L597.89 217.27L597.66 218.49L597.47 219.70L597.33 220.92L597.23 222.13L597.23 223.35L597.32 224.57L597.46 225.78L597.64 227.00L597.87 228.21L598.14 229.43L598.44 230.64L598.77 231.86L599.12 233.07L599.49 234.29L599.88 235.50L600.27 236.72L600.66 237.94L601.04 239.15L601.40 240.37L601.74 241.58L602.04 242.80L602.29 244.01L602.49 245.23L602.60 246.44L602.60 246.44Z" fill="#f07cf0" stroke="#333" stroke-width="0.45"/>
<path d="M602.60 195.80V248.50" stroke="#2a2a2a" stroke-width="0.65"/>
<path d="M606.02 219.24h0.7M604.29 210.77h0.7M605.11 235.58h0.7M604.36 232.82h0.7M604.13 218.48h0.7M605.88 221.04h0.7M604.60 222.15h0.7M605.22 234.23h0.7M604.06 222.46h0.7M603.97 222.81h0.7M604.63 225.81h0.7M604.46 231.49h0.7M604.14 227.83h0.7M606.03 225.67h0.7M603.90 229.75h0.7M605.12 226.36h0.7M604.81 232.49h0.7M605.66 212.77h0.7M604.38 226.66h0.7M605.89 232.07h0.7M606.03 233.95h0.7M604.29 207.25h0.7M604.42 230.63h0.7M605.26 232.35h0.7M604.01 213.01h0.7M605.39 237.11h0.7M604.55 233.47h0.7M604.15 200.51h0.7M604.04 209.84h0.7M604.91 235.09h0.7M605.37 224.34h0.7" stroke="#1a1a1a" stroke-width="0.75"/>
<path d="M603.84 224.78h1.1M604.48 228.10h1.1M605.39 221.79h1.1M603.85 221.96h1.1M604.39 223.53h1.1M605.90 222.16h1.1M605.56 218.62h1.1M604.84 224.83h1.1" stroke="#e82020" stroke-width="1.1"/>
<text transform="translate(604.90,275.8) rotate(-90)" font-size="8.7" text-anchor="end" fill="#f070f0" stroke="#f070f0" stroke-width="0.15">TP</text>
<path d="M616.90 202.17L616.90 202.17L616.74 203.33L616.46 204.49L616.10 205.65L615.67 206.81L615.21 207.97L614.74 209.13L614.26 210.29L613.79 211.45L613.36 212.61L612.96 213.77L612.62 214.93L612.35 216.09L612.15 217.25L612.02 218.41L612.03 219.57L612.09 220.73L612.19 221.89L612.30 223.05L612.45 224.21L612.61 225.37L612.80 226.53L613.01 227.69L613.23 228.85L613.47 230.01L613.73 231.17L613.99 232.33L614.27 233.49L614.55 234.65L614.83 235.81L615.10 236.97L615.38 238.13L615.64 239.29L615.90 240.45L616.13 241.61L616.35 242.77L616.54 243.93L616.71 245.09L616.83 246.25L616.90 247.41L616.90 247.41Z" fill="#3c78f0" stroke="#333" stroke-width="0.45"/>
<path d="M616.90 199.90V249.90" stroke="#2a2a2a" stroke-width="0.65"/>
<path d="M618.17 214.92h0.7M619.78 217.72h0.7M618.32 219.78h0.7M619.71 211.08h0.7M618.17 234.11h0.7M620.20 224.77h0.7M618.36 230.44h0.7M619.80 226.56h0.7M619.61 241.53h0.7M619.32 225.03h0.7M619.85 236.37h0.7M618.70 228.41h0.7M618.22 225.45h0.7M619.28 213.75h0.7M618.12 217.27h0.7M619.75 211.83h0.7M619.25 224.07h0.7M618.15 208.22h0.7M618.33 224.27h0.7M619.90 233.01h0.7M619.87 209.77h0.7M619.16 219.62h0.7M619.41 223.37h0.7M618.88 221.93h0.7M618.79 224.78h0.7M618.39 213.17h0.7M619.28 228.21h0.7M619.80 232.59h0.7M619.43 219.23h0.7M618.41 221.62h0.7M619.98 229.09h0.7M618.44 221.50h0.7M619.66 205.80h0.7" stroke="#1a1a1a" stroke-width="0.75"/>
<path d="M619.42 216.87h1.1M618.60 220.10h1.1M618.69 220.71h1.1M619.32 219.00h1.1M620.17 220.09h1.1M619.59 224.44h1.1M619.76 221.38h1.1M618.20 222.50h1.1M619.32 220.76h1.1M618.41 215.72h1.1M620.38 217.14h1.1" stroke="#e82020" stroke-width="1.1"/>
<text transform="translate(619.20,275.8) rotate(-90)" font-size="8.7" text-anchor="end" fill="#4070ec" stroke="#4070ec" stroke-width="0.15">VisCent</text>
<path d="M630.40 208.54L630.40 208.54L630.28 209.39L630.06 210.23L629.77 211.08L629.43 211.92L629.06 212.77L628.67 213.61L628.26 214.45L627.85 215.30L627.45 216.14L627.07 216.99L626.72 217.83L626.39 218.68L626.11 219.52L625.88 220.37L625.69 221.21L625.57 222.05L625.50 222.90L625.56 223.74L625.66 224.59L625.78 225.43L625.93 226.28L626.12 227.12L626.33 227.97L626.57 228.81L626.82 229.65L627.10 230.50L627.39 231.34L627.69 232.19L628.00 233.03L628.32 233.88L628.63 234.72L628.93 235.57L629.22 236.41L629.50 237.25L629.75 238.10L629.98 238.94L630.17 239.79L630.32 240.63L630.40 241.48L630.40 241.48Z" fill="#1c28a0" stroke="#333" stroke-width="0.45"/>
<path d="M630.40 206.60V243.10" stroke="#2a2a2a" stroke-width="0.65"/>
<path d="M632.14 238.93h0.7M632.87 223.42h0.7M632.68 214.54h0.7M633.71 220.24h0.7M632.43 216.48h0.7M632.36 225.50h0.7M633.24 226.02h0.7M632.92 213.97h0.7M632.86 225.12h0.7M631.95 229.96h0.7M633.78 223.65h0.7M633.65 211.24h0.7M633.69 213.38h0.7M632.50 229.33h0.7M631.74 227.84h0.7M632.33 218.96h0.7M632.69 225.86h0.7M633.64 223.86h0.7M633.67 220.72h0.7M632.66 220.12h0.7M633.64 219.90h0.7M632.65 225.11h0.7M633.46 223.98h0.7M632.28 226.84h0.7" stroke="#1a1a1a" stroke-width="0.75"/>
<path d="M633.49 221.73h1.1M632.10 224.54h1.1M632.81 222.67h1.1M632.31 223.13h1.1M632.54 225.10h1.1M633.46 224.82h1.1" stroke="#e82020" stroke-width="1.1"/>
<text transform="translate(632.70,275.8) rotate(-90)" font-size="8.7" text-anchor="end" fill="#2030a8" stroke="#2030a8" stroke-width="0.15">VisPeri</text>
<path d="M661.50 206.72L661.50 206.72L661.35 208.10L661.06 209.48L660.70 210.86L660.27 212.24L659.80 213.62L659.30 215.00L658.78 216.39L658.26 217.77L657.74 219.15L657.25 220.53L656.78 221.91L656.36 223.29L655.99 224.68L655.67 226.06L655.42 227.44L655.23 228.82L655.12 230.20L655.15 231.58L655.26 232.96L655.41 234.35L655.61 235.73L655.84 237.11L656.11 238.49L656.42 239.87L656.76 241.25L657.12 242.64L657.50 244.02L657.90 245.40L658.31 246.78L658.72 248.16L659.13 249.54L659.54 250.93L659.93 252.31L660.30 253.69L660.64 255.07L660.94 256.45L661.19 257.83L661.39 259.21L661.50 260.60L661.50 260.60Z" fill="#555555" stroke="#333" stroke-width="0.45"/>
<path d="M661.50 195.00V264.70" stroke="#2a2a2a" stroke-width="0.65"/>
<path d="M665.57 222.88h0.7M664.31 230.13h0.7M662.96 230.23h0.7M663.64 234.02h0.7M665.33 229.37h0.7M663.35 237.54h0.7M663.19 236.85h0.7M663.88 241.89h0.7M664.19 262.52h0.7M664.14 214.42h0.7M665.98 245.90h0.7M665.89 217.21h0.7M664.88 231.18h0.7M663.62 236.27h0.7M666.10 245.20h0.7M665.02 243.02h0.7M664.95 225.83h0.7M664.58 228.17h0.7M664.77 225.23h0.7M665.38 223.98h0.7M665.84 221.85h0.7M665.44 221.12h0.7M666.06 219.01h0.7M665.47 234.51h0.7M662.96 234.67h0.7M664.22 242.10h0.7M663.18 227.29h0.7M665.99 216.38h0.7M665.38 229.90h0.7M663.50 249.39h0.7M665.12 233.40h0.7M665.45 234.39h0.7M663.00 228.46h0.7M664.71 261.21h0.7M665.23 227.34h0.7M664.28 229.75h0.7M662.99 244.29h0.7M664.65 244.29h0.7M664.04 209.08h0.7M664.95 217.32h0.7M664.37 216.29h0.7M665.18 253.58h0.7M664.28 234.24h0.7M665.93 226.57h0.7M665.98 237.49h0.7M663.61 225.20h0.7M664.29 231.87h0.7M664.66 228.55h0.7M664.98 240.91h0.7M663.25 243.66h0.7M664.68 228.98h0.7M663.04 241.50h0.7M665.75 214.00h0.7M664.95 235.09h0.7M664.78 220.30h0.7M664.60 228.45h0.7M664.59 220.93h0.7M664.05 239.28h0.7M664.87 220.56h0.7M664.86 250.07h0.7M665.18 219.64h0.7M663.28 224.30h0.7M665.49 232.81h0.7M663.20 232.54h0.7M663.96 219.13h0.7M664.37 249.19h0.7M663.54 224.29h0.7M663.65 236.07h0.7M665.06 238.42h0.7M664.96 242.74h0.7M663.16 240.29h0.7M663.97 234.16h0.7M662.72 205.49h0.7M665.15 235.26h0.7M664.72 245.93h0.7M662.86 222.64h0.7M664.74 232.31h0.7M663.82 227.96h0.7M663.36 227.07h0.7M664.03 236.53h0.7M662.77 221.76h0.7M664.32 207.34h0.7M663.61 226.08h0.7M665.39 224.66h0.7M666.05 225.34h0.7M664.81 227.00h0.7M662.86 235.87h0.7M663.58 223.72h0.7M662.77 233.43h0.7M665.33 247.07h0.7M665.23 226.76h0.7M665.18 230.80h0.7M664.67 256.79h0.7M665.94 240.21h0.7M663.94 210.60h0.7M663.23 231.49h0.7M665.13 242.90h0.7M663.68 243.33h0.7M664.84 233.58h0.7M663.86 241.90h0.7M664.66 237.50h0.7M665.87 233.81h0.7M663.53 221.52h0.7M664.26 233.50h0.7M663.34 225.44h0.7M664.34 226.86h0.7M664.58 231.44h0.7M665.56 230.88h0.7M662.94 219.23h0.7M665.58 221.70h0.7M663.97 206.96h0.7M665.74 229.66h0.7M663.60 253.26h0.7M663.00 229.13h0.7M664.79 235.07h0.7M664.94 224.04h0.7M663.13 239.86h0.7M663.23 242.04h0.7M662.82 226.36h0.7M665.12 233.66h0.7M665.86 234.68h0.7M664.80 225.07h0.7M662.88 215.25h0.7M663.87 221.38h0.7M665.51 232.55h0.7M665.94 241.08h0.7M663.51 230.12h0.7M663.99 233.01h0.7M664.47 240.17h0.7M663.08 238.00h0.7M665.79 235.62h0.7M664.59 223.93h0.7M664.10 230.87h0.7M665.69 231.76h0.7M663.23 222.48h0.7M665.47 244.36h0.7M663.73 232.02h0.7M665.11 225.23h0.7M664.64 230.19h0.7M665.28 216.58h0.7M665.24 249.02h0.7M664.16 234.97h0.7M663.92 224.56h0.7M663.31 233.54h0.7M665.30 213.82h0.7M665.90 237.00h0.7M662.73 239.11h0.7M663.99 234.42h0.7M665.81 240.91h0.7M664.65 217.65h0.7M664.43 249.81h0.7M663.76 225.72h0.7M665.50 224.98h0.7M665.03 241.36h0.7M664.67 242.66h0.7M665.83 256.00h0.7M663.62 226.06h0.7M664.45 224.43h0.7M665.68 244.29h0.7M663.05 241.22h0.7M664.99 229.10h0.7M664.73 231.52h0.7M663.10 229.90h0.7M665.40 222.52h0.7M665.48 228.38h0.7M665.98 241.58h0.7M664.52 233.81h0.7M662.70 237.41h0.7M665.30 242.19h0.7M665.66 236.26h0.7M664.34 246.72h0.7M665.57 231.56h0.7M664.51 219.74h0.7M665.40 231.94h0.7M664.07 249.31h0.7M665.07 242.73h0.7M664.77 235.70h0.7M665.14 238.38h0.7M663.68 215.70h0.7M663.78 244.27h0.7M665.66 223.37h0.7M664.34 238.01h0.7M663.50 232.06h0.7M662.87 214.48h0.7M663.03 213.29h0.7M666.00 228.67h0.7M663.36 219.72h0.7M664.22 207.13h0.7M664.37 206.80h0.7M664.68 212.64h0.7M665.45 229.58h0.7M665.71 226.11h0.7M665.10 249.05h0.7M666.00 239.52h0.7M664.57 259.47h0.7M665.66 217.53h0.7M664.67 230.96h0.7M663.37 232.17h0.7M664.48 239.59h0.7M664.75 238.77h0.7M665.99 243.60h0.7M665.64 232.31h0.7M663.12 211.79h0.7M664.81 233.69h0.7M665.55 247.03h0.7M664.02 230.47h0.7M663.49 223.50h0.7M663.33 238.78h0.7M665.37 221.20h0.7M662.90 241.43h0.7M664.05 249.61h0.7M664.64 246.44h0.7M665.96 238.74h0.7M665.31 235.83h0.7M663.83 248.49h0.7M662.79 234.35h0.7M663.93 231.88h0.7M665.94 243.14h0.7M664.60 252.32h0.7M665.26 236.81h0.7M664.63 223.87h0.7M664.92 227.13h0.7M663.03 215.87h0.7M665.52 226.27h0.7M665.45 231.15h0.7M665.81 233.80h0.7M664.02 218.66h0.7M665.71 217.37h0.7M664.87 222.91h0.7M665.49 238.62h0.7M664.38 216.54h0.7M664.83 208.11h0.7M664.59 216.90h0.7M664.38 237.82h0.7M665.71 237.47h0.7M662.76 242.88h0.7M665.32 222.80h0.7M664.79 239.42h0.7M665.63 220.18h0.7M663.53 243.34h0.7M663.64 233.21h0.7M665.72 236.87h0.7M664.27 254.76h0.7M664.00 227.56h0.7M665.23 231.50h0.7M665.33 227.76h0.7M664.34 218.77h0.7M665.51 228.39h0.7M665.47 221.23h0.7M664.23 214.42h0.7M665.58 229.09h0.7M665.38 230.08h0.7M663.42 236.93h0.7M664.99 216.40h0.7M665.78 241.46h0.7M664.47 228.38h0.7M664.42 225.80h0.7M664.20 230.30h0.7M663.36 223.14h0.7M663.48 233.40h0.7M665.15 227.28h0.7M664.88 225.68h0.7M666.03 227.77h0.7M665.69 229.43h0.7M664.76 246.95h0.7M663.90 221.15h0.7M663.23 231.76h0.7M665.92 226.64h0.7M663.68 232.96h0.7M663.82 217.72h0.7M665.41 212.78h0.7M662.81 224.80h0.7M664.13 228.15h0.7M665.49 239.75h0.7M665.04 240.92h0.7M664.54 237.72h0.7M665.35 250.30h0.7M665.49 235.78h0.7M665.34 216.23h0.7M664.57 232.98h0.7M664.11 236.99h0.7M666.05 238.48h0.7M664.00 221.04h0.7M664.26 254.96h0.7M665.81 236.95h0.7M663.75 229.20h0.7M663.48 214.90h0.7M665.54 229.59h0.7M662.76 221.99h0.7M663.29 218.07h0.7M664.11 233.79h0.7M664.00 217.70h0.7M663.62 208.35h0.7M664.98 244.33h0.7M664.05 226.98h0.7M665.94 221.21h0.7M662.88 234.05h0.7M665.46 233.59h0.7M664.09 248.59h0.7M665.65 215.83h0.7M663.83 218.93h0.7M664.90 226.02h0.7M666.05 219.29h0.7M665.30 225.01h0.7M663.73 226.98h0.7M663.28 224.33h0.7M665.01 220.06h0.7M663.52 223.56h0.7M665.39 233.16h0.7M662.87 226.68h0.7M663.31 247.46h0.7M665.97 231.95h0.7M664.46 251.36h0.7M664.09 222.74h0.7M663.27 228.67h0.7M664.17 247.94h0.7M662.86 232.39h0.7M662.86 213.10h0.7M665.23 219.11h0.7M665.09 230.20h0.7M664.58 249.14h0.7M663.84 246.05h0.7M665.51 232.69h0.7M663.37 231.18h0.7M664.86 203.03h0.7M665.71 214.08h0.7M663.40 218.09h0.7M665.06 229.21h0.7M665.28 233.82h0.7M663.55 250.50h0.7M662.96 226.74h0.7M664.56 223.04h0.7M665.93 221.13h0.7M664.15 236.88h0.7M664.40 233.95h0.7M664.96 241.70h0.7M662.80 227.22h0.7M665.04 233.23h0.7M665.52 212.68h0.7M663.28 231.93h0.7M665.94 211.74h0.7M665.22 231.13h0.7M664.79 229.24h0.7M664.83 227.72h0.7M663.45 225.89h0.7M665.53 217.85h0.7M663.43 240.39h0.7M663.18 229.76h0.7M665.52 228.37h0.7" stroke="#1a1a1a" stroke-width="0.75"/>
<path d="M665.27 235.10h1.1M665.94 233.65h1.1M662.78 228.15h1.1M666.10 224.62h1.1M664.20 222.50h1.1M663.27 232.47h1.1M665.02 236.71h1.1M663.75 229.65h1.1M665.39 236.62h1.1M663.53 225.07h1.1M663.97 224.58h1.1M664.13 228.31h1.1M662.88 234.63h1.1M664.45 226.13h1.1M665.02 225.02h1.1M663.96 227.31h1.1M663.39 225.48h1.1M664.86 233.02h1.1M663.62 228.31h1.1M662.94 228.25h1.1M665.99 233.51h1.1M664.15 225.49h1.1M665.40 227.50h1.1M665.53 231.34h1.1M663.97 228.25h1.1M665.87 227.46h1.1M664.82 223.74h1.1M663.30 237.56h1.1M663.23 236.53h1.1M664.91 233.60h1.1M665.33 231.86h1.1M665.69 222.73h1.1M663.04 228.96h1.1M662.71 234.15h1.1M665.47 223.47h1.1M665.78 232.58h1.1M663.79 224.29h1.1M665.87 228.01h1.1M664.71 227.80h1.1M662.83 231.09h1.1M664.20 231.25h1.1M663.96 233.23h1.1M665.78 228.72h1.1M663.12 223.83h1.1M666.06 227.29h1.1M664.02 236.99h1.1M663.36 234.61h1.1M662.81 226.85h1.1M663.32 226.54h1.1M663.09 236.89h1.1M666.05 229.10h1.1M664.88 236.68h1.1M665.25 238.39h1.1M665.17 231.62h1.1M663.41 225.87h1.1M663.29 222.77h1.1M663.18 226.08h1.1M663.98 228.83h1.1M664.87 234.18h1.1M663.20 235.09h1.1M663.14 234.00h1.1M665.52 236.01h1.1M666.03 232.06h1.1M665.29 230.32h1.1M664.42 231.51h1.1M664.94 234.93h1.1M664.53 230.22h1.1M665.86 233.81h1.1M664.33 222.48h1.1M664.91 225.58h1.1" stroke="#e82020" stroke-width="1.1"/>
<text transform="translate(663.80,275.8) rotate(-90)" font-size="8.7" text-anchor="end" fill="#3c3c3c" stroke="#3c3c3c" stroke-width="0.15">Hetero.</text>
<path d="M674.90 202.12L674.90 202.12L674.72 203.27L674.39 204.42L673.97 205.57L673.47 206.72L672.94 207.87L672.38 209.02L671.81 210.17L671.26 211.32L670.74 212.47L670.26 213.62L669.85 214.77L669.51 215.92L669.24 217.07L669.07 218.22L669.02 219.37L669.08 220.52L669.19 221.67L669.32 222.82L669.49 223.97L669.68 225.13L669.90 226.28L670.15 227.43L670.42 228.58L670.71 229.73L671.02 230.88L671.34 232.03L671.68 233.18L672.01 234.33L672.36 235.48L672.70 236.63L673.03 237.78L673.36 238.93L673.67 240.08L673.96 241.23L674.22 242.38L674.46 243.53L674.66 244.68L674.81 245.83L674.90 246.98L674.90 246.98Z" fill="#bbbbbb" stroke="#333" stroke-width="0.45"/>
<path d="M674.90 193.80V250.80" stroke="#2a2a2a" stroke-width="0.65"/>
<path d="M679.13 227.16h0.7M678.44 211.57h0.7M678.39 209.87h0.7M676.36 225.94h0.7M678.81 211.18h0.7M678.61 217.92h0.7M678.10 209.90h0.7M677.26 206.57h0.7M678.00 221.73h0.7M679.02 218.02h0.7M677.58 212.28h0.7M679.45 213.20h0.7M678.04 219.66h0.7M678.07 209.01h0.7M677.64 214.35h0.7M677.13 221.30h0.7M676.66 207.04h0.7M678.44 213.95h0.7M677.11 213.55h0.7M679.06 219.84h0.7M677.10 229.62h0.7M677.44 209.55h0.7M678.07 203.07h0.7M679.02 222.91h0.7M677.85 195.83h0.7M678.10 214.97h0.7M677.23 211.32h0.7M676.57 213.76h0.7M678.28 222.01h0.7M678.62 215.49h0.7M678.00 226.09h0.7M678.88 211.28h0.7M676.81 223.61h0.7M678.69 220.34h0.7M677.36 215.46h0.7M676.56 221.65h0.7M677.62 215.01h0.7M679.38 228.38h0.7M676.41 219.24h0.7M677.24 228.50h0.7M678.26 209.17h0.7M677.73 223.38h0.7M676.39 216.16h0.7M676.78 212.01h0.7M677.03 221.41h0.7M678.69 218.73h0.7M676.30 225.71h0.7M677.06 217.19h0.7M679.46 208.23h0.7M677.97 213.95h0.7M676.42 216.67h0.7M676.13 241.52h0.7M679.33 220.25h0.7M678.36 210.41h0.7M676.74 207.64h0.7M677.84 201.13h0.7M676.64 229.86h0.7M677.59 228.84h0.7M677.88 231.99h0.7M679.24 220.31h0.7M679.23 222.24h0.7M676.79 230.10h0.7M679.04 217.06h0.7M677.55 233.95h0.7M677.05 215.51h0.7M677.10 217.99h0.7M678.78 224.32h0.7M677.22 224.87h0.7M676.41 226.29h0.7M676.49 232.63h0.7M677.42 226.79h0.7M676.45 211.95h0.7M678.37 219.51h0.7M677.05 217.81h0.7M678.33 216.55h0.7M679.50 211.97h0.7M679.43 225.42h0.7M678.01 231.96h0.7M676.75 218.13h0.7M677.20 227.83h0.7M677.47 232.01h0.7M677.09 211.48h0.7M678.44 207.27h0.7M678.55 231.78h0.7M678.01 219.80h0.7M677.46 216.70h0.7M679.06 212.03h0.7M678.17 217.36h0.7M677.89 230.04h0.7M677.72 225.24h0.7M678.66 217.71h0.7M678.92 203.57h0.7M678.86 223.50h0.7M678.93 220.87h0.7M678.28 230.81h0.7M676.76 226.60h0.7M677.37 221.54h0.7M677.51 215.31h0.7M677.31 210.93h0.7M679.23 211.14h0.7M677.35 219.39h0.7M676.40 228.41h0.7M677.59 205.90h0.7M678.71 226.74h0.7M676.52 217.40h0.7M676.95 217.66h0.7M678.78 209.10h0.7M676.72 220.52h0.7M677.44 219.31h0.7M678.53 224.99h0.7M677.95 212.47h0.7M678.39 210.77h0.7M676.10 201.88h0.7M678.36 213.43h0.7M678.56 210.47h0.7M679.06 212.31h0.7M676.45 217.44h0.7M678.23 213.20h0.7M677.48 222.35h0.7M677.06 218.08h0.7M678.91 229.09h0.7M677.00 218.78h0.7M678.41 204.66h0.7M679.23 202.40h0.7M678.64 216.38h0.7M679.11 220.01h0.7M679.48 220.15h0.7M679.12 215.07h0.7M678.32 211.14h0.7M677.47 209.45h0.7M677.68 224.38h0.7M676.11 215.43h0.7M676.72 228.35h0.7M678.95 224.27h0.7M679.08 210.69h0.7M677.87 220.92h0.7M679.50 219.90h0.7M677.65 202.39h0.7M676.48 222.52h0.7M678.17 219.09h0.7M676.73 212.98h0.7M676.80 212.37h0.7M677.26 216.66h0.7M677.70 208.66h0.7M679.27 221.92h0.7M676.78 225.88h0.7M678.21 212.30h0.7M679.26 225.09h0.7M679.41 232.91h0.7M676.42 218.21h0.7M678.98 229.67h0.7M677.19 232.11h0.7M677.60 222.47h0.7M679.22 224.39h0.7M676.89 207.50h0.7M676.22 208.61h0.7M677.09 221.49h0.7M677.17 234.03h0.7M678.28 224.10h0.7M678.76 205.93h0.7M678.67 220.35h0.7M677.06 204.70h0.7M676.28 230.87h0.7M679.29 212.58h0.7M677.10 224.75h0.7M677.00 226.65h0.7M679.09 221.65h0.7M679.49 213.79h0.7M678.59 210.16h0.7M676.95 223.57h0.7M679.08 208.05h0.7M678.80 217.86h0.7M678.54 220.84h0.7M679.45 214.56h0.7M679.19 219.52h0.7M677.24 213.86h0.7M678.95 214.57h0.7M679.11 223.48h0.7M677.70 207.01h0.7M677.82 219.38h0.7M677.62 217.15h0.7M676.71 215.80h0.7M678.20 215.17h0.7M677.29 225.19h0.7M676.25 211.63h0.7M677.76 230.20h0.7M678.31 220.30h0.7M679.20 221.82h0.7M679.28 214.54h0.7M677.73 224.76h0.7M678.90 225.28h0.7M678.95 214.12h0.7M678.47 229.54h0.7M676.29 228.39h0.7M677.63 201.01h0.7M679.37 215.89h0.7M676.98 196.71h0.7M676.85 218.38h0.7M677.65 221.27h0.7M677.03 232.24h0.7M678.88 207.74h0.7M676.22 226.16h0.7M676.95 224.82h0.7M676.90 223.22h0.7M676.32 219.44h0.7M678.14 216.47h0.7M678.17 226.58h0.7M677.88 232.28h0.7M677.79 202.11h0.7M676.90 221.49h0.7M677.16 216.15h0.7M676.34 215.35h0.7M678.20 215.83h0.7M679.01 211.28h0.7M679.44 207.30h0.7M676.88 224.38h0.7M677.16 225.73h0.7M678.74 220.52h0.7M678.52 210.56h0.7M678.12 217.08h0.7M679.12 207.01h0.7M678.14 229.17h0.7M679.21 219.14h0.7M676.45 219.13h0.7M678.22 221.57h0.7M679.21 211.97h0.7M678.45 208.59h0.7M679.10 207.53h0.7M678.30 217.13h0.7M679.32 214.06h0.7M677.40 224.01h0.7M677.20 223.37h0.7M676.73 210.37h0.7" stroke="#1a1a1a" stroke-width="0.75"/>
<path d="M676.97 224.72h1.1M679.43 216.98h1.1M678.40 219.01h1.1M679.26 222.31h1.1M678.12 218.41h1.1M677.56 224.65h1.1M676.22 212.81h1.1M677.52 215.35h1.1M677.88 219.61h1.1M677.32 222.91h1.1M678.05 224.16h1.1M677.39 216.74h1.1M678.72 215.67h1.1M678.47 224.53h1.1M679.06 217.42h1.1M676.47 218.55h1.1M677.89 216.45h1.1M676.18 214.46h1.1M678.22 221.20h1.1M677.07 218.52h1.1M677.31 213.38h1.1M679.16 218.43h1.1M676.37 214.31h1.1M678.92 224.00h1.1M677.06 213.83h1.1M679.26 218.14h1.1M677.58 224.05h1.1" stroke="#e82020" stroke-width="1.1"/>
<text transform="translate(677.20,275.8) rotate(-90)" font-size="8.7" text-anchor="end" fill="#c0c0c0" stroke="#c0c0c0" stroke-width="0.15">Uni.</text>
<clipPath id="bll"><path d="M167.9 210.4L168.4 203.3L172.0 197.1L178.2 192.7L185.3 190.0L192.4 188.2L199.6 187.0L206.7 186.4L213.8 185.9L219.1 187.3L225.3 190.9L230.7 195.3L235.1 201.6L237.8 208.7L239.6 215.8L239.0 220.2L236.9 223.8L232.4 225.6L226.2 227.3L219.1 230.0L213.8 232.7L206.7 235.0L199.6 235.0L193.3 232.7L189.8 229.1L189.8 226.1L187.1 225.6L181.8 224.7L176.4 222.9L172.0 219.3L169.0 214.9Z"/></clipPath>
<g clip-path="url(#bll)">
<path d="M167.9 210.4L168.4 203.3L172.0 197.1L178.2 192.7L185.3 190.0L192.4 188.2L199.6 187.0L206.7 186.4L213.8 185.9L219.1 187.3L225.3 190.9L230.7 195.3L235.1 201.6L237.8 208.7L239.6 215.8L239.0 220.2L236.9 223.8L232.4 225.6L226.2 227.3L219.1 230.0L213.8 232.7L206.7 235.0L199.6 235.0L193.3 232.7L189.8 229.1L189.8 226.1L187.1 225.6L181.8 224.7L176.4 222.9L172.0 219.3L169.0 214.9Z" fill="#58dfe8"/>
<path d="M165.4 181.7L166.0 142.1L164.4 127.7L112.9 179.8L156.6 184.7ZM165.4 181.7L166.0 142.1L172.7 179.4L168.0 184.1ZM181.7 181.4L184.2 101.2L164.4 127.7L166.0 142.1L172.7 179.4L176.4 183.2ZM183.0 182.4L181.7 181.4L184.2 101.2L190.9 91.0L190.5 180.1L188.1 183.0ZM205.0 181.1L210.4 81.4L203.8 68.6L198.7 77.8L198.1 182.3L202.4 182.7ZM208.3 182.9L205.0 181.1L210.4 81.4L216.3 91.6L211.4 180.8ZM211.4 180.8L216.3 91.6L218.5 95.3L216.4 183.3L215.9 183.6ZM223.1 181.3L221.9 102.9L221.7 100.3L218.5 95.3L216.4 183.3L222.0 183.4ZM223.1 181.3L221.9 102.9L231.1 181.8L230.3 182.4ZM235.7 183.3L236.9 182.0L246.0 130.8L221.7 100.3L221.9 102.9L231.1 181.8ZM236.9 182.0L246.0 130.8L288.5 177.2L251.5 183.9ZM166.6 189.1L156.6 184.7L165.4 181.7L168.0 184.1L168.2 187.7ZM168.2 187.7L168.0 184.1L172.7 179.4L176.4 183.2L175.8 185.5L172.3 188.3ZM183.0 182.4L181.7 181.4L176.4 183.2L175.8 185.5L179.4 189.2L182.6 187.7ZM183.0 182.4L182.6 187.7L186.0 190.5L189.7 187.4L188.1 183.0ZM202.4 182.7L198.1 182.3L197.2 183.1L196.0 187.6L200.3 189.8L203.8 187.8ZM209.2 188.5L208.3 182.9L205.0 181.1L202.4 182.7L203.8 187.8L207.0 188.7ZM211.2 189.6L214.7 186.4L215.9 183.6L211.4 180.8L208.3 182.9L209.2 188.5ZM223.7 188.7L222.0 183.4L216.4 183.3L215.9 183.6L214.7 186.4L222.1 190.9ZM223.7 188.7L222.0 183.4L223.1 181.3L230.3 182.4L228.7 186.8L225.1 188.6ZM230.3 182.4L231.1 181.8L235.7 183.3L236.0 185.7L232.8 189.1L228.7 186.8ZM236.0 185.7L239.7 188.7L251.5 183.9L236.9 182.0L235.7 183.3ZM166.0 192.6L157.2 196.6L88.2 200.1L112.9 179.8L156.6 184.7L166.6 189.1ZM168.5 195.7L174.2 192.3L172.3 188.3L168.2 187.7L166.6 189.1L166.0 192.6ZM178.8 192.5L179.4 189.2L175.8 185.5L172.3 188.3L174.2 192.3L177.2 194.3ZM225.1 188.6L228.7 186.8L232.8 189.1L232.9 192.7L229.7 192.7ZM238.8 193.3L239.7 188.7L251.5 183.9L288.5 177.2L298.8 186.1L239.6 194.0ZM168.5 195.7L169.2 198.4L164.6 200.3L157.2 196.6L166.0 192.6ZM177.5 198.1L177.2 194.3L174.2 192.3L168.5 195.7L169.2 198.4L171.0 199.9ZM192.7 200.9L197.0 197.7L196.8 196.8L193.6 193.9L189.6 195.5L189.8 199.2ZM219.1 197.8L227.9 200.9L228.1 200.7L227.1 195.6L221.7 192.0L218.7 195.4ZM234.1 194.1L238.8 193.3L239.6 194.0L240.7 198.7L238.7 200.7L232.8 198.7ZM240.7 198.7L261.9 203.1L315.7 199.5L298.8 186.1L239.6 194.0ZM164.4 204.8L164.6 200.3L157.2 196.6L88.2 200.1L83.7 203.3L160.2 208.6ZM169.0 204.7L164.4 204.8L164.6 200.3L169.2 198.4L171.0 199.9L170.8 202.4ZM170.8 202.4L171.0 199.9L177.5 198.1L179.7 199.9L179.3 204.9L175.9 206.7ZM187.5 204.3L181.9 207.3L179.3 204.9L179.7 199.9L182.5 199.2L186.8 201.7ZM187.5 204.3L190.3 206.3L192.8 205.2L192.7 200.9L189.8 199.2L186.8 201.7ZM195.0 205.7L198.3 202.0L198.5 199.3L197.0 197.7L192.7 200.9L192.8 205.2ZM219.3 205.0L218.2 200.0L219.1 197.8L227.9 200.9L226.9 204.8L224.0 206.4ZM231.4 199.9L232.8 198.7L238.7 200.7L238.8 205.3L237.5 207.0L235.6 206.4ZM169.0 204.7L164.4 204.8L160.2 208.6L164.2 211.3L169.9 209.5ZM187.5 204.3L190.3 206.3L189.6 209.5L189.5 209.7L183.4 211.8L182.9 210.9L181.9 207.3ZM224.0 206.4L226.9 204.8L229.7 207.5L230.0 211.4L225.2 212.4L223.5 210.6ZM229.7 207.5L235.6 206.4L237.5 207.0L238.0 210.2L233.1 214.7L230.0 211.4ZM237.5 207.0L238.0 210.2L240.3 211.5L261.0 203.4L238.8 205.3ZM164.2 211.3L165.5 215.8L160.4 221.3L126.2 225.8L94.3 225.5L71.2 210.5L83.7 203.3L160.2 208.6ZM172.6 210.8L171.0 216.4L173.7 218.2L177.8 215.8L175.3 211.4L173.9 210.4ZM182.9 210.9L175.3 211.4L177.8 215.8L181.0 216.6L183.3 214.5L183.4 211.8ZM183.4 211.8L189.5 209.7L190.6 216.6L188.9 217.7L183.3 214.5ZM189.6 209.5L195.9 212.4L195.8 214.9L194.6 216.2L190.6 216.6L189.5 209.7ZM248.5 220.0L280.8 223.3L311.6 224.7L333.4 210.5L315.7 199.5L261.9 203.1L261.0 203.4L240.3 211.5L242.3 216.2ZM165.5 215.8L160.4 221.3L166.7 224.4L168.3 223.3L169.0 217.1ZM181.0 216.6L180.8 221.6L179.0 223.7L174.4 221.2L173.7 218.2L177.8 215.8ZM238.9 222.1L240.9 223.3L248.5 220.0L242.3 216.2L237.8 218.1ZM166.7 225.5L161.8 231.8L126.2 225.8L160.4 221.3L166.7 224.4ZM173.7 227.8L169.3 229.3L166.7 225.5L166.7 224.4L168.3 223.3L171.0 223.5ZM174.4 228.0L178.9 226.5L179.0 223.7L174.4 221.2L171.0 223.5L173.7 227.8ZM185.0 228.3L186.8 222.5L188.4 221.8L191.9 224.6L192.1 225.9L187.8 229.6ZM204.9 223.8L202.5 221.4L199.2 222.3L197.7 228.5L200.4 229.4L205.1 227.6L205.5 226.7ZM204.9 223.8L209.5 221.2L212.8 223.0L212.5 227.1L205.5 226.7ZM212.8 223.0L216.6 220.1L220.3 223.4L219.7 227.7L213.5 228.3L212.5 227.1ZM227.9 227.4L226.2 229.8L220.1 228.2L219.7 227.7L220.3 223.4L222.5 222.3L227.0 224.2ZM233.8 223.3L233.7 227.1L234.0 227.5L239.4 228.1L240.9 223.3L238.9 222.1ZM240.9 223.3L239.4 228.1L240.0 228.9L280.8 223.3L248.5 220.0ZM168.5 233.8L166.2 234.9L161.8 231.8L166.7 225.5L169.3 229.3ZM174.4 228.0L173.7 234.1L173.3 234.6L168.5 233.8L169.3 229.3L173.7 227.8ZM174.4 228.0L173.7 234.1L180.7 232.1L180.9 229.0L178.9 226.5ZM181.6 234.1L180.7 232.1L180.9 229.0L185.0 228.3L187.8 229.6L189.1 234.2L188.8 234.5ZM189.1 234.2L194.0 234.0L195.5 229.1L192.1 225.9L187.8 229.6ZM194.0 234.0L195.0 235.2L200.8 233.3L200.4 229.4L197.7 228.5L195.5 229.1ZM200.4 229.4L200.8 233.3L203.8 236.0L207.1 233.6L205.1 227.6ZM213.5 228.3L212.3 232.9L216.3 235.0L219.4 233.4L220.1 228.2L219.7 227.7ZM233.7 227.1L234.0 227.5L233.3 232.1L232.0 233.3L226.7 231.8L226.2 229.8L227.9 227.4ZM234.0 227.5L239.4 228.1L240.0 228.9L240.3 232.8L238.9 234.4L233.3 232.1ZM240.0 228.9L240.3 232.8L288.6 244.5L311.6 224.7L280.8 223.3ZM161.8 231.8L126.2 225.8L94.3 225.5L160.2 285.5L166.2 234.9ZM178.6 248.3L173.3 234.6L168.5 233.8L166.2 234.9L160.2 285.5L180.6 308.1L180.8 273.7ZM178.6 248.3L173.3 234.6L173.7 234.1L180.7 232.1L181.6 234.1ZM178.6 248.3L181.6 234.1L188.8 234.5L180.8 273.7ZM180.8 273.7L180.6 308.1L199.7 336.8L199.5 249.2L195.0 235.2L194.0 234.0L189.1 234.2L188.8 234.5ZM203.8 236.0L199.5 249.2L195.0 235.2L200.8 233.3ZM216.3 235.0L217.7 280.1L209.9 234.2L212.3 232.9ZM224.3 237.2L232.0 280.9L232.5 299.0L221.2 315.1L217.7 280.1L216.3 235.0L219.4 233.4ZM233.3 232.1L238.9 234.4L232.1 279.8L232.0 233.3ZM238.9 234.4L232.1 279.8L232.0 280.9L232.5 299.0L288.6 244.5L240.3 232.8Z" fill="#58dfe8" stroke="#1e2c2c" stroke-width="0.68" stroke-linejoin="round"/>
<path d="M197.2 183.1L198.1 182.3L198.7 77.8L190.9 91.0L190.5 180.1ZM188.1 183.0L190.5 180.1L197.2 183.1L196.0 187.6L194.0 188.9L189.7 187.4ZM182.6 187.7L179.4 189.2L178.8 192.5L185.7 192.8L186.0 190.5ZM218.7 195.4L212.2 192.9L211.2 189.6L214.7 186.4L222.1 190.9L221.7 192.0ZM186.8 201.7L189.8 199.2L189.6 195.5L186.2 194.1L182.5 199.2ZM219.1 197.8L218.2 200.0L211.0 202.2L210.4 201.7L210.1 200.7L212.1 193.0L212.2 192.9L218.7 195.4ZM238.7 200.7L240.7 198.7L261.9 203.1L261.0 203.4L238.8 205.3ZM175.9 206.7L179.3 204.9L181.9 207.3L182.9 210.9L175.3 211.4L173.9 210.4ZM189.6 209.5L195.9 212.4L197.9 209.2L195.0 205.7L192.8 205.2L190.3 206.3ZM211.0 202.2L211.3 204.3L209.9 208.0L203.0 208.0L203.1 206.6L204.2 204.0L210.4 201.7ZM169.9 209.5L164.2 211.3L165.5 215.8L169.0 217.1L171.0 216.4L172.6 210.8ZM203.0 216.7L195.8 214.9L194.6 216.2L196.1 221.2L199.2 222.3L202.5 221.4ZM226.2 229.8L220.1 228.2L219.4 233.4L224.3 237.2L226.7 231.8ZM226.7 231.8L232.0 233.3L232.1 279.8L232.0 280.9L224.3 237.2Z" fill="#a6eef2" stroke="#1e2c2c" stroke-width="0.68" stroke-linejoin="round"/>
<path d="M186.0 190.5L185.7 192.8L186.2 194.1L189.6 195.5L193.6 193.9L194.0 188.9L189.7 187.4ZM196.8 196.8L201.0 193.1L200.3 189.8L196.0 187.6L194.0 188.9L193.6 193.9ZM229.7 207.5L235.6 206.4L231.4 199.9L228.1 200.7L227.9 200.9L226.9 204.8ZM171.0 216.4L173.7 218.2L174.4 221.2L171.0 223.5L168.3 223.3L169.0 217.1ZM216.1 214.4L216.0 215.0L216.6 220.1L220.3 223.4L222.5 222.3L224.9 217.2Z" fill="#4a88e2" stroke="#1e2c2c" stroke-width="0.68" stroke-linejoin="round"/>
<path d="M203.7 194.2L201.0 193.1L200.3 189.8L203.8 187.8L207.0 188.7ZM212.1 193.0L204.9 195.9L203.7 194.2L207.0 188.7L209.2 188.5L211.2 189.6L212.2 192.9ZM178.9 226.5L180.9 229.0L185.0 228.3L186.8 222.5L180.8 221.6L179.0 223.7Z" fill="#f0c234" stroke="#1e2c2c" stroke-width="0.68" stroke-linejoin="round"/>
<path d="M221.7 192.0L222.1 190.9L223.7 188.7L225.1 188.6L229.7 192.7L227.1 195.6ZM227.1 195.6L229.7 192.7L232.9 192.7L234.1 194.1L232.8 198.7L231.4 199.9L228.1 200.7Z" fill="#3a68dc" stroke="#1e2c2c" stroke-width="0.68" stroke-linejoin="round"/>
<path d="M234.1 194.1L238.8 193.3L239.7 188.7L236.0 185.7L232.8 189.1L232.9 192.7ZM217.2 207.1L211.3 204.3L211.0 202.2L218.2 200.0L219.3 205.0ZM197.9 209.2L202.7 208.5L203.0 208.0L203.1 206.6L198.3 202.0L195.0 205.7ZM215.8 213.4L212.0 211.9L209.9 208.0L211.3 204.3L217.2 207.1ZM195.9 212.4L195.8 214.9L203.0 216.7L204.6 215.0L202.7 208.5L197.9 209.2ZM216.1 213.9L216.1 214.4L224.9 217.2L225.0 217.2L225.2 212.4L223.5 210.6ZM230.0 211.4L233.1 214.7L232.9 216.4L231.3 218.4L225.0 217.2L225.2 212.4ZM183.3 214.5L188.9 217.7L188.4 221.8L186.8 222.5L180.8 221.6L181.0 216.6ZM192.1 225.9L191.9 224.6L196.1 221.2L199.2 222.3L197.7 228.5L195.5 229.1ZM205.5 226.7L205.1 227.6L207.1 233.6L209.9 234.2L212.3 232.9L213.5 228.3L212.5 227.1ZM217.7 280.1L221.2 315.1L203.8 344.1L199.7 336.8L199.5 249.2L203.8 236.0L207.1 233.6L209.9 234.2Z" fill="#f6f6f2" stroke="#1e2c2c" stroke-width="0.68" stroke-linejoin="round"/>
<path d="M179.7 199.9L177.5 198.1L177.2 194.3L178.8 192.5L185.7 192.8L186.2 194.1L182.5 199.2ZM169.0 204.7L169.9 209.5L172.6 210.8L173.9 210.4L175.9 206.7L170.8 202.4ZM215.8 213.4L212.0 211.9L205.3 215.1L209.6 218.7L216.0 215.0L216.1 214.4L216.1 213.9ZM204.9 223.8L202.5 221.4L203.0 216.7L204.6 215.0L205.3 215.1L209.6 218.7L209.5 221.2ZM209.5 221.2L209.6 218.7L216.0 215.0L216.6 220.1L212.8 223.0ZM231.4 219.3L227.0 224.2L222.5 222.3L224.9 217.2L225.0 217.2L231.3 218.4ZM231.4 219.3L227.0 224.2L227.9 227.4L233.7 227.1L233.8 223.3Z" fill="#f0ee9c" stroke="#1e2c2c" stroke-width="0.68" stroke-linejoin="round"/>
<path d="M204.9 195.9L204.7 197.7L203.0 199.4L198.5 199.3L197.0 197.7L196.8 196.8L201.0 193.1L203.7 194.2ZM203.1 206.6L198.3 202.0L198.5 199.3L203.0 199.4L204.2 204.0ZM215.8 213.4L217.2 207.1L219.3 205.0L224.0 206.4L223.5 210.6L216.1 213.9ZM209.9 208.0L203.0 208.0L202.7 208.5L204.6 215.0L205.3 215.1L212.0 211.9Z" fill="#eede3a" stroke="#1e2c2c" stroke-width="0.68" stroke-linejoin="round"/>
<path d="M210.1 200.7L204.7 197.7L204.9 195.9L212.1 193.0ZM210.4 201.7L204.2 204.0L203.0 199.4L204.7 197.7L210.1 200.7ZM232.9 216.4L233.1 214.7L238.0 210.2L240.3 211.5L242.3 216.2L237.8 218.1ZM231.4 219.3L233.8 223.3L238.9 222.1L237.8 218.1L232.9 216.4L231.3 218.4Z" fill="#f08a2e" stroke="#1e2c2c" stroke-width="0.68" stroke-linejoin="round"/>
<path d="M194.6 216.2L196.1 221.2L191.9 224.6L188.4 221.8L188.9 217.7L190.6 216.6Z" fill="#1a2ae6" stroke="#1e2c2c" stroke-width="0.68" stroke-linejoin="round"/>
<path d="M167.9 210.4L168.4 203.3L172.0 197.1L178.2 192.7L185.3 190.0L192.4 188.2L199.6 187.0L206.7 186.4L213.8 185.9L219.1 187.3L225.3 190.9L230.7 195.3L235.1 201.6L237.8 208.7L239.6 215.8L239.0 220.2L236.9 223.8L232.4 225.6L226.2 227.3L219.1 230.0L213.8 232.7L206.7 235.0L199.6 235.0L193.3 232.7L189.8 229.1L189.8 226.1L187.1 225.6L181.8 224.7L176.4 222.9L172.0 219.3L169.0 214.9Z" fill="url(#bshade)"/>
</g>
<path d="M167.9 210.4L168.4 203.3L172.0 197.1L178.2 192.7L185.3 190.0L192.4 188.2L199.6 187.0L206.7 186.4L213.8 185.9L219.1 187.3L225.3 190.9L230.7 195.3L235.1 201.6L237.8 208.7L239.6 215.8L239.0 220.2L236.9 223.8L232.4 225.6L226.2 227.3L219.1 230.0L213.8 232.7L206.7 235.0L199.6 235.0L193.3 232.7L189.8 229.1L189.8 226.1L187.1 225.6L181.8 224.7L176.4 222.9L172.0 219.3L169.0 214.9Z" fill="none" stroke="#2a3434" stroke-width="0.9"/>
<clipPath id="brl"><path d="M249.2 216.7L249.9 208.7L253.1 201.6L258.4 195.3L265.6 190.0L272.7 187.3L281.6 185.9L290.4 186.4L299.3 189.1L307.3 193.6L313.6 199.8L318.0 206.9L319.2 214.0L318.0 220.2L314.4 224.7L308.2 226.4L301.1 226.4L298.4 227.3L299.3 230.9L296.7 234.4L290.4 235.3L281.6 233.6L272.7 230.0L263.8 226.4L256.7 223.8L251.3 221.1Z"/></clipPath>
<g clip-path="url(#brl)">
<path d="M249.2 216.7L249.9 208.7L253.1 201.6L258.4 195.3L265.6 190.0L272.7 187.3L281.6 185.9L290.4 186.4L299.3 189.1L307.3 193.6L313.6 199.8L318.0 206.9L319.2 214.0L318.0 220.2L314.4 224.7L308.2 226.4L301.1 226.4L298.4 227.3L299.3 230.9L296.7 234.4L290.4 235.3L281.6 233.6L272.7 230.0L263.8 226.4L256.7 223.8L251.3 221.1Z" fill="#58dfe8"/>
<path d="M245.8 181.9L253.7 118.4L181.2 191.7L238.0 186.1ZM250.2 183.9L245.8 181.9L253.7 118.4L257.7 113.8L258.1 131.2L257.2 156.9L253.8 181.6ZM257.4 184.9L261.1 182.7L257.2 156.9L253.8 181.6ZM266.4 182.4L258.1 131.2L257.2 156.9L261.1 182.7L263.6 183.6ZM270.8 184.3L272.1 183.1L274.7 119.1L273.4 89.9L257.7 113.8L258.1 131.2L266.4 182.4ZM277.1 183.4L280.6 173.5L284.7 182.7L284.4 183.2L278.8 184.8ZM284.7 182.7L280.6 173.5L274.7 119.1L273.4 89.9L284.2 69.1L301.0 99.8L290.4 181.5ZM290.6 181.8L290.4 181.5L301.0 99.8L302.3 101.9L302.3 158.3L298.3 182.1L297.9 182.5ZM304.5 184.9L298.3 182.1L302.3 158.3L306.3 181.9ZM312.4 181.9L315.3 169.3L320.2 182.4L319.1 183.9ZM310.7 113.0L374.1 181.5L320.2 182.4L315.3 169.3ZM250.2 183.9L245.8 181.9L238.0 186.1L247.2 190.0L250.1 187.9ZM270.5 187.5L270.8 184.3L266.4 182.4L263.6 183.6L263.4 188.3L270.4 187.7ZM270.5 187.5L270.8 184.3L272.1 183.1L277.1 183.4L278.8 184.8L278.8 187.6L277.0 189.9ZM291.5 186.5L285.8 190.0L284.4 183.2L284.7 182.7L290.4 181.5L290.6 181.8ZM296.6 188.2L297.9 182.5L290.6 181.8L291.5 186.5L293.6 188.1ZM304.7 186.5L304.5 186.8L297.2 188.7L296.6 188.2L297.9 182.5L298.3 182.1L304.5 184.9ZM304.7 186.5L310.5 189.2L312.1 187.8L311.8 182.5L306.3 181.9L304.5 184.9ZM312.1 187.8L316.7 188.1L318.5 186.4L319.1 183.9L312.4 181.9L311.8 182.5ZM329.0 193.0L318.5 186.4L319.1 183.9L320.2 182.4L374.1 181.5L387.6 194.1L342.5 194.3ZM247.2 190.0L238.0 186.1L181.2 191.7L179.0 193.4L242.9 196.7L247.5 193.8ZM254.0 190.0L253.8 193.2L250.4 195.5L247.5 193.8L247.2 190.0L250.1 187.9ZM257.5 188.0L261.5 190.6L261.5 190.9L257.7 196.0L253.8 193.2L254.0 190.0ZM297.2 188.7L298.3 193.0L297.0 194.6L290.8 194.4L293.6 188.1L296.6 188.2ZM297.2 188.7L304.5 186.8L303.0 193.5L298.3 193.0ZM304.7 186.5L304.5 186.8L303.0 193.5L303.5 194.0L310.3 192.5L310.5 189.2ZM312.1 187.8L316.7 188.1L318.0 194.6L310.8 193.4L310.3 192.5L310.5 189.2ZM329.0 193.0L318.5 186.4L316.7 188.1L318.0 194.6L318.2 194.8ZM251.0 199.5L246.8 200.8L242.9 196.7L247.5 193.8L250.4 195.5ZM258.2 199.3L253.0 201.0L251.0 199.5L250.4 195.5L253.8 193.2L257.7 196.0ZM265.6 199.3L265.7 194.3L261.5 190.9L257.7 196.0L258.2 199.3L258.4 199.4L265.0 199.8ZM269.9 191.6L265.7 194.3L265.6 199.3L271.6 200.0L274.0 198.8L274.0 195.4ZM290.8 194.4L290.6 194.5L290.7 197.6L294.6 200.9L297.6 199.6L297.0 194.6ZM298.3 193.0L303.0 193.5L303.5 194.0L304.2 198.7L299.3 200.4L297.6 199.6L297.0 194.6ZM305.7 199.7L304.2 198.7L303.5 194.0L310.3 192.5L310.8 193.4L310.2 197.6ZM310.2 197.6L310.8 193.4L318.0 194.6L318.2 194.8L317.1 199.2L313.5 200.2ZM329.0 193.0L318.2 194.8L317.1 199.2L319.0 201.5L342.5 194.3ZM246.8 200.8L242.9 196.7L179.0 193.4L159.9 207.0L194.0 209.3L239.0 207.4L245.2 205.1ZM252.5 204.9L253.0 201.0L251.0 199.5L246.8 200.8L245.2 205.1L250.1 207.0ZM287.5 201.5L288.9 204.7L291.1 205.5L293.1 204.7L294.6 200.9L290.7 197.6L287.5 201.2ZM305.7 199.7L304.2 198.7L299.3 200.4L299.9 204.4L304.7 205.2L306.4 203.0ZM311.8 204.4L318.9 205.9L319.3 205.4L319.0 201.5L317.1 199.2L313.5 200.2ZM250.4 211.9L248.6 213.2L239.0 207.4L245.2 205.1L250.1 207.0ZM269.5 207.0L264.9 206.2L264.4 206.8L264.0 210.8L264.6 211.6L270.1 212.2L270.6 211.6ZM304.7 209.5L304.7 205.2L299.9 204.4L298.0 207.2L298.3 208.4L302.1 210.5ZM318.9 205.9L317.7 210.4L324.2 214.2L370.3 210.4L319.3 205.4ZM247.3 216.2L248.6 213.2L239.0 207.4L194.0 209.3L240.6 218.3ZM304.0 217.6L300.8 216.3L302.1 210.5L304.7 209.5L307.9 211.2L306.9 215.7ZM306.9 215.7L307.9 211.2L311.1 210.1L314.4 211.9L314.4 215.3L311.9 218.5ZM248.7 218.1L248.5 225.6L247.2 225.6L240.6 218.3L247.3 216.2ZM294.9 223.2L298.4 221.1L299.7 216.6L294.7 214.7L291.6 217.8L291.6 219.5ZM298.4 221.1L302.6 224.2L304.8 221.0L304.0 217.6L300.8 216.3L299.7 216.6ZM311.9 222.0L311.9 218.5L306.9 215.7L304.0 217.6L304.8 221.0L311.0 222.9ZM240.6 218.3L194.0 209.3L159.9 207.0L152.8 210.6L191.2 238.6L239.1 231.5L247.2 225.6ZM276.9 222.2L272.4 219.3L269.8 223.4L270.6 227.5L276.0 228.2L277.3 224.6ZM287.3 222.8L292.1 228.8L292.1 228.9L284.2 227.6L284.3 224.7L285.1 223.1ZM287.3 222.8L291.6 219.5L294.9 223.2L294.9 223.8L292.1 228.8ZM311.9 222.0L318.2 223.0L318.3 228.5L310.5 228.0L310.2 227.5L311.0 222.9ZM318.2 223.0L319.2 222.1L332.2 225.1L319.1 229.6L318.3 228.5ZM251.3 226.7L248.5 225.6L247.2 225.6L239.1 231.5L246.4 234.6L249.5 234.0ZM251.3 226.7L249.5 234.0L252.5 236.8L256.5 234.2L256.3 229.4L252.8 226.4ZM256.3 229.4L262.3 228.9L262.7 233.4L258.6 235.3L256.5 234.2ZM269.2 234.1L269.1 229.0L262.9 228.2L262.3 228.9L262.7 233.4L265.1 235.5ZM271.4 235.9L276.7 232.7L276.1 228.3L276.0 228.2L270.6 227.5L269.1 229.0L269.2 234.1ZM276.7 232.7L276.1 228.3L283.6 228.7L284.4 233.7L279.4 234.8ZM284.2 227.6L283.6 228.7L284.4 233.7L284.9 234.1L289.4 233.7L292.1 229.1L292.1 228.9ZM310.5 228.0L311.0 233.1L307.2 235.0L302.8 232.3L303.7 228.1L310.2 227.5ZM310.5 228.0L311.0 233.1L313.2 234.6L318.9 232.0L319.1 229.6L318.3 228.5ZM318.9 232.0L319.1 229.6L332.2 225.1L345.7 224.6L321.4 234.9ZM241.9 286.4L191.2 238.6L239.1 231.5L246.4 234.6ZM252.5 236.8L252.7 297.5L241.9 286.4L246.4 234.6L249.5 234.0ZM252.5 236.8L252.7 297.5L260.9 307.2L262.1 246.7L258.6 235.3L256.5 234.2ZM262.1 246.7L258.6 235.3L262.7 233.4L265.1 235.5ZM273.9 325.4L284.2 342.7L288.2 335.7L284.9 234.1L284.4 233.7L279.4 234.8L274.7 255.4ZM300.1 279.7L296.5 243.1L289.4 233.7L284.9 234.1L288.2 335.7L301.0 314.7ZM302.8 232.3L307.2 235.0L300.1 279.7L296.5 243.1L298.9 234.8ZM313.2 234.6L311.0 233.1L307.2 235.0L300.1 279.7L301.0 314.7L322.1 289.2L321.4 280.6ZM318.9 232.0L313.2 234.6L321.4 280.6L321.4 234.9ZM321.4 234.9L345.7 224.6L404.2 215.3L322.1 289.2L321.4 280.6Z" fill="#58dfe8" stroke="#1e2c2c" stroke-width="0.68" stroke-linejoin="round"/>
<path d="M272.1 183.1L274.7 119.1L280.6 173.5L277.1 183.4ZM306.3 181.9L302.3 158.3L302.3 101.9L310.7 113.0L315.3 169.3L312.4 181.9L311.8 182.5ZM257.4 184.9L253.8 181.6L250.2 183.9L250.1 187.9L254.0 190.0L257.5 188.0ZM263.6 183.6L261.1 182.7L257.4 184.9L257.5 188.0L261.5 190.6L263.4 188.3ZM285.4 191.0L285.8 190.0L284.4 183.2L278.8 184.8L278.8 187.6ZM257.2 207.5L258.9 206.1L258.4 199.4L258.2 199.3L253.0 201.0L252.5 204.9ZM264.9 206.2L264.4 206.8L258.9 206.1L258.4 199.4L265.0 199.8ZM305.7 199.7L310.2 197.6L313.5 200.2L311.8 204.4L311.1 205.0L306.4 203.0ZM342.5 194.3L387.6 194.1L409.3 209.8L370.3 210.4L319.3 205.4L319.0 201.5ZM257.2 207.5L258.9 206.1L264.4 206.8L264.0 210.8L259.5 212.1L257.1 210.0ZM291.5 210.1L291.1 205.5L293.1 204.7L298.0 207.2L298.3 208.4L294.5 212.9ZM306.4 203.0L304.7 205.2L304.7 209.5L307.9 211.2L311.1 210.1L311.1 205.0ZM311.9 222.0L311.9 218.5L314.4 215.3L319.5 218.6L319.2 222.1L318.2 223.0ZM319.2 222.1L332.2 225.1L345.7 224.6L404.2 215.3L410.7 210.6L409.3 209.8L370.3 210.4L324.2 214.2L319.5 218.6ZM284.3 224.7L277.3 224.6L276.0 228.2L276.1 228.3L283.6 228.7L284.2 227.6ZM302.4 226.5L303.7 228.1L310.2 227.5L311.0 222.9L304.8 221.0L302.6 224.2ZM260.9 307.2L262.1 246.7L265.1 235.5L269.2 234.1L271.4 235.9L274.7 255.4L273.9 325.4ZM274.7 255.4L279.4 234.8L276.7 232.7L271.4 235.9Z" fill="#a6eef2" stroke="#1e2c2c" stroke-width="0.68" stroke-linejoin="round"/>
<path d="M270.4 187.7L263.4 188.3L261.5 190.6L261.5 190.9L265.7 194.3L269.9 191.6Z" fill="#3a68dc" stroke="#1e2c2c" stroke-width="0.68" stroke-linejoin="round"/>
<path d="M270.5 187.5L277.0 189.9L277.2 192.4L274.0 195.4L269.9 191.6L270.4 187.7ZM277.2 192.4L283.2 194.7L285.6 192.4L285.4 191.0L278.8 187.6L277.0 189.9ZM271.3 205.7L271.6 200.0L265.6 199.3L265.0 199.8L264.9 206.2L269.5 207.0ZM271.3 205.7L271.6 200.0L274.0 198.8L277.1 200.4L277.9 206.3L277.0 208.0ZM287.5 201.5L288.9 204.7L285.2 207.4L282.5 205.6L283.2 202.0ZM286.8 212.0L285.0 209.6L285.2 207.4L288.9 204.7L291.1 205.5L291.5 210.1ZM264.6 211.6L270.1 212.2L270.0 216.9L264.7 217.3ZM286.4 215.0L291.6 217.8L294.7 214.7L294.5 212.9L291.5 210.1L286.8 212.0ZM285.1 223.1L282.0 218.2L276.9 222.2L277.3 224.6L284.3 224.7ZM294.9 223.8L299.6 226.7L302.4 226.5L302.6 224.2L298.4 221.1L294.9 223.2ZM292.1 228.8L294.9 223.8L299.6 226.7L296.1 230.8L292.1 229.1L292.1 228.9ZM299.6 226.7L302.4 226.5L303.7 228.1L302.8 232.3L298.9 234.8L296.1 230.8Z" fill="#eede3a" stroke="#1e2c2c" stroke-width="0.68" stroke-linejoin="round"/>
<path d="M293.6 188.1L291.5 186.5L285.8 190.0L285.4 191.0L285.6 192.4L290.6 194.5L290.8 194.4ZM298.0 207.2L293.1 204.7L294.6 200.9L297.6 199.6L299.3 200.4L299.9 204.4ZM271.3 205.7L277.0 208.0L277.1 211.0L270.6 211.6L269.5 207.0ZM257.1 210.0L259.5 212.1L258.8 217.2L254.8 216.2L252.6 212.6ZM264.6 211.6L264.0 210.8L259.5 212.1L258.8 217.2L259.7 218.3L263.7 218.3L264.7 217.3ZM287.3 222.8L291.6 219.5L291.6 217.8L286.4 215.0L282.1 217.4L282.0 218.2L285.1 223.1ZM292.1 229.1L289.4 233.7L296.5 243.1L298.9 234.8L296.1 230.8Z" fill="#f6f6f2" stroke="#1e2c2c" stroke-width="0.68" stroke-linejoin="round"/>
<path d="M277.2 192.4L283.2 194.7L283.1 195.0L280.3 199.2L277.1 200.4L274.0 198.8L274.0 195.4ZM257.2 207.5L252.5 204.9L250.1 207.0L250.4 211.9L252.6 212.6L257.1 210.0ZM277.0 208.0L277.9 206.3L282.5 205.6L285.2 207.4L285.0 209.6L277.8 212.0L277.1 211.0ZM311.8 204.4L318.9 205.9L317.7 210.4L314.4 211.9L311.1 210.1L311.1 205.0ZM286.4 215.0L282.1 217.4L278.0 213.1L277.8 212.0L285.0 209.6L286.8 212.0Z" fill="#f0c234" stroke="#1e2c2c" stroke-width="0.68" stroke-linejoin="round"/>
<path d="M283.1 195.0L287.5 201.2L287.5 201.5L283.2 202.0L280.3 199.2ZM283.1 195.0L287.5 201.2L290.7 197.6L290.6 194.5L285.6 192.4L283.2 194.7ZM277.1 200.4L277.9 206.3L282.5 205.6L283.2 202.0L280.3 199.2ZM252.6 212.6L254.8 216.2L252.7 218.7L248.7 218.1L247.3 216.2L248.6 213.2L250.4 211.9ZM282.0 218.2L276.9 222.2L272.4 219.3L272.4 218.9L278.0 213.1L282.1 217.4Z" fill="#f08a2e" stroke="#1e2c2c" stroke-width="0.68" stroke-linejoin="round"/>
<path d="M270.6 211.6L270.1 212.2L270.0 216.9L272.4 218.9L278.0 213.1L277.8 212.0L277.1 211.0ZM251.3 226.7L248.5 225.6L248.7 218.1L252.7 218.7L254.1 224.4L252.8 226.4Z" fill="#e8401e" stroke="#1e2c2c" stroke-width="0.68" stroke-linejoin="round"/>
<path d="M294.7 214.7L299.7 216.6L300.8 216.3L302.1 210.5L298.3 208.4L294.5 212.9ZM314.4 215.3L314.4 211.9L317.7 210.4L324.2 214.2L319.5 218.6Z" fill="#4a88e2" stroke="#1e2c2c" stroke-width="0.68" stroke-linejoin="round"/>
<path d="M254.1 224.4L258.1 222.1L259.7 218.3L258.8 217.2L254.8 216.2L252.7 218.7ZM259.7 218.3L263.7 218.3L265.3 222.2L262.7 226.1L258.1 222.1ZM264.7 217.3L263.7 218.3L265.3 222.2L269.8 223.4L272.4 219.3L272.4 218.9L270.0 216.9ZM252.8 226.4L254.1 224.4L258.1 222.1L262.7 226.1L262.9 228.2L262.3 228.9L256.3 229.4ZM262.9 228.2L262.7 226.1L265.3 222.2L269.8 223.4L270.6 227.5L269.1 229.0Z" fill="#f0ee9c" stroke="#1e2c2c" stroke-width="0.68" stroke-linejoin="round"/>
<path d="M249.2 216.7L249.9 208.7L253.1 201.6L258.4 195.3L265.6 190.0L272.7 187.3L281.6 185.9L290.4 186.4L299.3 189.1L307.3 193.6L313.6 199.8L318.0 206.9L319.2 214.0L318.0 220.2L314.4 224.7L308.2 226.4L301.1 226.4L298.4 227.3L299.3 230.9L296.7 234.4L290.4 235.3L281.6 233.6L272.7 230.0L263.8 226.4L256.7 223.8L251.3 221.1Z" fill="url(#bshade)"/>
</g>
<path d="M249.2 216.7L249.9 208.7L253.1 201.6L258.4 195.3L265.6 190.0L272.7 187.3L281.6 185.9L290.4 186.4L299.3 189.1L307.3 193.6L313.6 199.8L318.0 206.9L319.2 214.0L318.0 220.2L314.4 224.7L308.2 226.4L301.1 226.4L298.4 227.3L299.3 230.9L296.7 234.4L290.4 235.3L281.6 233.6L272.7 230.0L263.8 226.4L256.7 223.8L251.3 221.1Z" fill="none" stroke="#2a3434" stroke-width="0.9"/>
<clipPath id="blm"><path d="M169.0 267.1L170.2 260.9L173.8 253.8L179.1 247.6L185.3 243.1L192.4 240.4L201.3 239.6L210.2 240.4L219.1 243.1L227.1 247.6L234.2 253.8L238.3 260.9L239.0 267.1L237.8 273.3L234.2 277.8L228.0 280.4L221.8 281.3L219.1 283.1L217.3 286.7L213.8 289.0L209.3 289.0L203.1 285.8L196.0 281.9L188.9 279.6L181.8 278.3L174.7 276.0L170.2 272.4Z"/></clipPath>
<g clip-path="url(#blm)">
<path d="M169.0 267.1L170.2 260.9L173.8 253.8L179.1 247.6L185.3 243.1L192.4 240.4L201.3 239.6L210.2 240.4L219.1 243.1L227.1 247.6L234.2 253.8L238.3 260.9L239.0 267.1L237.8 273.3L234.2 277.8L228.0 280.4L221.8 281.3L219.1 283.1L217.3 286.7L213.8 289.0L209.3 289.0L203.1 285.8L196.0 281.9L188.9 279.6L181.8 278.3L174.7 276.0L170.2 272.4Z" fill="#58dfe8"/>
<path d="M155.3 239.4L108.0 240.7L106.6 240.6L164.2 182.9L166.0 199.5L165.6 236.3ZM165.6 236.3L166.0 199.5L172.1 235.5L169.6 238.2ZM177.3 237.0L179.9 234.8L185.9 155.0L164.2 182.9L166.0 199.5L172.1 235.5ZM186.8 236.5L188.8 150.9L185.9 155.0L179.9 234.8L185.2 237.4ZM186.8 236.5L188.8 150.9L196.7 138.9L193.0 237.3L192.8 237.5ZM203.9 197.6L200.8 236.2L196.9 238.2L193.0 237.3L196.7 138.9L200.7 132.0L203.9 174.3ZM208.1 235.1L203.8 238.4L200.8 236.2L203.9 197.6ZM208.1 235.1L203.9 197.6L203.9 174.3L215.4 234.1L211.0 236.9ZM203.9 174.3L200.7 132.0L204.0 124.9L234.9 173.0L232.9 203.0L221.5 235.6L218.4 236.7L215.4 234.1ZM221.5 235.6L232.9 203.0L233.0 206.2L229.9 234.6L225.6 237.7ZM236.4 238.6L231.4 236.5L229.9 234.6L233.0 206.2L238.8 236.5ZM248.4 239.6L296.1 237.8L234.9 173.0L232.9 203.0L233.0 206.2L238.8 236.5ZM155.3 239.4L167.1 242.5L169.5 239.4L169.6 238.2L165.6 236.3ZM169.6 238.2L172.1 235.5L177.3 237.0L177.6 240.7L174.2 243.3L169.5 239.4ZM177.6 240.7L182.3 244.0L184.6 241.7L185.2 237.4L179.9 234.8L177.3 237.0ZM186.8 236.5L192.8 237.5L191.1 243.3L184.6 241.7L185.2 237.4ZM208.1 235.1L203.8 238.4L204.3 239.6L210.0 242.9L210.8 241.9L211.0 236.9ZM211.0 236.9L210.8 241.9L217.9 240.2L218.4 236.7L215.4 234.1ZM217.9 240.2L218.4 236.7L221.5 235.6L225.6 237.7L225.8 242.7L224.3 244.3L224.0 244.4L219.0 242.1ZM236.2 240.5L231.2 242.9L230.3 242.4L231.4 236.5L236.4 238.6ZM236.2 240.5L238.4 244.8L248.4 239.6L238.8 236.5L236.4 238.6ZM155.3 239.4L108.0 240.7L156.2 249.7L167.7 247.0L167.1 242.5ZM219.0 242.1L224.0 244.4L220.7 249.6L215.1 248.2L215.1 248.2ZM236.2 240.5L231.2 242.9L232.7 246.7L234.6 247.8L238.0 246.1L238.4 244.8ZM238.4 244.8L238.0 246.1L243.1 251.3L314.6 253.4L296.1 237.8L248.4 239.6ZM156.2 249.7L166.4 256.1L170.0 252.5L169.9 248.5L167.7 247.0ZM173.6 246.6L169.9 248.5L170.0 252.5L174.0 254.5L177.4 251.8L177.6 248.6ZM191.5 252.4L189.5 247.9L183.9 248.1L183.9 253.0L189.8 255.7ZM209.1 253.9L207.5 250.5L208.2 247.9L210.0 246.3L215.1 248.2L215.1 248.2L215.0 254.0ZM221.8 252.7L220.7 249.6L215.1 248.2L215.0 254.0L216.5 256.0ZM224.5 254.1L227.5 252.5L227.6 248.5L224.3 244.3L224.0 244.4L220.7 249.6L221.8 252.7ZM227.5 252.5L227.6 248.5L232.7 246.7L234.6 247.8L234.1 252.4L232.1 254.2ZM234.6 247.8L238.0 246.1L243.1 251.3L239.7 253.8L234.1 252.4ZM156.2 249.7L166.4 256.1L166.5 258.1L160.2 262.8L71.0 264.0L106.6 240.6L108.0 240.7ZM166.5 258.1L169.4 260.9L175.3 258.4L174.0 254.5L170.0 252.5L166.4 256.1ZM216.4 257.5L216.5 256.0L215.0 254.0L209.1 253.9L208.3 257.8L210.4 259.7ZM224.5 254.1L227.5 252.5L232.1 254.2L232.6 258.3L230.1 260.2L225.3 259.9L224.4 258.7ZM165.9 267.4L160.2 262.8L166.5 258.1L169.4 260.9L169.6 262.8ZM183.3 265.1L184.4 260.3L180.7 257.8L177.3 259.5L177.5 264.3L178.8 265.8ZM194.1 265.1L196.9 264.6L198.1 258.8L197.6 258.2L190.2 258.0L189.9 258.7L191.0 263.7ZM203.5 259.5L198.1 258.8L196.9 264.6L199.8 266.5L203.8 263.5ZM210.4 259.7L208.3 257.8L204.0 258.9L203.5 259.5L203.8 263.5L207.4 265.7L210.8 264.1ZM217.7 259.5L217.6 262.6L214.1 265.9L210.8 264.1L210.4 259.7L216.4 257.5ZM217.7 259.5L224.4 258.7L225.3 259.9L224.3 263.6L221.5 264.8L217.6 262.6ZM237.0 260.5L232.6 258.3L230.1 260.2L230.7 267.5L231.9 268.0L237.0 264.3ZM237.0 260.5L237.0 264.3L239.2 266.0L268.5 264.9L239.0 259.3ZM166.1 269.5L161.2 273.8L90.9 277.2L70.4 264.3L71.0 264.0L160.2 262.8L165.9 267.4ZM190.1 271.2L187.1 267.6L191.0 263.7L194.1 265.1L193.7 270.3ZM193.7 270.3L194.1 265.1L196.9 264.6L199.8 266.5L200.3 270.0L196.9 272.5ZM204.5 271.9L200.3 270.0L199.8 266.5L203.8 263.5L207.4 265.7L206.5 270.7ZM214.1 265.9L214.6 267.8L211.3 272.0L206.5 270.7L207.4 265.7L210.8 264.1ZM217.6 262.6L221.5 264.8L220.7 270.3L219.6 270.9L214.6 267.8L214.1 265.9ZM228.1 267.8L224.3 263.6L221.5 264.8L220.7 270.3L225.2 270.8ZM268.5 264.9L289.3 266.6L238.9 272.0L239.2 266.0ZM166.1 269.5L161.2 273.8L165.3 277.6L169.2 276.5L170.3 271.2ZM194.1 277.5L189.4 274.6L190.1 271.2L193.7 270.3L196.9 272.5L196.4 275.8ZM201.9 278.5L196.4 275.8L196.9 272.5L200.3 270.0L204.5 271.9L204.5 276.1ZM209.9 278.6L212.5 275.3L211.3 272.0L206.5 270.7L204.5 271.9L204.5 276.1ZM219.6 270.9L218.3 276.2L212.5 275.3L211.3 272.0L214.6 267.8ZM237.5 276.3L238.2 277.6L266.3 275.6L324.4 267.4L324.5 267.4L289.3 266.6L238.9 272.0L238.1 272.6ZM165.4 280.8L165.3 277.6L161.2 273.8L90.9 277.2L111.0 292.3L159.3 285.4ZM165.4 280.8L165.3 277.6L169.2 276.5L171.8 278.6L171.6 282.4L170.2 283.9ZM209.9 278.6L212.5 275.3L218.3 276.2L218.4 276.5L217.8 281.7L213.6 283.4L210.1 280.6ZM238.0 279.3L240.5 282.0L266.3 275.6L238.2 277.6ZM165.4 280.8L170.2 283.9L170.0 285.9L167.6 288.2L159.3 285.4ZM170.2 283.9L171.6 282.4L178.9 282.7L179.5 286.6L175.0 289.0L170.0 285.9ZM186.1 286.6L181.7 288.2L179.5 286.6L178.9 282.7L179.4 281.7L186.5 280.9L186.9 281.3ZM190.1 289.0L186.1 286.6L186.9 281.3L192.9 281.7L191.2 288.2ZM191.2 288.2L197.4 289.4L198.1 288.2L197.5 283.6L193.3 281.4L192.9 281.7ZM205.2 284.5L205.3 286.9L198.1 288.2L197.5 283.6L201.8 281.3ZM226.4 282.4L226.0 286.2L221.0 287.0L219.0 282.7L225.2 280.9ZM231.1 281.0L226.4 282.4L226.0 286.2L227.5 287.5L233.5 286.6L233.9 286.1L233.8 283.4ZM233.8 283.4L233.9 286.1L240.8 287.3L240.5 282.0L238.0 279.3ZM240.5 282.0L240.8 287.3L269.8 313.4L324.4 267.4L266.3 275.6ZM159.3 285.4L111.0 292.3L165.0 342.2L167.6 288.2ZM167.6 288.2L165.0 342.2L167.6 345.0L175.0 289.0L170.0 285.9ZM179.5 286.6L175.0 289.0L167.6 345.0L185.2 366.4L185.7 317.7L181.7 288.2ZM190.1 289.0L185.7 317.7L185.2 366.4L204.0 394.7L212.1 379.3L207.3 338.7L197.4 289.4L191.2 288.2ZM220.2 288.6L213.1 286.5L212.6 287.2L216.3 316.3ZM233.5 286.6L237.8 347.1L221.9 365.9L227.5 287.5ZM233.9 286.1L233.5 286.6L237.8 347.1L269.8 313.4L240.8 287.3Z" fill="#58dfe8" stroke="#1e2c2c" stroke-width="0.68" stroke-linejoin="round"/>
<path d="M192.8 237.5L193.0 237.3L196.9 238.2L198.0 242.5L196.9 246.1L191.5 244.6L191.1 243.3Z" fill="#f0c234" stroke="#1e2c2c" stroke-width="0.68" stroke-linejoin="round"/>
<path d="M203.8 238.4L200.8 236.2L196.9 238.2L198.0 242.5L202.7 242.2L204.3 239.6ZM196.9 246.1L197.3 246.7L199.0 247.7L202.9 245.9L202.7 242.2L198.0 242.5ZM207.5 250.5L208.2 247.9L202.9 245.9L199.0 247.7L200.1 251.9L202.6 252.6ZM191.5 252.4L192.7 252.1L198.2 253.7L197.6 258.2L190.2 258.0L189.8 255.7ZM166.1 269.5L170.3 271.2L171.6 270.9L172.9 265.3L169.6 262.8L165.9 267.4ZM178.6 276.9L184.0 274.8L183.7 271.6L178.3 269.5L175.9 272.5L176.8 275.5ZM186.2 276.0L184.0 274.8L183.7 271.6L186.4 267.6L187.1 267.6L190.1 271.2L189.4 274.6ZM225.2 270.8L220.7 270.3L219.6 270.9L218.3 276.2L218.4 276.5L224.8 277.5L226.7 275.6ZM232.5 269.2L231.9 268.0L230.7 267.5L228.1 267.8L225.2 270.8L226.7 275.6L230.5 276.0ZM237.5 276.3L230.9 276.4L230.5 276.0L232.5 269.2L238.1 272.6ZM179.4 281.7L178.6 276.9L176.8 275.5L171.8 278.6L171.6 282.4L178.9 282.7ZM179.4 281.7L186.5 280.9L186.2 276.0L184.0 274.8L178.6 276.9ZM186.9 281.3L186.5 280.9L186.2 276.0L189.4 274.6L194.1 277.5L193.3 281.4L192.9 281.7ZM218.4 276.5L224.8 277.5L225.2 280.9L219.0 282.7L217.8 281.7ZM230.9 276.4L231.1 281.0L226.4 282.4L225.2 280.9L224.8 277.5L226.7 275.6L230.5 276.0ZM237.5 276.3L238.2 277.6L238.0 279.3L233.8 283.4L231.1 281.0L230.9 276.4Z" fill="#eede3a" stroke="#1e2c2c" stroke-width="0.68" stroke-linejoin="round"/>
<path d="M231.4 236.5L229.9 234.6L225.6 237.7L225.8 242.7L230.3 242.4ZM169.5 239.4L174.2 243.3L173.6 246.6L169.9 248.5L167.7 247.0L167.1 242.5ZM177.6 240.7L182.3 244.0L182.3 246.4L177.6 248.6L173.6 246.6L174.2 243.3ZM204.3 239.6L202.7 242.2L202.9 245.9L208.2 247.9L210.0 246.3L210.0 242.9ZM210.8 241.9L217.9 240.2L219.0 242.1L215.1 248.2L210.0 246.3L210.0 242.9ZM231.2 242.9L232.7 246.7L227.6 248.5L224.3 244.3L225.8 242.7L230.3 242.4ZM204.0 258.9L202.6 252.6L200.1 251.9L198.2 253.7L197.6 258.2L198.1 258.8L203.5 259.5ZM204.0 258.9L202.6 252.6L207.5 250.5L209.1 253.9L208.3 257.8ZM217.7 259.5L224.4 258.7L224.5 254.1L221.8 252.7L216.5 256.0L216.4 257.5ZM237.0 260.5L232.6 258.3L232.1 254.2L234.1 252.4L239.7 253.8L239.0 259.3ZM239.0 259.3L239.7 253.8L243.1 251.3L314.6 253.4L329.7 264.3L324.5 267.4L289.3 266.6L268.5 264.9ZM201.9 278.5L196.4 275.8L194.1 277.5L193.3 281.4L197.5 283.6L201.8 281.3ZM209.9 278.6L204.5 276.1L201.9 278.5L201.8 281.3L205.2 284.5L210.1 280.6ZM213.6 283.4L213.1 286.5L220.2 288.6L221.0 287.0L219.0 282.7L217.8 281.7ZM190.1 289.0L185.7 317.7L181.7 288.2L186.1 286.6ZM205.3 286.9L205.5 287.2L207.3 338.7L197.4 289.4L198.1 288.2ZM226.0 286.2L227.5 287.5L221.9 365.9L215.3 374.5L216.3 316.3L220.2 288.6L221.0 287.0Z" fill="#a6eef2" stroke="#1e2c2c" stroke-width="0.68" stroke-linejoin="round"/>
<path d="M184.6 241.7L182.3 244.0L182.3 246.4L183.9 248.1L189.5 247.9L191.5 244.6L191.1 243.3Z" fill="#3a68dc" stroke="#1e2c2c" stroke-width="0.68" stroke-linejoin="round"/>
<path d="M191.5 252.4L192.7 252.1L197.3 246.7L196.9 246.1L191.5 244.6L189.5 247.9ZM197.3 246.7L192.7 252.1L198.2 253.7L200.1 251.9L199.0 247.7ZM172.9 265.3L177.5 264.3L178.8 265.8L178.3 269.5L175.9 272.5L171.6 270.9ZM183.7 271.6L178.3 269.5L178.8 265.8L183.3 265.1L186.4 267.6Z" fill="#f0ee9c" stroke="#1e2c2c" stroke-width="0.68" stroke-linejoin="round"/>
<path d="M183.9 248.1L182.3 246.4L177.6 248.6L177.4 251.8L181.4 254.9L183.9 253.0ZM177.3 259.5L175.3 258.4L174.0 254.5L177.4 251.8L181.4 254.9L180.7 257.8Z" fill="#4a88e2" stroke="#1e2c2c" stroke-width="0.68" stroke-linejoin="round"/>
<path d="M189.8 255.7L190.2 258.0L189.9 258.7L184.4 260.3L180.7 257.8L181.4 254.9L183.9 253.0ZM172.9 265.3L177.5 264.3L177.3 259.5L175.3 258.4L169.4 260.9L169.6 262.8ZM186.4 267.6L187.1 267.6L191.0 263.7L189.9 258.7L184.4 260.3L183.3 265.1ZM230.7 267.5L230.1 260.2L225.3 259.9L224.3 263.6L228.1 267.8ZM238.1 272.6L238.9 272.0L239.2 266.0L237.0 264.3L231.9 268.0L232.5 269.2ZM210.1 280.6L213.6 283.4L213.1 286.5L212.6 287.2L205.5 287.2L205.3 286.9L205.2 284.5ZM216.3 316.3L215.3 374.5L212.1 379.3L207.3 338.7L205.5 287.2L212.6 287.2Z" fill="#f6f6f2" stroke="#1e2c2c" stroke-width="0.68" stroke-linejoin="round"/>
<path d="M170.3 271.2L169.2 276.5L171.8 278.6L176.8 275.5L175.9 272.5L171.6 270.9Z" fill="#f08a2e" stroke="#1e2c2c" stroke-width="0.68" stroke-linejoin="round"/>
<path d="M169.0 267.1L170.2 260.9L173.8 253.8L179.1 247.6L185.3 243.1L192.4 240.4L201.3 239.6L210.2 240.4L219.1 243.1L227.1 247.6L234.2 253.8L238.3 260.9L239.0 267.1L237.8 273.3L234.2 277.8L228.0 280.4L221.8 281.3L219.1 283.1L217.3 286.7L213.8 289.0L209.3 289.0L203.1 285.8L196.0 281.9L188.9 279.6L181.8 278.3L174.7 276.0L170.2 272.4Z" fill="url(#bshade)"/>
<path d="M191.3 271.1L191.7 266.7L194.2 262.4L199.8 259.7L208.2 258.6L217.7 258.6L224.4 259.7L228.1 262.4L229.4 266.7L228.1 271.1L224.4 273.7L219.6 275.4L217.7 279.0L218.6 282.4L215.9 285.0L211.1 286.4L206.4 285.0L201.7 281.5L197.0 277.7L192.9 274.5Z" fill="url(#wshade)" stroke="#2a2a2a" stroke-width="0.6"/>
</g>
<path d="M169.0 267.1L170.2 260.9L173.8 253.8L179.1 247.6L185.3 243.1L192.4 240.4L201.3 239.6L210.2 240.4L219.1 243.1L227.1 247.6L234.2 253.8L238.3 260.9L239.0 267.1L237.8 273.3L234.2 277.8L228.0 280.4L221.8 281.3L219.1 283.1L217.3 286.7L213.8 289.0L209.3 289.0L203.1 285.8L196.0 281.9L188.9 279.6L181.8 278.3L174.7 276.0L170.2 272.4Z" fill="none" stroke="#2a3434" stroke-width="0.9"/>
<clipPath id="brm"><path d="M249.0 267.1L250.2 260.9L253.8 253.8L259.1 247.6L267.1 243.1L276.0 240.4L286.7 239.6L295.6 240.4L304.4 244.0L311.6 249.3L316.9 256.4L319.0 264.4L318.7 271.6L316.0 276.0L310.7 277.8L302.7 278.7L295.6 280.4L288.4 283.1L281.3 285.8L276.0 288.4L270.7 288.4L268.9 284.9L269.8 281.3L265.3 280.4L258.2 278.7L252.9 275.1L249.7 271.6Z"/></clipPath>
<g clip-path="url(#brm)">
<path d="M249.0 267.1L250.2 260.9L253.8 253.8L259.1 247.6L267.1 243.1L276.0 240.4L286.7 239.6L295.6 240.4L304.4 244.0L311.6 249.3L316.9 256.4L319.0 264.4L318.7 271.6L316.0 276.0L310.7 277.8L302.7 278.7L295.6 280.4L288.4 283.1L281.3 285.8L276.0 288.4L270.7 288.4L268.9 284.9L269.8 281.3L265.3 280.4L258.2 278.7L252.9 275.1L249.7 271.6Z" fill="#58dfe8"/>
<path d="M236.6 239.9L208.1 243.0L183.8 242.2L247.0 179.3L248.4 201.3L246.2 234.5ZM249.3 237.8L246.2 234.5L248.4 201.3L254.5 234.1ZM254.5 234.1L248.4 201.3L247.0 179.3L264.7 155.5L265.5 220.7L261.2 236.6L256.9 236.1ZM265.5 220.7L261.2 236.6L261.3 236.7L268.3 238.0L270.0 235.3ZM264.7 155.5L265.5 220.7L270.0 235.3L276.2 235.5L276.2 235.5L276.7 135.7ZM276.7 135.7L284.0 122.8L289.8 134.1L282.1 236.8L276.2 235.5ZM288.8 234.6L295.5 205.5L297.5 190.8L299.3 151.5L289.8 134.1L282.1 236.8L282.4 237.1ZM290.8 237.1L295.5 235.8L295.5 205.5L288.8 234.6ZM302.2 235.9L297.5 190.8L295.5 205.5L295.5 235.8L297.9 238.2ZM305.6 238.2L310.5 235.4L312.5 190.5L311.9 169.0L299.3 151.5L297.5 190.8L302.2 235.9ZM313.2 237.7L318.8 236.0L312.5 190.5L310.5 235.4ZM319.7 236.6L318.8 236.0L312.5 190.5L311.9 169.0L370.2 231.9L338.2 236.5ZM249.3 237.8L246.2 234.5L236.6 239.9L245.6 242.0L249.3 240.6ZM249.3 237.8L254.5 234.1L256.9 236.1L254.2 242.1L251.9 242.7L249.3 240.6ZM254.2 242.1L259.9 244.3L261.0 242.8L261.3 236.7L261.2 236.6L256.9 236.1ZM261.3 236.7L261.0 242.8L267.4 243.1L268.8 240.2L268.3 238.0ZM276.2 235.5L274.6 242.1L268.8 240.2L268.3 238.0L270.0 235.3ZM282.7 238.7L279.0 243.1L275.1 242.8L274.6 242.1L276.2 235.5L276.2 235.5L282.1 236.8L282.4 237.1ZM290.8 237.1L290.8 240.7L290.3 241.4L286.5 242.8L282.7 238.7L282.4 237.1L288.8 234.6ZM290.8 237.1L295.5 235.8L297.9 238.2L297.3 241.0L290.8 240.7ZM305.5 243.6L305.6 238.2L310.5 235.4L313.2 237.7L313.6 242.7L305.9 243.8ZM313.8 242.9L313.6 242.7L313.2 237.7L318.8 236.0L319.7 236.6L319.1 242.5ZM319.1 242.5L319.7 236.6L338.2 236.5L320.1 243.3ZM245.6 242.0L245.9 247.3L240.5 249.5L208.1 243.0L236.6 239.9ZM249.3 240.6L245.6 242.0L245.9 247.3L248.5 248.2L251.6 246.0L251.9 242.7ZM254.2 242.1L259.9 244.3L260.0 246.8L255.7 250.0L251.6 246.0L251.9 242.7ZM267.4 243.1L268.8 240.2L274.6 242.1L275.1 242.8L273.6 246.8L270.6 247.7L268.2 246.4ZM309.8 250.7L311.3 250.4L314.0 246.3L313.8 242.9L313.6 242.7L305.9 243.8ZM314.0 246.3L319.5 248.8L320.8 247.9L320.1 243.3L319.1 242.5L313.8 242.9ZM320.1 243.3L338.2 236.5L370.2 231.9L400.0 257.2L358.2 256.8L320.8 247.9ZM248.8 252.0L248.5 248.2L245.9 247.3L240.5 249.5L245.8 254.4ZM248.8 252.0L248.5 248.2L251.6 246.0L255.7 250.0L255.2 252.9L253.8 253.6ZM263.8 251.7L263.5 249.5L260.0 246.8L255.7 250.0L255.2 252.9L259.1 255.7ZM268.1 255.1L270.1 253.8L270.6 247.7L268.2 246.4L263.5 249.5L263.8 251.7ZM270.6 247.7L270.1 253.8L274.9 254.5L278.2 252.0L278.1 251.0L273.6 246.8ZM292.4 252.7L291.7 248.5L286.2 247.3L285.8 254.4L287.8 254.9ZM316.3 253.8L317.7 252.8L319.5 248.8L314.0 246.3L311.3 250.4ZM319.5 248.8L317.7 252.8L336.4 258.8L358.2 256.8L320.8 247.9ZM245.7 257.0L245.8 254.4L240.5 249.5L208.1 243.0L183.8 242.2L152.0 264.0L171.3 274.5L173.8 274.5L178.3 274.0L237.9 261.7ZM261.9 258.9L267.0 258.7L267.5 258.4L268.1 255.1L263.8 251.7L259.1 255.7L259.4 257.0ZM273.5 261.7L267.5 258.4L268.1 255.1L270.1 253.8L274.9 254.5L275.2 259.7ZM281.9 259.7L282.9 255.6L278.2 252.0L274.9 254.5L275.2 259.7ZM309.5 259.0L309.9 258.6L308.8 251.8L303.6 252.8L303.2 253.6L303.0 257.4L304.6 259.3ZM309.9 258.6L308.8 251.8L309.8 250.7L311.3 250.4L316.3 253.8L316.0 257.7ZM316.0 257.7L316.3 253.8L317.7 252.8L336.4 258.8L334.2 259.2L316.3 258.1ZM250.7 260.1L245.7 257.0L237.9 261.7L248.6 265.1L250.2 263.9ZM261.1 264.3L261.9 258.9L267.0 258.7L265.9 265.0L262.4 265.0ZM273.6 262.6L267.1 266.2L265.9 265.0L267.0 258.7L267.5 258.4L273.5 261.7ZM281.9 259.7L275.2 259.7L273.5 261.7L273.6 262.6L274.8 264.6L281.6 264.3L282.1 260.1ZM288.4 261.6L282.1 260.1L281.6 264.3L281.9 264.8L288.9 264.7ZM240.0 273.1L178.3 274.0L237.9 261.7L248.6 265.1L247.0 270.1ZM273.6 262.6L267.1 266.2L268.1 270.1L274.4 269.7L274.8 264.6ZM281.6 264.3L281.9 264.8L282.0 269.3L275.7 271.0L274.4 269.7L274.8 264.6ZM319.5 269.1L337.2 274.7L403.5 269.1L411.0 264.0L400.0 257.2L358.2 256.8L336.4 258.8L334.2 259.2L319.0 265.7ZM245.7 276.9L250.5 275.3L250.0 272.0L247.0 270.1L240.0 273.1ZM279.0 278.0L282.7 275.5L283.6 270.5L282.0 269.3L275.7 271.0L275.8 274.9ZM289.3 270.3L283.6 270.5L282.7 275.5L286.5 277.6L290.2 273.9L289.8 271.1ZM317.9 272.5L318.6 275.8L336.9 274.8L337.2 274.7L319.5 269.1ZM245.7 276.9L247.6 280.8L241.2 284.8L173.8 274.5L178.3 274.0L240.0 273.1ZM270.6 279.9L272.3 282.0L277.8 282.2L279.1 281.1L279.0 278.0L275.8 274.9L270.4 277.7ZM279.1 281.1L283.9 283.4L287.0 281.7L286.5 277.6L282.7 275.5L279.0 278.0ZM290.2 273.9L292.0 275.6L291.5 282.0L290.7 282.6L287.0 281.7L286.5 277.6ZM311.2 277.0L309.3 281.5L312.8 284.1L317.4 279.4L317.2 277.6L311.9 276.6ZM317.2 277.6L318.6 275.8L336.9 274.8L320.3 283.0L317.4 279.4ZM247.6 280.8L241.2 284.8L246.0 288.2L251.1 286.7L250.3 281.3ZM257.6 281.1L252.0 279.8L250.3 281.3L251.1 286.7L252.7 287.7L257.5 286.3L258.3 282.8ZM258.3 282.8L257.5 286.3L260.1 288.8L265.9 286.5L265.2 283.3L264.1 282.3ZM265.2 283.3L265.9 286.5L267.5 287.6L270.9 286.5L272.3 282.0L270.6 279.9ZM277.8 282.2L277.0 286.8L282.3 288.7L283.9 287.3L283.9 283.4L279.1 281.1ZM288.2 290.0L283.9 287.3L283.9 283.4L287.0 281.7L290.7 282.6L291.2 287.3ZM291.2 287.3L290.7 282.6L291.5 282.0L297.8 281.7L297.8 287.7L295.5 289.1ZM320.3 283.0L320.6 287.1L386.6 283.2L403.5 269.1L337.2 274.7L336.9 274.8ZM173.8 274.5L171.3 274.5L245.2 342.8L246.0 288.2L241.2 284.8ZM251.1 286.7L252.7 287.7L253.5 351.5L245.2 342.8L246.0 288.2ZM257.5 286.3L260.1 288.8L264.1 364.1L253.5 351.5L252.7 287.7ZM265.9 286.5L260.1 288.8L264.1 364.1L268.5 369.9L267.5 287.6ZM267.5 287.6L268.5 369.9L271.2 373.8L276.7 304.0L274.9 289.1L270.9 286.5ZM288.2 290.0L283.9 287.3L282.3 288.7L276.7 304.0L271.2 373.8L284.0 395.8L288.7 387.8L290.3 333.6ZM288.2 290.0L291.2 287.3L295.5 289.1L290.3 333.6ZM290.3 333.6L288.7 387.8L303.7 366.1L301.7 289.3L297.8 287.7L295.5 289.1ZM307.1 288.3L305.3 287.1L301.7 289.3L303.7 366.1L317.4 347.8L311.5 302.9ZM313.1 286.5L307.1 288.3L311.5 302.9L313.1 286.5ZM313.1 286.5L319.8 288.2L320.2 344.7L317.4 347.8L311.5 302.9Z" fill="#58dfe8" stroke="#1e2c2c" stroke-width="0.68" stroke-linejoin="round"/>
<path d="M305.5 243.6L305.6 238.2L302.2 235.9L297.9 238.2L297.3 241.0L297.7 242.0L304.8 243.9ZM297.7 242.0L297.3 241.0L290.8 240.7L290.3 241.4L293.4 246.6L296.2 246.1ZM261.1 264.3L261.9 258.9L259.4 257.0L256.7 260.2L258.1 264.7Z" fill="#f6f6f2" stroke="#1e2c2c" stroke-width="0.68" stroke-linejoin="round"/>
<path d="M261.0 242.8L267.4 243.1L268.2 246.4L263.5 249.5L260.0 246.8L259.9 244.3ZM250.7 260.1L245.7 257.0L245.8 254.4L248.8 252.0L253.8 253.6L251.0 259.9ZM259.4 257.0L259.1 255.7L255.2 252.9L253.8 253.6L251.0 259.9L256.7 260.2ZM258.1 264.7L256.7 260.2L251.0 259.9L250.7 260.1L250.2 263.9L255.7 267.1ZM247.0 270.1L248.6 265.1L250.2 263.9L255.7 267.1L256.0 269.6L255.7 270.1L250.0 272.0ZM290.3 266.7L289.3 270.3L283.6 270.5L282.0 269.3L281.9 264.8L288.9 264.7ZM296.5 264.0L296.9 264.3L298.7 270.2L297.9 271.1L289.8 271.1L289.3 270.3L290.3 266.7ZM303.4 263.4L296.9 264.3L298.7 270.2L304.5 271.2L306.0 269.6L306.1 266.9ZM305.2 283.5L298.3 281.2L297.8 281.7L297.8 287.7L301.7 289.3L305.3 287.1ZM309.3 281.5L306.3 282.2L305.2 283.5L305.3 287.1L307.1 288.3L313.1 286.5L312.8 284.1ZM317.4 279.4L320.3 283.0L320.6 287.1L319.8 288.2L313.1 286.5L313.1 286.5L312.8 284.1ZM277.0 286.8L282.3 288.7L276.7 304.0L274.9 289.1ZM320.2 344.7L386.6 283.2L320.6 287.1L319.8 288.2Z" fill="#a6eef2" stroke="#1e2c2c" stroke-width="0.68" stroke-linejoin="round"/>
<path d="M281.1 247.2L278.1 251.0L273.6 246.8L275.1 242.8L279.0 243.1ZM286.2 247.3L285.7 246.6L281.1 247.2L278.1 251.0L278.2 252.0L282.9 255.6L285.8 254.4ZM289.8 271.1L290.2 273.9L292.0 275.6L296.9 276.0L297.9 271.1ZM304.5 271.2L304.7 275.0L304.4 275.5L298.6 278.7L296.9 276.0L297.9 271.1L298.7 270.2ZM291.5 282.0L297.8 281.7L298.3 281.2L298.6 278.7L296.9 276.0L292.0 275.6ZM304.4 275.5L298.6 278.7L298.3 281.2L305.2 283.5L306.3 282.2Z" fill="#f0ee9c" stroke="#1e2c2c" stroke-width="0.68" stroke-linejoin="round"/>
<path d="M282.7 238.7L279.0 243.1L281.1 247.2L285.7 246.6L286.5 242.8ZM291.7 248.5L293.4 246.6L290.3 241.4L286.5 242.8L285.7 246.6L286.2 247.3ZM295.4 254.1L295.6 253.9L298.5 248.7L296.2 246.1L293.4 246.6L291.7 248.5L292.4 252.7ZM303.6 252.8L303.2 253.6L295.6 253.9L298.5 248.7L301.5 248.9ZM295.4 254.1L295.6 253.9L303.2 253.6L303.0 257.4L296.1 259.0ZM303.4 263.4L296.9 264.3L296.5 264.0L295.8 259.7L296.1 259.0L303.0 257.4L304.6 259.3ZM310.3 263.6L314.3 265.4L316.7 264.5L316.3 258.1L316.0 257.7L309.9 258.6L309.5 259.0ZM316.7 264.5L319.0 265.7L334.2 259.2L316.3 258.1ZM261.1 264.3L258.1 264.7L255.7 267.1L256.0 269.6L261.5 270.4L262.4 265.0ZM262.4 265.0L265.9 265.0L267.1 266.2L268.1 270.1L267.9 270.5L263.2 272.0L261.5 270.4ZM306.1 266.9L306.0 269.6L311.2 270.8L312.4 270.1L314.3 265.4L310.3 263.6ZM250.5 275.3L252.0 277.0L256.4 274.3L255.7 270.1L250.0 272.0ZM261.8 276.0L263.2 272.0L261.5 270.4L256.0 269.6L255.7 270.1L256.4 274.3L259.3 276.6ZM261.8 276.0L263.2 272.0L267.9 270.5L269.2 276.8L264.1 277.8ZM269.2 276.8L267.9 270.5L268.1 270.1L274.4 269.7L275.7 271.0L275.8 274.9L270.4 277.7ZM306.0 269.6L311.2 270.8L311.9 276.6L311.2 277.0L304.7 275.0L304.5 271.2ZM245.7 276.9L247.6 280.8L250.3 281.3L252.0 279.8L252.0 277.0L250.5 275.3ZM259.3 276.6L256.4 274.3L252.0 277.0L252.0 279.8L257.6 281.1ZM261.8 276.0L264.1 277.8L264.1 282.3L258.3 282.8L257.6 281.1L259.3 276.6ZM311.2 277.0L304.7 275.0L304.4 275.5L306.3 282.2L309.3 281.5Z" fill="#eede3a" stroke="#1e2c2c" stroke-width="0.68" stroke-linejoin="round"/>
<path d="M301.5 248.9L298.5 248.7L296.2 246.1L297.7 242.0L304.8 243.9Z" fill="#1a2ae6" stroke="#1e2c2c" stroke-width="0.68" stroke-linejoin="round"/>
<path d="M308.8 251.8L303.6 252.8L301.5 248.9L304.8 243.9L305.5 243.6L305.9 243.8L309.8 250.7Z" fill="#4a88e2" stroke="#1e2c2c" stroke-width="0.68" stroke-linejoin="round"/>
<path d="M289.9 259.3L287.8 254.9L285.8 254.4L282.9 255.6L281.9 259.7L282.1 260.1L288.4 261.6ZM295.8 259.7L296.1 259.0L295.4 254.1L292.4 252.7L287.8 254.9L289.9 259.3ZM296.5 264.0L290.3 266.7L288.9 264.7L288.4 261.6L289.9 259.3L295.8 259.7Z" fill="#3a68dc" stroke="#1e2c2c" stroke-width="0.68" stroke-linejoin="round"/>
<path d="M303.4 263.4L304.6 259.3L309.5 259.0L310.3 263.6L306.1 266.9ZM316.7 264.5L319.0 265.7L319.5 269.1L317.9 272.5L312.4 270.1L314.3 265.4ZM311.9 276.6L311.2 270.8L312.4 270.1L317.9 272.5L318.6 275.8L317.2 277.6ZM277.8 282.2L277.0 286.8L274.9 289.1L270.9 286.5L272.3 282.0Z" fill="#f0c234" stroke="#1e2c2c" stroke-width="0.68" stroke-linejoin="round"/>
<path d="M264.1 277.8L269.2 276.8L270.4 277.7L270.6 279.9L265.2 283.3L264.1 282.3Z" fill="#f08a2e" stroke="#1e2c2c" stroke-width="0.68" stroke-linejoin="round"/>
<path d="M249.0 267.1L250.2 260.9L253.8 253.8L259.1 247.6L267.1 243.1L276.0 240.4L286.7 239.6L295.6 240.4L304.4 244.0L311.6 249.3L316.9 256.4L319.0 264.4L318.7 271.6L316.0 276.0L310.7 277.8L302.7 278.7L295.6 280.4L288.4 283.1L281.3 285.8L276.0 288.4L270.7 288.4L268.9 284.9L269.8 281.3L265.3 280.4L258.2 278.7L252.9 275.1L249.7 271.6Z" fill="url(#bshade)"/>
<path d="M260.8 268.5L261.8 264.2L265.5 261.1L272.1 259.3L281.5 258.9L290.0 259.8L295.7 262.4L298.5 266.7L298.5 271.1L296.7 274.6L291.9 277.2L286.3 279.9L279.7 281.5L274.9 282.1L273.2 284.6L274.3 287.5L272.1 288.2L269.3 284.6L268.4 280.8L264.5 277.2L261.8 272.9Z" fill="url(#wshade)" stroke="#2a2a2a" stroke-width="0.6"/>
</g>
<path d="M249.0 267.1L250.2 260.9L253.8 253.8L259.1 247.6L267.1 243.1L276.0 240.4L286.7 239.6L295.6 240.4L304.4 244.0L311.6 249.3L316.9 256.4L319.0 264.4L318.7 271.6L316.0 276.0L310.7 277.8L302.7 278.7L295.6 280.4L288.4 283.1L281.3 285.8L276.0 288.4L270.7 288.4L268.9 284.9L269.8 281.3L265.3 280.4L258.2 278.7L252.9 275.1L249.7 271.6Z" fill="none" stroke="#2a3434" stroke-width="0.9"/>
</svg></body></html>
